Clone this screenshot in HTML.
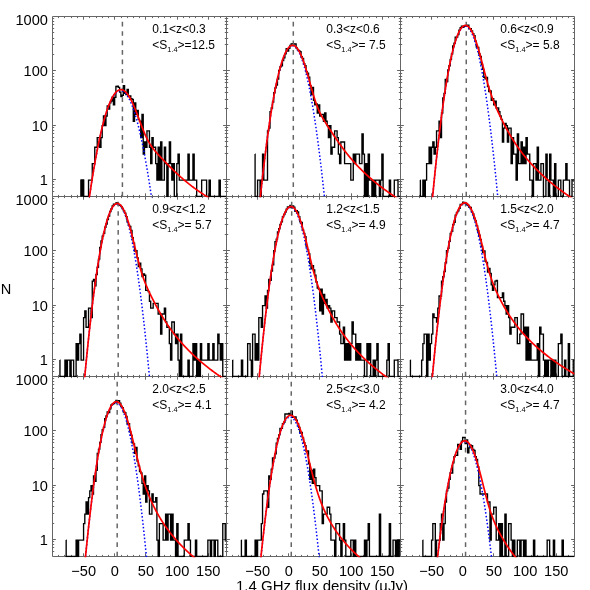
<!DOCTYPE html>
<html><head><meta charset="utf-8"><title>1.4 GHz flux density histograms</title>
<style>html,body{margin:0;padding:0;background:#fff;}body{width:590px;height:590px;overflow:hidden;font-family:"Liberation Sans",sans-serif;}svg{display:block;}</style></head>
<body>
<svg width="590" height="590" viewBox="0 0 590 590">
<rect width="590" height="590" fill="#fff"/>
<defs>
<clipPath id="c00"><rect x="52.50" y="16.50" width="174.00" height="180.70"/></clipPath>
<clipPath id="c01"><rect x="226.50" y="16.50" width="174.00" height="180.70"/></clipPath>
<clipPath id="c02"><rect x="400.50" y="16.50" width="174.00" height="180.70"/></clipPath>
<clipPath id="c10"><rect x="52.50" y="196.50" width="174.00" height="180.70"/></clipPath>
<clipPath id="c11"><rect x="226.50" y="196.50" width="174.00" height="180.70"/></clipPath>
<clipPath id="c12"><rect x="400.50" y="196.50" width="174.00" height="180.70"/></clipPath>
<clipPath id="c20"><rect x="52.50" y="376.50" width="174.00" height="180.70"/></clipPath>
<clipPath id="c21"><rect x="226.50" y="376.50" width="174.00" height="180.70"/></clipPath>
<clipPath id="c22"><rect x="400.50" y="376.50" width="174.00" height="180.70"/></clipPath>
</defs>
<path d="M52.50,16.50 H226.50 V196.50 H52.50 Z M58.50,196.50 v-1.6 M58.50,16.50 v1.6 M64.50,196.50 v-1.6 M64.50,16.50 v1.6 M71.50,196.50 v-1.6 M71.50,16.50 v1.6 M77.50,196.50 v-1.6 M77.50,16.50 v1.6 M83.50,196.50 v-3.2 M83.50,16.50 v3.2 M89.50,196.50 v-1.6 M89.50,16.50 v1.6 M96.50,196.50 v-1.6 M96.50,16.50 v1.6 M102.50,196.50 v-1.6 M102.50,16.50 v1.6 M108.50,196.50 v-1.6 M108.50,16.50 v1.6 M114.50,196.50 v-3.2 M114.50,16.50 v3.2 M121.50,196.50 v-1.6 M121.50,16.50 v1.6 M127.50,196.50 v-1.6 M127.50,16.50 v1.6 M133.50,196.50 v-1.6 M133.50,16.50 v1.6 M139.50,196.50 v-1.6 M139.50,16.50 v1.6 M145.50,196.50 v-3.2 M145.50,16.50 v3.2 M152.50,196.50 v-1.6 M152.50,16.50 v1.6 M158.50,196.50 v-1.6 M158.50,16.50 v1.6 M164.50,196.50 v-1.6 M164.50,16.50 v1.6 M170.50,196.50 v-1.6 M170.50,16.50 v1.6 M177.50,196.50 v-3.2 M177.50,16.50 v3.2 M183.50,196.50 v-1.6 M183.50,16.50 v1.6 M189.50,196.50 v-1.6 M189.50,16.50 v1.6 M195.50,196.50 v-1.6 M195.50,16.50 v1.6 M202.50,196.50 v-1.6 M202.50,16.50 v1.6 M208.50,196.50 v-3.2 M208.50,16.50 v3.2 M214.50,196.50 v-1.6 M214.50,16.50 v1.6 M220.50,196.50 v-1.6 M220.50,16.50 v1.6 M52.50,179.50 h3.4 M226.50,179.50 h-3.4 M52.50,163.50 h1.7 M226.50,163.50 h-1.7 M52.50,153.50 h1.7 M226.50,153.50 h-1.7 M52.50,146.50 h1.7 M226.50,146.50 h-1.7 M52.50,141.50 h1.7 M226.50,141.50 h-1.7 M52.50,137.50 h1.7 M226.50,137.50 h-1.7 M52.50,133.50 h1.7 M226.50,133.50 h-1.7 M52.50,130.50 h1.7 M226.50,130.50 h-1.7 M52.50,127.50 h1.7 M226.50,127.50 h-1.7 M52.50,125.50 h3.4 M226.50,125.50 h-3.4 M52.50,108.50 h1.7 M226.50,108.50 h-1.7 M52.50,99.50 h1.7 M226.50,99.50 h-1.7 M52.50,92.50 h1.7 M226.50,92.50 h-1.7 M52.50,87.50 h1.7 M226.50,87.50 h-1.7 M52.50,82.50 h1.7 M226.50,82.50 h-1.7 M52.50,79.50 h1.7 M226.50,79.50 h-1.7 M52.50,76.50 h1.7 M226.50,76.50 h-1.7 M52.50,73.50 h1.7 M226.50,73.50 h-1.7 M52.50,70.50 h3.4 M226.50,70.50 h-3.4 M52.50,54.50 h1.7 M226.50,54.50 h-1.7 M52.50,44.50 h1.7 M226.50,44.50 h-1.7 M52.50,38.50 h1.7 M226.50,38.50 h-1.7 M52.50,32.50 h1.7 M226.50,32.50 h-1.7 M52.50,28.50 h1.7 M226.50,28.50 h-1.7 M52.50,24.50 h1.7 M226.50,24.50 h-1.7 M52.50,21.50 h1.7 M226.50,21.50 h-1.7 M52.50,18.50 h1.7 M226.50,18.50 h-1.7 M52.50,191.50 h1.7 M226.50,191.50 h-1.7 M52.50,187.50 h1.7 M226.50,187.50 h-1.7 M52.50,184.50 h1.7 M226.50,184.50 h-1.7 M52.50,181.50 h1.7 M226.50,181.50 h-1.7 M226.50,16.50 H400.50 V196.50 H226.50 Z M232.50,196.50 v-1.6 M232.50,16.50 v1.6 M238.50,196.50 v-1.6 M238.50,16.50 v1.6 M245.50,196.50 v-1.6 M245.50,16.50 v1.6 M251.50,196.50 v-1.6 M251.50,16.50 v1.6 M257.50,196.50 v-3.2 M257.50,16.50 v3.2 M263.50,196.50 v-1.6 M263.50,16.50 v1.6 M270.50,196.50 v-1.6 M270.50,16.50 v1.6 M276.50,196.50 v-1.6 M276.50,16.50 v1.6 M282.50,196.50 v-1.6 M282.50,16.50 v1.6 M288.50,196.50 v-3.2 M288.50,16.50 v3.2 M295.50,196.50 v-1.6 M295.50,16.50 v1.6 M301.50,196.50 v-1.6 M301.50,16.50 v1.6 M307.50,196.50 v-1.6 M307.50,16.50 v1.6 M313.50,196.50 v-1.6 M313.50,16.50 v1.6 M319.50,196.50 v-3.2 M319.50,16.50 v3.2 M326.50,196.50 v-1.6 M326.50,16.50 v1.6 M332.50,196.50 v-1.6 M332.50,16.50 v1.6 M338.50,196.50 v-1.6 M338.50,16.50 v1.6 M344.50,196.50 v-1.6 M344.50,16.50 v1.6 M351.50,196.50 v-3.2 M351.50,16.50 v3.2 M357.50,196.50 v-1.6 M357.50,16.50 v1.6 M363.50,196.50 v-1.6 M363.50,16.50 v1.6 M369.50,196.50 v-1.6 M369.50,16.50 v1.6 M376.50,196.50 v-1.6 M376.50,16.50 v1.6 M382.50,196.50 v-3.2 M382.50,16.50 v3.2 M388.50,196.50 v-1.6 M388.50,16.50 v1.6 M394.50,196.50 v-1.6 M394.50,16.50 v1.6 M226.50,179.50 h3.4 M400.50,179.50 h-3.4 M226.50,163.50 h1.7 M400.50,163.50 h-1.7 M226.50,153.50 h1.7 M400.50,153.50 h-1.7 M226.50,146.50 h1.7 M400.50,146.50 h-1.7 M226.50,141.50 h1.7 M400.50,141.50 h-1.7 M226.50,137.50 h1.7 M400.50,137.50 h-1.7 M226.50,133.50 h1.7 M400.50,133.50 h-1.7 M226.50,130.50 h1.7 M400.50,130.50 h-1.7 M226.50,127.50 h1.7 M400.50,127.50 h-1.7 M226.50,125.50 h3.4 M400.50,125.50 h-3.4 M226.50,108.50 h1.7 M400.50,108.50 h-1.7 M226.50,99.50 h1.7 M400.50,99.50 h-1.7 M226.50,92.50 h1.7 M400.50,92.50 h-1.7 M226.50,87.50 h1.7 M400.50,87.50 h-1.7 M226.50,82.50 h1.7 M400.50,82.50 h-1.7 M226.50,79.50 h1.7 M400.50,79.50 h-1.7 M226.50,76.50 h1.7 M400.50,76.50 h-1.7 M226.50,73.50 h1.7 M400.50,73.50 h-1.7 M226.50,70.50 h3.4 M400.50,70.50 h-3.4 M226.50,54.50 h1.7 M400.50,54.50 h-1.7 M226.50,44.50 h1.7 M400.50,44.50 h-1.7 M226.50,38.50 h1.7 M400.50,38.50 h-1.7 M226.50,32.50 h1.7 M400.50,32.50 h-1.7 M226.50,28.50 h1.7 M400.50,28.50 h-1.7 M226.50,24.50 h1.7 M400.50,24.50 h-1.7 M226.50,21.50 h1.7 M400.50,21.50 h-1.7 M226.50,18.50 h1.7 M400.50,18.50 h-1.7 M226.50,191.50 h1.7 M400.50,191.50 h-1.7 M226.50,187.50 h1.7 M400.50,187.50 h-1.7 M226.50,184.50 h1.7 M400.50,184.50 h-1.7 M226.50,181.50 h1.7 M400.50,181.50 h-1.7 M400.50,16.50 H574.50 V196.50 H400.50 Z M406.50,196.50 v-1.6 M406.50,16.50 v1.6 M412.50,196.50 v-1.6 M412.50,16.50 v1.6 M419.50,196.50 v-1.6 M419.50,16.50 v1.6 M425.50,196.50 v-1.6 M425.50,16.50 v1.6 M431.50,196.50 v-3.2 M431.50,16.50 v3.2 M437.50,196.50 v-1.6 M437.50,16.50 v1.6 M444.50,196.50 v-1.6 M444.50,16.50 v1.6 M450.50,196.50 v-1.6 M450.50,16.50 v1.6 M456.50,196.50 v-1.6 M456.50,16.50 v1.6 M462.50,196.50 v-3.2 M462.50,16.50 v3.2 M469.50,196.50 v-1.6 M469.50,16.50 v1.6 M475.50,196.50 v-1.6 M475.50,16.50 v1.6 M481.50,196.50 v-1.6 M481.50,16.50 v1.6 M487.50,196.50 v-1.6 M487.50,16.50 v1.6 M493.50,196.50 v-3.2 M493.50,16.50 v3.2 M500.50,196.50 v-1.6 M500.50,16.50 v1.6 M506.50,196.50 v-1.6 M506.50,16.50 v1.6 M512.50,196.50 v-1.6 M512.50,16.50 v1.6 M518.50,196.50 v-1.6 M518.50,16.50 v1.6 M525.50,196.50 v-3.2 M525.50,16.50 v3.2 M531.50,196.50 v-1.6 M531.50,16.50 v1.6 M537.50,196.50 v-1.6 M537.50,16.50 v1.6 M543.50,196.50 v-1.6 M543.50,16.50 v1.6 M550.50,196.50 v-1.6 M550.50,16.50 v1.6 M556.50,196.50 v-3.2 M556.50,16.50 v3.2 M562.50,196.50 v-1.6 M562.50,16.50 v1.6 M568.50,196.50 v-1.6 M568.50,16.50 v1.6 M400.50,179.50 h3.4 M574.50,179.50 h-3.4 M400.50,163.50 h1.7 M574.50,163.50 h-1.7 M400.50,153.50 h1.7 M574.50,153.50 h-1.7 M400.50,146.50 h1.7 M574.50,146.50 h-1.7 M400.50,141.50 h1.7 M574.50,141.50 h-1.7 M400.50,137.50 h1.7 M574.50,137.50 h-1.7 M400.50,133.50 h1.7 M574.50,133.50 h-1.7 M400.50,130.50 h1.7 M574.50,130.50 h-1.7 M400.50,127.50 h1.7 M574.50,127.50 h-1.7 M400.50,125.50 h3.4 M574.50,125.50 h-3.4 M400.50,108.50 h1.7 M574.50,108.50 h-1.7 M400.50,99.50 h1.7 M574.50,99.50 h-1.7 M400.50,92.50 h1.7 M574.50,92.50 h-1.7 M400.50,87.50 h1.7 M574.50,87.50 h-1.7 M400.50,82.50 h1.7 M574.50,82.50 h-1.7 M400.50,79.50 h1.7 M574.50,79.50 h-1.7 M400.50,76.50 h1.7 M574.50,76.50 h-1.7 M400.50,73.50 h1.7 M574.50,73.50 h-1.7 M400.50,70.50 h3.4 M574.50,70.50 h-3.4 M400.50,54.50 h1.7 M574.50,54.50 h-1.7 M400.50,44.50 h1.7 M574.50,44.50 h-1.7 M400.50,38.50 h1.7 M574.50,38.50 h-1.7 M400.50,32.50 h1.7 M574.50,32.50 h-1.7 M400.50,28.50 h1.7 M574.50,28.50 h-1.7 M400.50,24.50 h1.7 M574.50,24.50 h-1.7 M400.50,21.50 h1.7 M574.50,21.50 h-1.7 M400.50,18.50 h1.7 M574.50,18.50 h-1.7 M400.50,191.50 h1.7 M574.50,191.50 h-1.7 M400.50,187.50 h1.7 M574.50,187.50 h-1.7 M400.50,184.50 h1.7 M574.50,184.50 h-1.7 M400.50,181.50 h1.7 M574.50,181.50 h-1.7 M52.50,196.50 H226.50 V376.50 H52.50 Z M58.50,376.50 v-1.6 M58.50,196.50 v1.6 M64.50,376.50 v-1.6 M64.50,196.50 v1.6 M71.50,376.50 v-1.6 M71.50,196.50 v1.6 M77.50,376.50 v-1.6 M77.50,196.50 v1.6 M83.50,376.50 v-3.2 M83.50,196.50 v3.2 M89.50,376.50 v-1.6 M89.50,196.50 v1.6 M96.50,376.50 v-1.6 M96.50,196.50 v1.6 M102.50,376.50 v-1.6 M102.50,196.50 v1.6 M108.50,376.50 v-1.6 M108.50,196.50 v1.6 M114.50,376.50 v-3.2 M114.50,196.50 v3.2 M121.50,376.50 v-1.6 M121.50,196.50 v1.6 M127.50,376.50 v-1.6 M127.50,196.50 v1.6 M133.50,376.50 v-1.6 M133.50,196.50 v1.6 M139.50,376.50 v-1.6 M139.50,196.50 v1.6 M145.50,376.50 v-3.2 M145.50,196.50 v3.2 M152.50,376.50 v-1.6 M152.50,196.50 v1.6 M158.50,376.50 v-1.6 M158.50,196.50 v1.6 M164.50,376.50 v-1.6 M164.50,196.50 v1.6 M170.50,376.50 v-1.6 M170.50,196.50 v1.6 M177.50,376.50 v-3.2 M177.50,196.50 v3.2 M183.50,376.50 v-1.6 M183.50,196.50 v1.6 M189.50,376.50 v-1.6 M189.50,196.50 v1.6 M195.50,376.50 v-1.6 M195.50,196.50 v1.6 M202.50,376.50 v-1.6 M202.50,196.50 v1.6 M208.50,376.50 v-3.2 M208.50,196.50 v3.2 M214.50,376.50 v-1.6 M214.50,196.50 v1.6 M220.50,376.50 v-1.6 M220.50,196.50 v1.6 M52.50,359.50 h3.4 M226.50,359.50 h-3.4 M52.50,343.50 h1.7 M226.50,343.50 h-1.7 M52.50,333.50 h1.7 M226.50,333.50 h-1.7 M52.50,326.50 h1.7 M226.50,326.50 h-1.7 M52.50,321.50 h1.7 M226.50,321.50 h-1.7 M52.50,317.50 h1.7 M226.50,317.50 h-1.7 M52.50,313.50 h1.7 M226.50,313.50 h-1.7 M52.50,310.50 h1.7 M226.50,310.50 h-1.7 M52.50,307.50 h1.7 M226.50,307.50 h-1.7 M52.50,305.50 h3.4 M226.50,305.50 h-3.4 M52.50,288.50 h1.7 M226.50,288.50 h-1.7 M52.50,279.50 h1.7 M226.50,279.50 h-1.7 M52.50,272.50 h1.7 M226.50,272.50 h-1.7 M52.50,267.50 h1.7 M226.50,267.50 h-1.7 M52.50,262.50 h1.7 M226.50,262.50 h-1.7 M52.50,259.50 h1.7 M226.50,259.50 h-1.7 M52.50,256.50 h1.7 M226.50,256.50 h-1.7 M52.50,253.50 h1.7 M226.50,253.50 h-1.7 M52.50,250.50 h3.4 M226.50,250.50 h-3.4 M52.50,234.50 h1.7 M226.50,234.50 h-1.7 M52.50,224.50 h1.7 M226.50,224.50 h-1.7 M52.50,218.50 h1.7 M226.50,218.50 h-1.7 M52.50,212.50 h1.7 M226.50,212.50 h-1.7 M52.50,208.50 h1.7 M226.50,208.50 h-1.7 M52.50,204.50 h1.7 M226.50,204.50 h-1.7 M52.50,201.50 h1.7 M226.50,201.50 h-1.7 M52.50,198.50 h1.7 M226.50,198.50 h-1.7 M52.50,371.50 h1.7 M226.50,371.50 h-1.7 M52.50,367.50 h1.7 M226.50,367.50 h-1.7 M52.50,364.50 h1.7 M226.50,364.50 h-1.7 M52.50,361.50 h1.7 M226.50,361.50 h-1.7 M226.50,196.50 H400.50 V376.50 H226.50 Z M232.50,376.50 v-1.6 M232.50,196.50 v1.6 M238.50,376.50 v-1.6 M238.50,196.50 v1.6 M245.50,376.50 v-1.6 M245.50,196.50 v1.6 M251.50,376.50 v-1.6 M251.50,196.50 v1.6 M257.50,376.50 v-3.2 M257.50,196.50 v3.2 M263.50,376.50 v-1.6 M263.50,196.50 v1.6 M270.50,376.50 v-1.6 M270.50,196.50 v1.6 M276.50,376.50 v-1.6 M276.50,196.50 v1.6 M282.50,376.50 v-1.6 M282.50,196.50 v1.6 M288.50,376.50 v-3.2 M288.50,196.50 v3.2 M295.50,376.50 v-1.6 M295.50,196.50 v1.6 M301.50,376.50 v-1.6 M301.50,196.50 v1.6 M307.50,376.50 v-1.6 M307.50,196.50 v1.6 M313.50,376.50 v-1.6 M313.50,196.50 v1.6 M319.50,376.50 v-3.2 M319.50,196.50 v3.2 M326.50,376.50 v-1.6 M326.50,196.50 v1.6 M332.50,376.50 v-1.6 M332.50,196.50 v1.6 M338.50,376.50 v-1.6 M338.50,196.50 v1.6 M344.50,376.50 v-1.6 M344.50,196.50 v1.6 M351.50,376.50 v-3.2 M351.50,196.50 v3.2 M357.50,376.50 v-1.6 M357.50,196.50 v1.6 M363.50,376.50 v-1.6 M363.50,196.50 v1.6 M369.50,376.50 v-1.6 M369.50,196.50 v1.6 M376.50,376.50 v-1.6 M376.50,196.50 v1.6 M382.50,376.50 v-3.2 M382.50,196.50 v3.2 M388.50,376.50 v-1.6 M388.50,196.50 v1.6 M394.50,376.50 v-1.6 M394.50,196.50 v1.6 M226.50,359.50 h3.4 M400.50,359.50 h-3.4 M226.50,343.50 h1.7 M400.50,343.50 h-1.7 M226.50,333.50 h1.7 M400.50,333.50 h-1.7 M226.50,326.50 h1.7 M400.50,326.50 h-1.7 M226.50,321.50 h1.7 M400.50,321.50 h-1.7 M226.50,317.50 h1.7 M400.50,317.50 h-1.7 M226.50,313.50 h1.7 M400.50,313.50 h-1.7 M226.50,310.50 h1.7 M400.50,310.50 h-1.7 M226.50,307.50 h1.7 M400.50,307.50 h-1.7 M226.50,305.50 h3.4 M400.50,305.50 h-3.4 M226.50,288.50 h1.7 M400.50,288.50 h-1.7 M226.50,279.50 h1.7 M400.50,279.50 h-1.7 M226.50,272.50 h1.7 M400.50,272.50 h-1.7 M226.50,267.50 h1.7 M400.50,267.50 h-1.7 M226.50,262.50 h1.7 M400.50,262.50 h-1.7 M226.50,259.50 h1.7 M400.50,259.50 h-1.7 M226.50,256.50 h1.7 M400.50,256.50 h-1.7 M226.50,253.50 h1.7 M400.50,253.50 h-1.7 M226.50,250.50 h3.4 M400.50,250.50 h-3.4 M226.50,234.50 h1.7 M400.50,234.50 h-1.7 M226.50,224.50 h1.7 M400.50,224.50 h-1.7 M226.50,218.50 h1.7 M400.50,218.50 h-1.7 M226.50,212.50 h1.7 M400.50,212.50 h-1.7 M226.50,208.50 h1.7 M400.50,208.50 h-1.7 M226.50,204.50 h1.7 M400.50,204.50 h-1.7 M226.50,201.50 h1.7 M400.50,201.50 h-1.7 M226.50,198.50 h1.7 M400.50,198.50 h-1.7 M226.50,371.50 h1.7 M400.50,371.50 h-1.7 M226.50,367.50 h1.7 M400.50,367.50 h-1.7 M226.50,364.50 h1.7 M400.50,364.50 h-1.7 M226.50,361.50 h1.7 M400.50,361.50 h-1.7 M400.50,196.50 H574.50 V376.50 H400.50 Z M406.50,376.50 v-1.6 M406.50,196.50 v1.6 M412.50,376.50 v-1.6 M412.50,196.50 v1.6 M419.50,376.50 v-1.6 M419.50,196.50 v1.6 M425.50,376.50 v-1.6 M425.50,196.50 v1.6 M431.50,376.50 v-3.2 M431.50,196.50 v3.2 M437.50,376.50 v-1.6 M437.50,196.50 v1.6 M444.50,376.50 v-1.6 M444.50,196.50 v1.6 M450.50,376.50 v-1.6 M450.50,196.50 v1.6 M456.50,376.50 v-1.6 M456.50,196.50 v1.6 M462.50,376.50 v-3.2 M462.50,196.50 v3.2 M469.50,376.50 v-1.6 M469.50,196.50 v1.6 M475.50,376.50 v-1.6 M475.50,196.50 v1.6 M481.50,376.50 v-1.6 M481.50,196.50 v1.6 M487.50,376.50 v-1.6 M487.50,196.50 v1.6 M493.50,376.50 v-3.2 M493.50,196.50 v3.2 M500.50,376.50 v-1.6 M500.50,196.50 v1.6 M506.50,376.50 v-1.6 M506.50,196.50 v1.6 M512.50,376.50 v-1.6 M512.50,196.50 v1.6 M518.50,376.50 v-1.6 M518.50,196.50 v1.6 M525.50,376.50 v-3.2 M525.50,196.50 v3.2 M531.50,376.50 v-1.6 M531.50,196.50 v1.6 M537.50,376.50 v-1.6 M537.50,196.50 v1.6 M543.50,376.50 v-1.6 M543.50,196.50 v1.6 M550.50,376.50 v-1.6 M550.50,196.50 v1.6 M556.50,376.50 v-3.2 M556.50,196.50 v3.2 M562.50,376.50 v-1.6 M562.50,196.50 v1.6 M568.50,376.50 v-1.6 M568.50,196.50 v1.6 M400.50,359.50 h3.4 M574.50,359.50 h-3.4 M400.50,343.50 h1.7 M574.50,343.50 h-1.7 M400.50,333.50 h1.7 M574.50,333.50 h-1.7 M400.50,326.50 h1.7 M574.50,326.50 h-1.7 M400.50,321.50 h1.7 M574.50,321.50 h-1.7 M400.50,317.50 h1.7 M574.50,317.50 h-1.7 M400.50,313.50 h1.7 M574.50,313.50 h-1.7 M400.50,310.50 h1.7 M574.50,310.50 h-1.7 M400.50,307.50 h1.7 M574.50,307.50 h-1.7 M400.50,305.50 h3.4 M574.50,305.50 h-3.4 M400.50,288.50 h1.7 M574.50,288.50 h-1.7 M400.50,279.50 h1.7 M574.50,279.50 h-1.7 M400.50,272.50 h1.7 M574.50,272.50 h-1.7 M400.50,267.50 h1.7 M574.50,267.50 h-1.7 M400.50,262.50 h1.7 M574.50,262.50 h-1.7 M400.50,259.50 h1.7 M574.50,259.50 h-1.7 M400.50,256.50 h1.7 M574.50,256.50 h-1.7 M400.50,253.50 h1.7 M574.50,253.50 h-1.7 M400.50,250.50 h3.4 M574.50,250.50 h-3.4 M400.50,234.50 h1.7 M574.50,234.50 h-1.7 M400.50,224.50 h1.7 M574.50,224.50 h-1.7 M400.50,218.50 h1.7 M574.50,218.50 h-1.7 M400.50,212.50 h1.7 M574.50,212.50 h-1.7 M400.50,208.50 h1.7 M574.50,208.50 h-1.7 M400.50,204.50 h1.7 M574.50,204.50 h-1.7 M400.50,201.50 h1.7 M574.50,201.50 h-1.7 M400.50,198.50 h1.7 M574.50,198.50 h-1.7 M400.50,371.50 h1.7 M574.50,371.50 h-1.7 M400.50,367.50 h1.7 M574.50,367.50 h-1.7 M400.50,364.50 h1.7 M574.50,364.50 h-1.7 M400.50,361.50 h1.7 M574.50,361.50 h-1.7 M52.50,376.50 H226.50 V556.50 H52.50 Z M58.50,556.50 v-1.6 M58.50,376.50 v1.6 M64.50,556.50 v-1.6 M64.50,376.50 v1.6 M71.50,556.50 v-1.6 M71.50,376.50 v1.6 M77.50,556.50 v-1.6 M77.50,376.50 v1.6 M83.50,556.50 v-3.2 M83.50,376.50 v3.2 M89.50,556.50 v-1.6 M89.50,376.50 v1.6 M96.50,556.50 v-1.6 M96.50,376.50 v1.6 M102.50,556.50 v-1.6 M102.50,376.50 v1.6 M108.50,556.50 v-1.6 M108.50,376.50 v1.6 M114.50,556.50 v-3.2 M114.50,376.50 v3.2 M121.50,556.50 v-1.6 M121.50,376.50 v1.6 M127.50,556.50 v-1.6 M127.50,376.50 v1.6 M133.50,556.50 v-1.6 M133.50,376.50 v1.6 M139.50,556.50 v-1.6 M139.50,376.50 v1.6 M145.50,556.50 v-3.2 M145.50,376.50 v3.2 M152.50,556.50 v-1.6 M152.50,376.50 v1.6 M158.50,556.50 v-1.6 M158.50,376.50 v1.6 M164.50,556.50 v-1.6 M164.50,376.50 v1.6 M170.50,556.50 v-1.6 M170.50,376.50 v1.6 M177.50,556.50 v-3.2 M177.50,376.50 v3.2 M183.50,556.50 v-1.6 M183.50,376.50 v1.6 M189.50,556.50 v-1.6 M189.50,376.50 v1.6 M195.50,556.50 v-1.6 M195.50,376.50 v1.6 M202.50,556.50 v-1.6 M202.50,376.50 v1.6 M208.50,556.50 v-3.2 M208.50,376.50 v3.2 M214.50,556.50 v-1.6 M214.50,376.50 v1.6 M220.50,556.50 v-1.6 M220.50,376.50 v1.6 M52.50,539.50 h3.4 M226.50,539.50 h-3.4 M52.50,523.50 h1.7 M226.50,523.50 h-1.7 M52.50,513.50 h1.7 M226.50,513.50 h-1.7 M52.50,506.50 h1.7 M226.50,506.50 h-1.7 M52.50,501.50 h1.7 M226.50,501.50 h-1.7 M52.50,497.50 h1.7 M226.50,497.50 h-1.7 M52.50,493.50 h1.7 M226.50,493.50 h-1.7 M52.50,490.50 h1.7 M226.50,490.50 h-1.7 M52.50,487.50 h1.7 M226.50,487.50 h-1.7 M52.50,485.50 h3.4 M226.50,485.50 h-3.4 M52.50,468.50 h1.7 M226.50,468.50 h-1.7 M52.50,459.50 h1.7 M226.50,459.50 h-1.7 M52.50,452.50 h1.7 M226.50,452.50 h-1.7 M52.50,447.50 h1.7 M226.50,447.50 h-1.7 M52.50,442.50 h1.7 M226.50,442.50 h-1.7 M52.50,439.50 h1.7 M226.50,439.50 h-1.7 M52.50,436.50 h1.7 M226.50,436.50 h-1.7 M52.50,433.50 h1.7 M226.50,433.50 h-1.7 M52.50,430.50 h3.4 M226.50,430.50 h-3.4 M52.50,414.50 h1.7 M226.50,414.50 h-1.7 M52.50,404.50 h1.7 M226.50,404.50 h-1.7 M52.50,398.50 h1.7 M226.50,398.50 h-1.7 M52.50,392.50 h1.7 M226.50,392.50 h-1.7 M52.50,388.50 h1.7 M226.50,388.50 h-1.7 M52.50,384.50 h1.7 M226.50,384.50 h-1.7 M52.50,381.50 h1.7 M226.50,381.50 h-1.7 M52.50,378.50 h1.7 M226.50,378.50 h-1.7 M52.50,551.50 h1.7 M226.50,551.50 h-1.7 M52.50,547.50 h1.7 M226.50,547.50 h-1.7 M52.50,544.50 h1.7 M226.50,544.50 h-1.7 M52.50,541.50 h1.7 M226.50,541.50 h-1.7 M226.50,376.50 H400.50 V556.50 H226.50 Z M232.50,556.50 v-1.6 M232.50,376.50 v1.6 M238.50,556.50 v-1.6 M238.50,376.50 v1.6 M245.50,556.50 v-1.6 M245.50,376.50 v1.6 M251.50,556.50 v-1.6 M251.50,376.50 v1.6 M257.50,556.50 v-3.2 M257.50,376.50 v3.2 M263.50,556.50 v-1.6 M263.50,376.50 v1.6 M270.50,556.50 v-1.6 M270.50,376.50 v1.6 M276.50,556.50 v-1.6 M276.50,376.50 v1.6 M282.50,556.50 v-1.6 M282.50,376.50 v1.6 M288.50,556.50 v-3.2 M288.50,376.50 v3.2 M295.50,556.50 v-1.6 M295.50,376.50 v1.6 M301.50,556.50 v-1.6 M301.50,376.50 v1.6 M307.50,556.50 v-1.6 M307.50,376.50 v1.6 M313.50,556.50 v-1.6 M313.50,376.50 v1.6 M319.50,556.50 v-3.2 M319.50,376.50 v3.2 M326.50,556.50 v-1.6 M326.50,376.50 v1.6 M332.50,556.50 v-1.6 M332.50,376.50 v1.6 M338.50,556.50 v-1.6 M338.50,376.50 v1.6 M344.50,556.50 v-1.6 M344.50,376.50 v1.6 M351.50,556.50 v-3.2 M351.50,376.50 v3.2 M357.50,556.50 v-1.6 M357.50,376.50 v1.6 M363.50,556.50 v-1.6 M363.50,376.50 v1.6 M369.50,556.50 v-1.6 M369.50,376.50 v1.6 M376.50,556.50 v-1.6 M376.50,376.50 v1.6 M382.50,556.50 v-3.2 M382.50,376.50 v3.2 M388.50,556.50 v-1.6 M388.50,376.50 v1.6 M394.50,556.50 v-1.6 M394.50,376.50 v1.6 M226.50,539.50 h3.4 M400.50,539.50 h-3.4 M226.50,523.50 h1.7 M400.50,523.50 h-1.7 M226.50,513.50 h1.7 M400.50,513.50 h-1.7 M226.50,506.50 h1.7 M400.50,506.50 h-1.7 M226.50,501.50 h1.7 M400.50,501.50 h-1.7 M226.50,497.50 h1.7 M400.50,497.50 h-1.7 M226.50,493.50 h1.7 M400.50,493.50 h-1.7 M226.50,490.50 h1.7 M400.50,490.50 h-1.7 M226.50,487.50 h1.7 M400.50,487.50 h-1.7 M226.50,485.50 h3.4 M400.50,485.50 h-3.4 M226.50,468.50 h1.7 M400.50,468.50 h-1.7 M226.50,459.50 h1.7 M400.50,459.50 h-1.7 M226.50,452.50 h1.7 M400.50,452.50 h-1.7 M226.50,447.50 h1.7 M400.50,447.50 h-1.7 M226.50,442.50 h1.7 M400.50,442.50 h-1.7 M226.50,439.50 h1.7 M400.50,439.50 h-1.7 M226.50,436.50 h1.7 M400.50,436.50 h-1.7 M226.50,433.50 h1.7 M400.50,433.50 h-1.7 M226.50,430.50 h3.4 M400.50,430.50 h-3.4 M226.50,414.50 h1.7 M400.50,414.50 h-1.7 M226.50,404.50 h1.7 M400.50,404.50 h-1.7 M226.50,398.50 h1.7 M400.50,398.50 h-1.7 M226.50,392.50 h1.7 M400.50,392.50 h-1.7 M226.50,388.50 h1.7 M400.50,388.50 h-1.7 M226.50,384.50 h1.7 M400.50,384.50 h-1.7 M226.50,381.50 h1.7 M400.50,381.50 h-1.7 M226.50,378.50 h1.7 M400.50,378.50 h-1.7 M226.50,551.50 h1.7 M400.50,551.50 h-1.7 M226.50,547.50 h1.7 M400.50,547.50 h-1.7 M226.50,544.50 h1.7 M400.50,544.50 h-1.7 M226.50,541.50 h1.7 M400.50,541.50 h-1.7 M400.50,376.50 H574.50 V556.50 H400.50 Z M406.50,556.50 v-1.6 M406.50,376.50 v1.6 M412.50,556.50 v-1.6 M412.50,376.50 v1.6 M419.50,556.50 v-1.6 M419.50,376.50 v1.6 M425.50,556.50 v-1.6 M425.50,376.50 v1.6 M431.50,556.50 v-3.2 M431.50,376.50 v3.2 M437.50,556.50 v-1.6 M437.50,376.50 v1.6 M444.50,556.50 v-1.6 M444.50,376.50 v1.6 M450.50,556.50 v-1.6 M450.50,376.50 v1.6 M456.50,556.50 v-1.6 M456.50,376.50 v1.6 M462.50,556.50 v-3.2 M462.50,376.50 v3.2 M469.50,556.50 v-1.6 M469.50,376.50 v1.6 M475.50,556.50 v-1.6 M475.50,376.50 v1.6 M481.50,556.50 v-1.6 M481.50,376.50 v1.6 M487.50,556.50 v-1.6 M487.50,376.50 v1.6 M493.50,556.50 v-3.2 M493.50,376.50 v3.2 M500.50,556.50 v-1.6 M500.50,376.50 v1.6 M506.50,556.50 v-1.6 M506.50,376.50 v1.6 M512.50,556.50 v-1.6 M512.50,376.50 v1.6 M518.50,556.50 v-1.6 M518.50,376.50 v1.6 M525.50,556.50 v-3.2 M525.50,376.50 v3.2 M531.50,556.50 v-1.6 M531.50,376.50 v1.6 M537.50,556.50 v-1.6 M537.50,376.50 v1.6 M543.50,556.50 v-1.6 M543.50,376.50 v1.6 M550.50,556.50 v-1.6 M550.50,376.50 v1.6 M556.50,556.50 v-3.2 M556.50,376.50 v3.2 M562.50,556.50 v-1.6 M562.50,376.50 v1.6 M568.50,556.50 v-1.6 M568.50,376.50 v1.6 M400.50,539.50 h3.4 M574.50,539.50 h-3.4 M400.50,523.50 h1.7 M574.50,523.50 h-1.7 M400.50,513.50 h1.7 M574.50,513.50 h-1.7 M400.50,506.50 h1.7 M574.50,506.50 h-1.7 M400.50,501.50 h1.7 M574.50,501.50 h-1.7 M400.50,497.50 h1.7 M574.50,497.50 h-1.7 M400.50,493.50 h1.7 M574.50,493.50 h-1.7 M400.50,490.50 h1.7 M574.50,490.50 h-1.7 M400.50,487.50 h1.7 M574.50,487.50 h-1.7 M400.50,485.50 h3.4 M574.50,485.50 h-3.4 M400.50,468.50 h1.7 M574.50,468.50 h-1.7 M400.50,459.50 h1.7 M574.50,459.50 h-1.7 M400.50,452.50 h1.7 M574.50,452.50 h-1.7 M400.50,447.50 h1.7 M574.50,447.50 h-1.7 M400.50,442.50 h1.7 M574.50,442.50 h-1.7 M400.50,439.50 h1.7 M574.50,439.50 h-1.7 M400.50,436.50 h1.7 M574.50,436.50 h-1.7 M400.50,433.50 h1.7 M574.50,433.50 h-1.7 M400.50,430.50 h3.4 M574.50,430.50 h-3.4 M400.50,414.50 h1.7 M574.50,414.50 h-1.7 M400.50,404.50 h1.7 M574.50,404.50 h-1.7 M400.50,398.50 h1.7 M574.50,398.50 h-1.7 M400.50,392.50 h1.7 M574.50,392.50 h-1.7 M400.50,388.50 h1.7 M574.50,388.50 h-1.7 M400.50,384.50 h1.7 M574.50,384.50 h-1.7 M400.50,381.50 h1.7 M574.50,381.50 h-1.7 M400.50,378.50 h1.7 M574.50,378.50 h-1.7 M400.50,551.50 h1.7 M574.50,551.50 h-1.7 M400.50,547.50 h1.7 M574.50,547.50 h-1.7 M400.50,544.50 h1.7 M574.50,544.50 h-1.7 M400.50,541.50 h1.7 M574.50,541.50 h-1.7" fill="none" stroke="#666" stroke-width="1"/>
<g clip-path="url(#c00)">
<path d="M81.09,196.50 L81.09,180.09 L82.33,180.09 L82.33,180.09 L83.57,180.09 L83.57,196.50 L84.81,196.50 L84.81,196.50 L86.06,196.50 L86.06,196.50 L87.30,196.50 L87.30,196.50 L88.54,196.50 L88.54,180.09 L89.79,180.09 L89.79,180.09 L91.03,180.09 L91.03,180.09 L92.27,180.09 L92.27,163.67 L93.51,163.67 L93.51,163.67 L94.76,163.67 L94.76,147.26 L96.00,147.26 L96.00,147.26 L97.24,147.26 L97.24,137.65 L98.49,137.65 L98.49,137.65 L99.73,137.65 L99.73,147.26 L100.97,147.26 L100.97,137.65 L102.21,137.65 L102.21,125.56 L103.46,125.56 L103.46,115.95 L104.70,115.95 L104.70,125.56 L105.94,125.56 L105.94,115.95 L107.19,115.95 L107.19,105.83 L108.43,105.83 L108.43,109.14 L109.67,109.14 L109.67,102.93 L110.91,102.93 L110.91,101.17 L112.16,101.17 L112.16,97.28 L113.40,97.28 L113.40,104.82 L114.64,104.82 L114.64,97.28 L115.89,97.28 L115.89,86.51 L117.13,86.51 L117.13,86.06 L118.37,86.06 L118.37,87.44 L119.61,87.44 L119.61,92.14 L120.86,92.14 L120.86,96.58 L122.10,96.58 L122.10,95.22 L123.34,95.22 L123.34,85.62 L124.59,85.62 L124.59,93.33 L125.83,93.33 L125.83,94.57 L127.07,94.57 L127.07,89.42 L128.31,89.42 L128.31,96.58 L129.56,96.58 L129.56,95.89 L130.80,95.89 L130.80,98.76 L132.04,98.76 L132.04,99.54 L133.29,99.54 L133.29,121.24 L134.53,121.24 L134.53,102.93 L135.77,102.93 L135.77,114.43 L137.01,114.43 L137.01,110.36 L138.26,110.36 L138.26,119.34 L139.50,119.34 L139.50,121.24 L140.74,121.24 L140.74,137.65 L141.99,137.65 L141.99,114.43 L143.23,114.43 L143.23,154.07 L144.47,154.07 L144.47,141.97 L145.71,141.97 L145.71,147.26 L146.96,147.26 L146.96,130.84 L148.20,130.84 L148.20,130.84 L149.44,130.84 L149.44,147.26 L150.69,147.26 L150.69,163.67 L151.93,163.67 L151.93,137.65 L153.17,137.65 L153.17,147.26 L154.41,147.26 L154.41,147.26 L155.66,147.26 L155.66,163.67 L156.90,163.67 L156.90,180.09 L158.14,180.09 L158.14,147.26 L159.39,147.26 L159.39,180.09 L160.63,180.09 L160.63,141.97 L161.87,141.97 L161.87,180.09 L163.11,180.09 L163.11,180.09 L164.36,180.09 L164.36,147.26 L165.60,147.26 L165.60,163.67 L166.84,163.67 L166.84,196.50 L168.09,196.50 L168.09,163.67 L169.33,163.67 L169.33,141.97 L170.57,141.97 L170.57,163.67 L171.81,163.67 L171.81,180.09 L173.06,180.09 L173.06,163.67 L174.30,163.67 L174.30,196.50 L175.54,196.50 L175.54,196.50 L176.79,196.50 L176.79,163.67 L178.03,163.67 L178.03,154.07 L179.27,154.07 L179.27,180.09 L180.51,180.09 L180.51,180.09 L181.76,180.09 L181.76,180.09 L183.00,180.09 L183.00,180.09 L184.24,180.09 L184.24,180.09 L185.49,180.09 L185.49,180.09 L186.73,180.09 L186.73,180.09 L187.97,180.09 L187.97,154.07 L189.21,154.07 L189.21,180.09 L190.46,180.09 L190.46,180.09 L191.70,180.09 L191.70,180.09 L192.94,180.09 L192.94,154.07 L194.19,154.07 L194.19,180.09 L195.43,180.09 L195.43,180.09 L196.67,180.09 L196.67,196.50 L197.91,196.50 L197.91,196.50 L199.16,196.50 L199.16,196.50 L200.40,196.50 L200.40,196.50 L201.64,196.50 L201.64,180.09 L202.89,180.09 L202.89,180.09 L204.13,180.09 L204.13,180.09 L205.37,180.09 L205.37,180.09 L206.61,180.09 L206.61,196.50 L207.86,196.50 L207.86,196.50 L209.10,196.50 L209.10,180.09 L210.34,180.09 L210.34,196.50 L211.59,196.50 L211.59,196.50 L212.83,196.50 L212.83,196.50 L214.07,196.50 L214.07,196.50 L215.31,196.50 L215.31,196.50 L216.56,196.50 L216.56,196.50 L217.80,196.50 L217.80,196.50 L219.04,196.50 L219.04,180.09 L220.29,180.09 L220.29,196.50 L221.53,196.50 L221.53,196.50 L222.77,196.50 L222.77,196.50 L224.01,196.50 L224.01,196.50 L225.26,196.50 L225.26,196.50 L226.50,196.50" fill="none" stroke="#000" stroke-width="1.35" stroke-linejoin="miter"/>
<rect x="80.49" y="179.49" width="3.69" height="17.01" fill="#000"/>
<line x1="122.41" x2="122.41" y1="196.50" y2="16.50" stroke="#666" stroke-width="1.5" stroke-dasharray="4.7,4.75"/>
<path d="M87.92,207.71 L88.23,205.48 L88.54,203.28 L88.85,201.09 L89.16,198.93 L89.47,196.79 L89.79,194.67 L90.10,192.57 L90.41,190.49 L90.72,188.43 L91.03,186.40 L91.34,184.39 L91.65,182.39 L91.96,180.42 L92.27,178.47 L92.58,176.55 L92.89,174.64 L93.20,172.75 L93.51,170.89 L93.83,169.05 L94.14,167.23 L94.45,165.43 L94.76,163.65 L95.07,161.89 L95.38,160.16 L95.69,158.44 L96.00,156.75 L96.31,155.08 L96.62,153.43 L96.93,151.80 L97.24,150.19 L97.55,148.60 L97.86,147.04 L98.18,145.50 L98.49,143.98 L98.80,142.47 L99.11,141.00 L99.42,139.54 L99.73,138.10 L100.04,136.69 L100.35,135.29 L100.66,133.92 L100.97,132.57 L101.28,131.24 L101.59,129.93 L101.90,128.65 L102.21,127.38 L102.53,126.14 L102.84,124.91 L103.15,123.71 L103.46,122.53 L103.77,121.37 L104.08,120.24 L104.39,119.12 L104.70,118.03 L105.01,116.95 L105.32,115.90 L105.63,114.87 L105.94,113.86 L106.25,112.88 L106.56,111.91 L106.88,110.97 L107.19,110.04 L107.50,109.14 L107.81,108.26 L108.12,107.40 L108.43,106.56 L108.74,105.75 L109.05,104.95 L109.36,104.18 L109.67,103.43 L109.98,102.70 L110.29,101.99 L110.60,101.30 L110.91,100.63 L111.22,99.99 L111.54,99.36 L111.85,98.76 L112.16,98.18 L112.47,97.62 L112.78,97.08 L113.09,96.56 L113.40,96.07 L113.71,95.59 L114.02,95.14 L114.33,94.71 L114.64,94.30 L114.95,93.91 L115.26,93.54 L115.58,93.20 L115.89,92.87 L116.20,92.57 L116.51,92.29 L116.82,92.03 L117.13,91.79 L117.44,91.57 L117.75,91.37 L118.06,91.20 L118.37,91.04 L118.68,90.91 L118.99,90.80 L119.30,90.71 L119.61,90.64 L119.92,90.60 L120.24,90.57 L120.55,90.57 L120.86,90.58 L121.17,90.62 L121.48,90.68 L121.79,90.76 L122.10,90.87 L122.41,90.99 L122.72,91.14 L123.03,91.30 L123.34,91.49 L123.65,91.70 L123.96,91.93 L124.28,92.19 L124.59,92.46 L124.90,92.75 L125.21,93.07 L125.52,93.41 L125.83,93.77 L126.14,94.15 L126.45,94.55 L126.76,94.98 L127.07,95.42 L127.38,95.89 L127.69,96.37 L128.00,96.88 L128.31,97.41 L128.62,97.97 L128.94,98.54 L129.25,99.13 L129.56,99.75 L129.87,100.39 L130.18,101.05 L130.49,101.73 L130.80,102.43 L131.11,103.15 L131.42,103.89 L131.73,104.66 L132.04,105.45 L132.35,106.25 L132.66,107.08 L132.98,107.94 L133.29,108.81 L133.60,109.70 L133.91,110.62 L134.22,111.55 L134.53,112.51 L134.84,113.49 L135.15,114.49 L135.46,115.51 L135.77,116.56 L136.08,117.62 L136.39,118.71 L136.70,119.82 L137.01,120.95 L137.32,122.10 L137.64,123.27 L137.95,124.46 L138.26,125.67 L138.57,126.91 L138.88,128.17 L139.19,129.45 L139.50,130.75 L139.81,132.07 L140.12,133.41 L140.43,134.78 L140.74,136.16 L141.05,137.57 L141.36,139.00 L141.68,140.45 L141.99,141.92 L142.30,143.41 L142.61,144.92 L142.92,146.46 L143.23,148.01 L143.54,149.59 L143.85,151.19 L144.16,152.81 L144.47,154.45 L144.78,156.12 L145.09,157.80 L145.40,159.51 L145.71,161.24 L146.03,162.99 L146.34,164.76 L146.65,166.55 L146.96,168.36 L147.27,170.20 L147.58,172.05 L147.89,173.93 L148.20,175.83 L148.51,177.75 L148.82,179.69 L149.13,181.65 L149.44,183.64 L149.75,185.64 L150.06,187.67 L150.38,189.72 L150.69,191.79 L151.00,193.88 L151.31,195.99 L151.62,198.12 L151.93,200.28 L152.24,202.45 L152.55,204.65 L152.86,206.87" fill="none" stroke="#0000ff" stroke-width="1.5" stroke-dasharray="1.5,2.1"/>
<path d="M87.92,207.56 L88.23,205.33 L88.54,203.13 L88.85,200.94 L89.16,198.78 L89.47,196.63 L89.79,194.51 L90.10,192.41 L90.41,190.33 L90.72,188.28 L91.03,186.24 L91.34,184.22 L91.65,182.23 L91.96,180.26 L92.27,178.31 L92.58,176.38 L92.89,174.47 L93.20,172.58 L93.51,170.72 L93.83,168.87 L94.14,167.05 L94.45,165.25 L94.76,163.47 L95.07,161.71 L95.38,159.97 L95.69,158.26 L96.00,156.56 L96.31,154.89 L96.62,153.24 L96.93,151.60 L97.24,149.99 L97.55,148.41 L97.86,146.84 L98.18,145.29 L98.49,143.77 L98.80,142.27 L99.11,140.78 L99.42,139.32 L99.73,137.88 L100.04,136.47 L100.35,135.07 L100.66,133.69 L100.97,132.34 L101.28,131.01 L101.59,129.70 L101.90,128.41 L102.21,127.14 L102.53,125.89 L102.84,124.66 L103.15,123.46 L103.46,122.27 L103.77,121.11 L104.08,119.97 L104.39,118.85 L104.70,117.75 L105.01,116.67 L105.32,115.62 L105.63,114.58 L105.94,113.57 L106.25,112.57 L106.56,111.60 L106.88,110.65 L107.19,109.72 L107.50,108.82 L107.81,107.93 L108.12,107.06 L108.43,106.22 L108.74,105.40 L109.05,104.59 L109.36,103.81 L109.67,103.05 L109.98,102.31 L110.29,101.60 L110.60,100.90 L110.91,100.22 L111.22,99.57 L111.54,98.94 L111.85,98.32 L112.16,97.73 L112.47,97.16 L112.78,96.61 L113.09,96.09 L113.40,95.58 L113.71,95.09 L114.02,94.63 L114.33,94.18 L114.64,93.76 L114.95,93.36 L115.26,92.97 L115.58,92.61 L115.89,92.27 L116.20,91.95 L116.51,91.66 L116.82,91.38 L117.13,91.12 L117.44,90.88 L117.75,90.67 L118.06,90.47 L118.37,90.30 L118.68,90.15 L118.99,90.01 L119.30,89.90 L119.61,89.81 L119.92,89.73 L120.24,89.68 L120.55,89.65 L120.86,89.64 L121.17,89.65 L121.48,89.68 L121.79,89.73 L122.10,89.80 L122.41,89.89 L122.72,89.99 L123.03,90.12 L123.34,90.27 L123.65,90.44 L123.96,90.63 L124.28,90.83 L124.59,91.06 L124.90,91.31 L125.21,91.57 L125.52,91.85 L125.83,92.16 L126.14,92.48 L126.45,92.82 L126.76,93.18 L127.07,93.55 L127.38,93.95 L127.69,94.36 L128.00,94.79 L128.31,95.24 L128.62,95.71 L128.94,96.19 L129.25,96.69 L129.56,97.21 L129.87,97.74 L130.18,98.29 L130.49,98.86 L130.80,99.44 L131.11,100.03 L131.42,100.65 L131.73,101.27 L132.04,101.92 L132.35,102.57 L132.66,103.24 L132.98,103.92 L133.29,104.62 L133.60,105.33 L133.91,106.05 L134.22,106.78 L134.53,107.52 L134.84,108.28 L135.15,109.04 L135.46,109.81 L135.77,110.59 L136.08,111.38 L136.39,112.18 L136.70,112.99 L137.01,113.80 L137.32,114.61 L137.64,115.43 L137.95,116.26 L138.26,117.09 L138.57,117.92 L138.88,118.75 L139.19,119.59 L139.50,120.42 L139.81,121.26 L140.12,122.09 L140.43,122.92 L140.74,123.75 L141.05,124.57 L141.36,125.39 L141.68,126.20 L141.99,127.01 L142.30,127.81 L142.61,128.61 L142.92,129.39 L143.23,130.17 L143.54,130.93 L143.85,131.69 L144.16,132.43 L144.47,133.17 L144.78,133.89 L145.09,134.60 L145.40,135.30 L145.71,135.98 L146.03,136.65 L146.34,137.31 L146.65,137.95 L146.96,138.58 L147.27,139.20 L147.58,139.80 L147.89,140.39 L148.20,140.97 L148.51,141.54 L148.82,142.09 L149.13,142.62 L149.44,143.15 L149.75,143.66 L150.06,144.16 L150.38,144.66 L150.69,145.14 L151.00,145.60 L151.31,146.06 L151.62,146.51 L151.93,146.95 L152.24,147.38 L152.55,147.81 L152.86,148.22 L153.17,148.63 L153.48,149.03 L153.79,149.43 L154.10,149.81 L154.41,150.20 L154.73,150.57 L155.04,150.95 L155.35,151.32 L155.66,151.68 L155.97,152.04 L156.28,152.40 L156.59,152.75 L156.90,153.10 L157.21,153.45 L157.52,153.79 L157.83,154.13 L158.14,154.47 L158.45,154.81 L158.76,155.15 L159.07,155.49 L159.39,155.82 L159.70,156.15 L160.01,156.49 L160.32,156.82 L160.63,157.15 L160.94,157.48 L161.25,157.80 L161.56,158.13 L161.87,158.46 L162.18,158.79 L162.49,159.11 L162.80,159.44 L163.11,159.76 L163.43,160.09 L163.74,160.41 L164.05,160.73 L164.36,161.06 L164.67,161.38 L164.98,161.70 L165.29,162.02 L165.60,162.35 L165.91,162.67 L166.22,162.99 L166.53,163.31 L166.84,163.63 L167.15,163.95 L167.46,164.26 L167.78,164.58 L168.09,164.90 L168.40,165.22 L168.71,165.53 L169.02,165.85 L169.33,166.16 L169.64,166.47 L169.95,166.79 L170.26,167.10 L170.57,167.41 L170.88,167.72 L171.19,168.03 L171.50,168.34 L171.81,168.65 L172.12,168.95 L172.44,169.26 L172.75,169.56 L173.06,169.87 L173.37,170.17 L173.68,170.47 L173.99,170.77 L174.30,171.07 L174.61,171.37 L174.92,171.67 L175.23,171.97 L175.54,172.26 L175.85,172.56 L176.16,172.85 L176.48,173.14 L176.79,173.44 L177.10,173.73 L177.41,174.01 L177.72,174.30 L178.03,174.59 L178.34,174.87 L178.65,175.16 L178.96,175.44 L179.27,175.72 L179.58,176.00 L179.89,176.28 L180.20,176.56 L180.51,176.84 L180.82,177.12 L181.14,177.39 L181.45,177.67 L181.76,177.94 L182.07,178.21 L182.38,178.48 L182.69,178.75 L183.00,179.02 L183.31,179.28 L183.62,179.55 L183.93,179.82 L184.24,180.08 L184.55,180.34 L184.86,180.60 L185.18,180.86 L185.49,181.12 L185.80,181.38 L186.11,181.64 L186.42,181.89 L186.73,182.15 L187.04,182.40 L187.35,182.65 L187.66,182.90 L187.97,183.15 L188.28,183.40 L188.59,183.65 L188.90,183.90 L189.21,184.15 L189.53,184.39 L189.84,184.63 L190.15,184.88 L190.46,185.12 L190.77,185.36 L191.08,185.60 L191.39,185.84 L191.70,186.08 L192.01,186.31 L192.32,186.55 L192.63,186.78 L192.94,187.02 L193.25,187.25 L193.56,187.48 L193.88,187.71 L194.19,187.95 L194.50,188.17 L194.81,188.40 L195.12,188.63 L195.43,188.86 L195.74,189.08 L196.05,189.31 L196.36,189.53 L196.67,189.75 L196.98,189.98 L197.29,190.20 L197.60,190.42 L197.91,190.64 L198.22,190.85 L198.54,191.07 L198.85,191.29 L199.16,191.50 L199.47,191.72 L199.78,191.93 L200.09,192.15 L200.40,192.36 L200.71,192.57 L201.02,192.78 L201.33,192.99 L201.64,193.20 L201.95,193.41 L202.26,193.62 L202.58,193.83 L202.89,194.03 L203.20,194.24 L203.51,194.44 L203.82,194.65 L204.13,194.85 L204.44,195.05 L204.75,195.25 L205.06,195.45 L205.37,195.65 L205.68,195.85 L205.99,196.05 L206.30,196.25 L206.61,196.45 L206.93,196.65 L207.24,196.84 L207.55,197.04 L207.86,197.23 L208.17,197.43 L208.48,197.62 L208.79,197.81 L209.10,198.00 L209.41,198.19 L209.72,198.38 L210.03,198.57 L210.34,198.76 L210.65,198.95 L210.96,199.14 L211.28,199.33 L211.59,199.51 L211.90,199.70 L212.21,199.89 L212.52,200.07 L212.83,200.25 L213.14,200.44 L213.45,200.62 L213.76,200.80 L214.07,200.99 L214.38,201.17 L214.69,201.35 L215.00,201.53 L215.31,201.71 L215.62,201.88 L215.94,202.06 L216.25,202.24 L216.56,202.42 L216.87,202.59 L217.18,202.77 L217.49,202.95 L217.80,203.12 L218.11,203.29 L218.42,203.47 L218.73,203.64 L219.04,203.81 L219.35,203.99 L219.66,204.16 L219.97,204.33 L220.29,204.50 L220.60,204.67 L220.91,204.84 L221.22,205.01 L221.53,205.17 L221.84,205.34 L222.15,205.51 L222.46,205.68 L222.77,205.84 L223.08,206.01 L223.39,206.17 L223.70,206.34 L224.01,206.50 L224.33,206.67 L224.64,206.83 L224.95,206.99 L225.26,207.16 L225.57,207.32 L225.88,207.48 L226.19,207.64 L226.50,207.80" fill="none" stroke="#ff0000" stroke-width="1.7" stroke-linejoin="round"/>
</g>
<g clip-path="url(#c01)">
<path d="M255.04,154.07 L255.09,154.07 L255.09,196.50 L256.33,196.50 L256.33,196.50 L257.57,196.50 L257.57,180.09 L258.81,180.09 L258.81,180.09 L260.06,180.09 L260.06,196.50 L261.30,196.50 L261.30,180.09 L262.54,180.09 L262.54,154.07 L263.79,154.07 L263.79,180.09 L265.03,180.09 L265.03,180.09 L266.27,180.09 L266.27,180.09 L267.51,180.09 L267.51,130.84 L268.76,130.84 L268.76,128.05 L270.00,128.05 L270.00,111.64 L271.24,111.64 L271.24,107.99 L272.49,107.99 L272.49,102.04 L273.73,102.04 L273.73,92.73 L274.97,92.73 L274.97,87.92 L276.21,87.92 L276.21,85.19 L277.46,85.19 L277.46,79.14 L278.70,79.14 L278.70,70.33 L279.94,70.33 L279.94,66.91 L281.19,66.91 L281.19,65.93 L282.43,65.93 L282.43,60.65 L283.67,60.65 L283.67,57.78 L284.91,57.78 L284.91,53.80 L286.16,53.80 L286.16,48.68 L287.40,48.68 L287.40,51.00 L288.64,51.00 L288.64,48.31 L289.89,48.31 L289.89,45.49 L291.13,45.49 L291.13,43.86 L292.37,43.86 L292.37,43.71 L293.61,43.71 L293.61,44.08 L294.86,44.08 L294.86,44.01 L296.10,44.01 L296.10,47.86 L297.34,47.86 L297.34,49.90 L298.59,49.90 L298.59,50.79 L299.83,50.79 L299.83,51.61 L301.07,51.61 L301.07,56.72 L302.31,56.72 L302.31,58.46 L303.56,58.46 L303.56,63.75 L304.80,63.75 L304.80,65.74 L306.04,65.74 L306.04,71.75 L307.29,71.75 L307.29,73.26 L308.53,73.26 L308.53,77.22 L309.77,77.22 L309.77,85.62 L311.01,85.62 L311.01,94.57 L312.26,94.57 L312.26,87.44 L313.50,87.44 L313.50,100.34 L314.74,100.34 L314.74,104.82 L315.99,104.82 L315.99,103.86 L317.23,103.86 L317.23,112.99 L318.47,112.99 L318.47,104.82 L319.71,104.82 L319.71,115.95 L320.96,115.95 L320.96,114.43 L322.20,114.43 L322.20,114.43 L323.44,114.43 L323.44,121.24 L324.69,121.24 L324.69,112.99 L325.93,112.99 L325.93,121.24 L327.17,121.24 L327.17,125.56 L328.41,125.56 L328.41,137.65 L329.66,137.65 L329.66,125.56 L330.90,125.56 L330.90,154.07 L332.14,154.07 L332.14,147.26 L333.39,147.26 L333.39,147.26 L334.63,147.26 L334.63,130.84 L335.87,130.84 L335.87,130.84 L337.11,130.84 L337.11,137.65 L338.36,137.65 L338.36,154.07 L339.60,154.07 L339.60,163.67 L340.84,163.67 L340.84,141.97 L342.09,141.97 L342.09,141.97 L343.33,141.97 L343.33,141.97 L344.57,141.97 L344.57,163.67 L345.81,163.67 L345.81,163.67 L347.06,163.67 L347.06,163.67 L348.30,163.67 L348.30,163.67 L349.54,163.67 L349.54,163.67 L350.79,163.67 L350.79,180.09 L352.03,180.09 L352.03,180.09 L353.27,180.09 L353.27,154.07 L354.51,154.07 L354.51,163.67 L355.76,163.67 L355.76,154.07 L357.00,154.07 L357.00,154.07 L358.24,154.07 L358.24,154.07 L359.49,154.07 L359.49,163.67 L360.73,163.67 L360.73,163.67 L361.97,163.67 L361.97,134.00 L363.21,134.00 L363.21,154.07 L364.46,154.07 L364.46,196.50 L365.70,196.50 L365.70,163.67 L366.94,163.67 L366.94,196.50 L368.19,196.50 L368.19,154.07 L369.43,154.07 L369.43,180.09 L370.67,180.09 L370.67,180.09 L371.91,180.09 L371.91,196.50 L373.16,196.50 L373.16,180.09 L374.40,180.09 L374.40,196.50 L375.64,196.50 L375.64,180.09 L376.89,180.09 L376.89,180.09 L378.13,180.09 L378.13,180.09 L379.37,180.09 L379.37,196.50 L380.61,196.50 L380.61,180.09 L381.86,180.09 L381.86,154.07 L383.10,154.07 L383.10,196.50 L384.34,196.50 L384.34,196.50 L385.59,196.50 L385.59,196.50 L386.83,196.50 L386.83,196.50 L388.07,196.50 L388.07,196.50 L389.31,196.50 L389.31,180.09 L390.56,180.09 L390.56,196.50 L391.80,196.50 L391.80,196.50 L393.04,196.50 L393.04,196.50 L394.29,196.50 L394.29,180.09 L395.53,180.09 L395.53,180.09 L396.77,180.09 L396.77,180.09 L398.01,180.09 L398.01,196.50 L399.26,196.50 L399.26,196.50 L400.50,196.50" fill="none" stroke="#000" stroke-width="1.35" stroke-linejoin="miter"/>
<line x1="293.30" x2="293.30" y1="196.50" y2="16.50" stroke="#666" stroke-width="1.5" stroke-dasharray="4.7,4.75"/>
<path d="M259.44,205.70 L259.75,202.70 L260.06,199.73 L260.37,196.79 L260.68,193.87 L260.99,190.99 L261.30,188.13 L261.61,185.30 L261.92,182.50 L262.23,179.73 L262.54,176.98 L262.85,174.27 L263.16,171.58 L263.48,168.92 L263.79,166.29 L264.10,163.69 L264.41,161.11 L264.72,158.57 L265.03,156.05 L265.34,153.56 L265.65,151.10 L265.96,148.67 L266.27,146.27 L266.58,143.89 L266.89,141.55 L267.20,139.23 L267.51,136.94 L267.82,134.68 L268.14,132.44 L268.45,130.24 L268.76,128.06 L269.07,125.92 L269.38,123.80 L269.69,121.71 L270.00,119.64 L270.31,117.61 L270.62,115.61 L270.93,113.63 L271.24,111.68 L271.55,109.76 L271.86,107.87 L272.18,106.00 L272.49,104.17 L272.80,102.36 L273.11,100.59 L273.42,98.84 L273.73,97.11 L274.04,95.42 L274.35,93.76 L274.66,92.12 L274.97,90.51 L275.28,88.93 L275.59,87.38 L275.90,85.86 L276.21,84.37 L276.52,82.90 L276.84,81.46 L277.15,80.06 L277.46,78.68 L277.77,77.32 L278.08,76.00 L278.39,74.71 L278.70,73.44 L279.01,72.20 L279.32,70.99 L279.63,69.81 L279.94,68.66 L280.25,67.53 L280.56,66.44 L280.88,65.37 L281.19,64.33 L281.50,63.32 L281.81,62.34 L282.12,61.38 L282.43,60.46 L282.74,59.56 L283.05,58.69 L283.36,57.85 L283.67,57.04 L283.98,56.25 L284.29,55.50 L284.60,54.77 L284.91,54.07 L285.23,53.40 L285.54,52.76 L285.85,52.15 L286.16,51.57 L286.47,51.01 L286.78,50.48 L287.09,49.98 L287.40,49.51 L287.71,49.07 L288.02,48.65 L288.33,48.27 L288.64,47.91 L288.95,47.58 L289.26,47.28 L289.57,47.01 L289.89,46.77 L290.20,46.55 L290.51,46.36 L290.82,46.21 L291.13,46.08 L291.44,45.97 L291.75,45.90 L292.06,45.86 L292.37,45.84 L292.68,45.85 L292.99,45.89 L293.30,45.96 L293.61,46.06 L293.93,46.19 L294.24,46.34 L294.55,46.52 L294.86,46.73 L295.17,46.97 L295.48,47.24 L295.79,47.54 L296.10,47.86 L296.41,48.21 L296.72,48.60 L297.03,49.01 L297.34,49.44 L297.65,49.91 L297.96,50.41 L298.27,50.93 L298.59,51.48 L298.90,52.06 L299.21,52.67 L299.52,53.31 L299.83,53.97 L300.14,54.67 L300.45,55.39 L300.76,56.14 L301.07,56.92 L301.38,57.73 L301.69,58.57 L302.00,59.43 L302.31,60.32 L302.62,61.24 L302.94,62.19 L303.25,63.17 L303.56,64.18 L303.87,65.21 L304.18,66.28 L304.49,67.37 L304.80,68.49 L305.11,69.64 L305.42,70.82 L305.73,72.02 L306.04,73.26 L306.35,74.52 L306.66,75.81 L306.98,77.13 L307.29,78.48 L307.60,79.85 L307.91,81.26 L308.22,82.69 L308.53,84.15 L308.84,85.64 L309.15,87.16 L309.46,88.71 L309.77,90.28 L310.08,91.88 L310.39,93.52 L310.70,95.18 L311.01,96.86 L311.32,98.58 L311.64,100.33 L311.95,102.10 L312.26,103.90 L312.57,105.73 L312.88,107.59 L313.19,109.48 L313.50,111.40 L313.81,113.34 L314.12,115.31 L314.43,117.32 L314.74,119.35 L315.05,121.40 L315.36,123.49 L315.68,125.60 L315.99,127.75 L316.30,129.92 L316.61,132.12 L316.92,134.35 L317.23,136.61 L317.54,138.89 L317.85,141.20 L318.16,143.55 L318.47,145.92 L318.78,148.32 L319.09,150.74 L319.40,153.20 L319.71,155.68 L320.02,158.20 L320.34,160.74 L320.65,163.31 L320.96,165.91 L321.27,168.53 L321.58,171.19 L321.89,173.87 L322.20,176.58 L322.51,179.32 L322.82,182.09 L323.13,184.89 L323.44,187.71 L323.75,190.57 L324.06,193.45 L324.38,196.36 L324.69,199.30 L325.00,202.27 L325.31,205.26 L325.62,208.29" fill="none" stroke="#0000ff" stroke-width="1.5" stroke-dasharray="1.5,2.1"/>
<path d="M259.44,205.65 L259.75,202.65 L260.06,199.68 L260.37,196.74 L260.68,193.82 L260.99,190.93 L261.30,188.08 L261.61,185.25 L261.92,182.44 L262.23,179.67 L262.54,176.93 L262.85,174.21 L263.16,171.52 L263.48,168.86 L263.79,166.23 L264.10,163.63 L264.41,161.05 L264.72,158.51 L265.03,155.99 L265.34,153.50 L265.65,151.04 L265.96,148.61 L266.27,146.20 L266.58,143.83 L266.89,141.48 L267.20,139.16 L267.51,136.87 L267.82,134.61 L268.14,132.38 L268.45,130.17 L268.76,127.99 L269.07,125.84 L269.38,123.72 L269.69,121.63 L270.00,119.57 L270.31,117.53 L270.62,115.53 L270.93,113.55 L271.24,111.60 L271.55,109.68 L271.86,107.78 L272.18,105.92 L272.49,104.08 L272.80,102.27 L273.11,100.49 L273.42,98.74 L273.73,97.02 L274.04,95.33 L274.35,93.66 L274.66,92.02 L274.97,90.41 L275.28,88.83 L275.59,87.28 L275.90,85.75 L276.21,84.26 L276.52,82.79 L276.84,81.35 L277.15,79.94 L277.46,78.56 L277.77,77.20 L278.08,75.87 L278.39,74.58 L278.70,73.31 L279.01,72.07 L279.32,70.85 L279.63,69.67 L279.94,68.51 L280.25,67.38 L280.56,66.28 L280.88,65.21 L281.19,64.17 L281.50,63.15 L281.81,62.17 L282.12,61.21 L282.43,60.28 L282.74,59.37 L283.05,58.50 L283.36,57.66 L283.67,56.84 L283.98,56.05 L284.29,55.29 L284.60,54.55 L284.91,53.85 L285.23,53.17 L285.54,52.52 L285.85,51.90 L286.16,51.31 L286.47,50.75 L286.78,50.21 L287.09,49.70 L287.40,49.22 L287.71,48.77 L288.02,48.35 L288.33,47.95 L288.64,47.58 L288.95,47.24 L289.26,46.93 L289.57,46.64 L289.89,46.39 L290.20,46.16 L290.51,45.96 L290.82,45.78 L291.13,45.64 L291.44,45.52 L291.75,45.43 L292.06,45.37 L292.37,45.33 L292.68,45.32 L292.99,45.34 L293.30,45.39 L293.61,45.46 L293.93,45.56 L294.24,45.69 L294.55,45.85 L294.86,46.03 L295.17,46.24 L295.48,46.47 L295.79,46.74 L296.10,47.03 L296.41,47.34 L296.72,47.68 L297.03,48.05 L297.34,48.45 L297.65,48.87 L297.96,49.31 L298.27,49.79 L298.59,50.28 L298.90,50.81 L299.21,51.35 L299.52,51.93 L299.83,52.52 L300.14,53.15 L300.45,53.79 L300.76,54.46 L301.07,55.15 L301.38,55.87 L301.69,56.61 L302.00,57.37 L302.31,58.16 L302.62,58.96 L302.94,59.79 L303.25,60.64 L303.56,61.51 L303.87,62.40 L304.18,63.30 L304.49,64.23 L304.80,65.17 L305.11,66.14 L305.42,67.12 L305.73,68.11 L306.04,69.12 L306.35,70.15 L306.66,71.19 L306.98,72.24 L307.29,73.30 L307.60,74.37 L307.91,75.46 L308.22,76.55 L308.53,77.65 L308.84,78.75 L309.15,79.86 L309.46,80.98 L309.77,82.10 L310.08,83.21 L310.39,84.33 L310.70,85.45 L311.01,86.56 L311.32,87.67 L311.64,88.78 L311.95,89.87 L312.26,90.96 L312.57,92.04 L312.88,93.11 L313.19,94.17 L313.50,95.21 L313.81,96.24 L314.12,97.25 L314.43,98.25 L314.74,99.23 L315.05,100.19 L315.36,101.13 L315.68,102.05 L315.99,102.95 L316.30,103.84 L316.61,104.70 L316.92,105.54 L317.23,106.37 L317.54,107.17 L317.85,107.95 L318.16,108.71 L318.47,109.45 L318.78,110.18 L319.09,110.89 L319.40,111.57 L319.71,112.25 L320.02,112.90 L320.34,113.54 L320.65,114.17 L320.96,114.78 L321.27,115.38 L321.58,115.97 L321.89,116.55 L322.20,117.11 L322.51,117.67 L322.82,118.22 L323.13,118.75 L323.44,119.29 L323.75,119.81 L324.06,120.33 L324.38,120.84 L324.69,121.35 L325.00,121.85 L325.31,122.35 L325.62,122.85 L325.93,123.34 L326.24,123.83 L326.55,124.32 L326.86,124.81 L327.17,125.29 L327.48,125.77 L327.79,126.25 L328.10,126.73 L328.41,127.21 L328.73,127.69 L329.04,128.16 L329.35,128.64 L329.66,129.11 L329.97,129.59 L330.28,130.06 L330.59,130.53 L330.90,131.00 L331.21,131.47 L331.52,131.95 L331.83,132.42 L332.14,132.89 L332.45,133.35 L332.76,133.82 L333.07,134.29 L333.39,134.76 L333.70,135.22 L334.01,135.69 L334.32,136.15 L334.63,136.62 L334.94,137.08 L335.25,137.54 L335.56,138.00 L335.87,138.46 L336.18,138.92 L336.49,139.37 L336.80,139.83 L337.11,140.28 L337.43,140.73 L337.74,141.18 L338.05,141.63 L338.36,142.08 L338.67,142.52 L338.98,142.97 L339.29,143.41 L339.60,143.85 L339.91,144.29 L340.22,144.72 L340.53,145.16 L340.84,145.59 L341.15,146.02 L341.46,146.45 L341.77,146.87 L342.09,147.30 L342.40,147.72 L342.71,148.14 L343.02,148.56 L343.33,148.98 L343.64,149.39 L343.95,149.80 L344.26,150.21 L344.57,150.62 L344.88,151.03 L345.19,151.43 L345.50,151.83 L345.81,152.23 L346.12,152.63 L346.44,153.03 L346.75,153.42 L347.06,153.81 L347.37,154.20 L347.68,154.59 L347.99,154.97 L348.30,155.36 L348.61,155.74 L348.92,156.12 L349.23,156.49 L349.54,156.87 L349.85,157.24 L350.16,157.61 L350.48,157.98 L350.79,158.35 L351.10,158.71 L351.41,159.08 L351.72,159.44 L352.03,159.80 L352.34,160.16 L352.65,160.51 L352.96,160.86 L353.27,161.22 L353.58,161.57 L353.89,161.92 L354.20,162.26 L354.51,162.61 L354.82,162.95 L355.14,163.29 L355.45,163.63 L355.76,163.97 L356.07,164.30 L356.38,164.64 L356.69,164.97 L357.00,165.30 L357.31,165.63 L357.62,165.96 L357.93,166.29 L358.24,166.61 L358.55,166.93 L358.86,167.26 L359.18,167.58 L359.49,167.89 L359.80,168.21 L360.11,168.53 L360.42,168.84 L360.73,169.15 L361.04,169.46 L361.35,169.77 L361.66,170.08 L361.97,170.39 L362.28,170.69 L362.59,171.00 L362.90,171.30 L363.21,171.60 L363.52,171.90 L363.84,172.20 L364.15,172.49 L364.46,172.79 L364.77,173.08 L365.08,173.37 L365.39,173.67 L365.70,173.96 L366.01,174.25 L366.32,174.53 L366.63,174.82 L366.94,175.10 L367.25,175.39 L367.56,175.67 L367.88,175.95 L368.19,176.23 L368.50,176.51 L368.81,176.79 L369.12,177.07 L369.43,177.34 L369.74,177.62 L370.05,177.89 L370.36,178.16 L370.67,178.43 L370.98,178.70 L371.29,178.97 L371.60,179.24 L371.91,179.50 L372.23,179.77 L372.54,180.03 L372.85,180.30 L373.16,180.56 L373.47,180.82 L373.78,181.08 L374.09,181.34 L374.40,181.60 L374.71,181.86 L375.02,182.11 L375.33,182.37 L375.64,182.62 L375.95,182.87 L376.26,183.13 L376.58,183.38 L376.89,183.63 L377.20,183.88 L377.51,184.13 L377.82,184.37 L378.13,184.62 L378.44,184.87 L378.75,185.11 L379.06,185.35 L379.37,185.60 L379.68,185.84 L379.99,186.08 L380.30,186.32 L380.61,186.56 L380.93,186.80 L381.24,187.04 L381.55,187.27 L381.86,187.51 L382.17,187.74 L382.48,187.98 L382.79,188.21 L383.10,188.44 L383.41,188.68 L383.72,188.91 L384.03,189.14 L384.34,189.37 L384.65,189.59 L384.96,189.82 L385.27,190.05 L385.59,190.28 L385.90,190.50 L386.21,190.73 L386.52,190.95 L386.83,191.17 L387.14,191.39 L387.45,191.62 L387.76,191.84 L388.07,192.06 L388.38,192.28 L388.69,192.50 L389.00,192.71 L389.31,192.93 L389.62,193.15 L389.94,193.36 L390.25,193.58 L390.56,193.79 L390.87,194.01 L391.18,194.22 L391.49,194.43 L391.80,194.64 L392.11,194.85 L392.42,195.06 L392.73,195.27 L393.04,195.48 L393.35,195.69 L393.66,195.90 L393.98,196.11 L394.29,196.31 L394.60,196.52 L394.91,196.72 L395.22,196.93 L395.53,197.13 L395.84,197.34 L396.15,197.54 L396.46,197.74 L396.77,197.94 L397.08,198.14 L397.39,198.34 L397.70,198.54 L398.01,198.74 L398.33,198.94 L398.64,199.14 L398.95,199.33 L399.26,199.53 L399.57,199.73 L399.88,199.92 L400.19,200.12 L400.50,200.31" fill="none" stroke="#ff0000" stroke-width="1.7" stroke-linejoin="round"/>
</g>
<g clip-path="url(#c02)">
<path d="M420.34,180.09 L420.39,180.09 L420.39,196.50 L421.63,196.50 L421.63,196.50 L422.87,196.50 L422.87,180.09 L424.11,180.09 L424.11,196.50 L425.36,196.50 L425.36,180.09 L426.60,180.09 L426.60,163.67 L427.84,163.67 L427.84,163.67 L429.09,163.67 L429.09,147.26 L430.33,147.26 L430.33,163.67 L431.57,163.67 L431.57,147.26 L432.81,147.26 L432.81,141.97 L434.06,141.97 L434.06,154.07 L435.30,154.07 L435.30,147.26 L436.54,147.26 L436.54,130.84 L437.79,130.84 L437.79,130.84 L439.03,130.84 L439.03,121.24 L440.27,121.24 L440.27,137.65 L441.51,137.65 L441.51,112.99 L442.76,112.99 L442.76,98.01 L444.00,98.01 L444.00,93.33 L445.24,93.33 L445.24,79.47 L446.49,79.47 L446.49,81.60 L447.73,81.60 L447.73,69.87 L448.97,69.87 L448.97,65.74 L450.21,65.74 L450.21,59.31 L451.46,59.31 L451.46,53.80 L452.70,53.80 L452.70,45.90 L453.94,45.90 L453.94,43.26 L455.19,43.26 L455.19,37.16 L456.43,37.16 L456.43,36.99 L457.67,36.99 L457.67,34.58 L458.91,34.58 L458.91,30.19 L460.16,30.19 L460.16,27.74 L461.40,27.74 L461.40,26.16 L462.64,26.16 L462.64,27.25 L463.89,27.25 L463.89,26.20 L465.13,26.20 L465.13,25.91 L466.37,25.91 L466.37,26.02 L467.61,26.02 L467.61,25.08 L468.86,25.08 L468.86,28.87 L470.10,28.87 L470.10,28.72 L471.34,28.72 L471.34,30.87 L472.59,30.87 L472.59,33.73 L473.83,33.73 L473.83,35.62 L475.07,35.62 L475.07,41.16 L476.31,41.16 L476.31,47.07 L477.56,47.07 L477.56,47.33 L478.80,47.33 L478.80,53.91 L480.04,53.91 L480.04,56.46 L481.29,56.46 L481.29,64.45 L482.53,64.45 L482.53,69.43 L483.77,69.43 L483.77,77.22 L485.01,77.22 L485.01,78.81 L486.26,78.81 L486.26,77.53 L487.50,77.53 L487.50,86.51 L488.74,86.51 L488.74,91.57 L489.99,91.57 L489.99,91.01 L491.23,91.01 L491.23,100.34 L492.47,100.34 L492.47,98.76 L493.71,98.76 L493.71,104.82 L494.96,104.82 L494.96,101.17 L496.20,101.17 L496.20,107.99 L497.44,107.99 L497.44,107.99 L498.69,107.99 L498.69,111.64 L499.93,111.64 L499.93,115.95 L501.17,115.95 L501.17,119.34 L502.41,119.34 L502.41,141.97 L503.66,141.97 L503.66,128.05 L504.90,128.05 L504.90,123.30 L506.14,123.30 L506.14,125.56 L507.39,125.56 L507.39,141.97 L508.63,141.97 L508.63,128.05 L509.87,128.05 L509.87,128.05 L511.11,128.05 L511.11,163.67 L512.36,163.67 L512.36,137.65 L513.60,137.65 L513.60,154.07 L514.84,154.07 L514.84,154.07 L516.09,154.07 L516.09,180.09 L517.33,180.09 L517.33,134.00 L518.57,134.00 L518.57,163.67 L519.81,163.67 L519.81,163.67 L521.06,163.67 L521.06,141.97 L522.30,141.97 L522.30,163.67 L523.54,163.67 L523.54,147.26 L524.79,147.26 L524.79,163.67 L526.03,163.67 L526.03,137.65 L527.27,137.65 L527.27,154.07 L528.51,154.07 L528.51,154.07 L529.76,154.07 L529.76,180.09 L531.00,180.09 L531.00,180.09 L532.24,180.09 L532.24,196.50 L533.49,196.50 L533.49,163.67 L534.73,163.67 L534.73,163.67 L535.97,163.67 L535.97,180.09 L537.21,180.09 L537.21,147.26 L538.46,147.26 L538.46,180.09 L539.70,180.09 L539.70,180.09 L540.94,180.09 L540.94,163.67 L542.19,163.67 L542.19,163.67 L543.43,163.67 L543.43,196.50 L544.67,196.50 L544.67,196.50 L545.91,196.50 L545.91,154.07 L547.16,154.07 L547.16,180.09 L548.40,180.09 L548.40,196.50 L549.64,196.50 L549.64,154.07 L550.89,154.07 L550.89,180.09 L552.13,180.09 L552.13,180.09 L553.37,180.09 L553.37,196.50 L554.61,196.50 L554.61,163.67 L555.86,163.67 L555.86,196.50 L557.10,196.50 L557.10,196.50 L558.34,196.50 L558.34,180.09 L559.59,180.09 L559.59,180.09 L560.83,180.09 L560.83,196.50 L562.07,196.50 L562.07,196.50 L563.31,196.50 L563.31,180.09 L564.56,180.09 L564.56,180.09 L565.80,180.09 L565.80,163.67 L567.04,163.67 L567.04,180.09 L568.29,180.09 L568.29,180.09 L569.53,180.09 L569.53,196.50 L570.77,196.50 L570.77,196.50 L572.01,196.50 L572.01,180.09 L573.26,180.09 L573.26,180.09 L574.50,180.09" fill="none" stroke="#000" stroke-width="1.35" stroke-linejoin="miter"/>
<line x1="466.25" x2="466.25" y1="196.50" y2="16.50" stroke="#666" stroke-width="1.5" stroke-dasharray="4.7,4.75"/>
<path d="M431.57,207.81 L431.88,204.47 L432.19,201.15 L432.50,197.87 L432.81,194.62 L433.12,191.41 L433.44,188.22 L433.75,185.06 L434.06,181.94 L434.37,178.84 L434.68,175.78 L434.99,172.75 L435.30,169.75 L435.61,166.78 L435.92,163.84 L436.23,160.93 L436.54,158.05 L436.85,155.21 L437.16,152.39 L437.48,149.61 L437.79,146.85 L438.10,144.13 L438.41,141.44 L438.72,138.78 L439.03,136.15 L439.34,133.56 L439.65,130.99 L439.96,128.45 L440.27,125.95 L440.58,123.48 L440.89,121.03 L441.20,118.62 L441.51,116.24 L441.82,113.89 L442.14,111.57 L442.45,109.29 L442.76,107.03 L443.07,104.81 L443.38,102.61 L443.69,100.45 L444.00,98.32 L444.31,96.22 L444.62,94.15 L444.93,92.11 L445.24,90.10 L445.55,88.12 L445.86,86.18 L446.18,84.26 L446.49,82.38 L446.80,80.53 L447.11,78.71 L447.42,76.92 L447.73,75.16 L448.04,73.43 L448.35,71.73 L448.66,70.07 L448.97,68.43 L449.28,66.83 L449.59,65.25 L449.90,63.71 L450.21,62.20 L450.52,60.72 L450.84,59.27 L451.15,57.85 L451.46,56.47 L451.77,55.11 L452.08,53.79 L452.39,52.49 L452.70,51.23 L453.01,50.00 L453.32,48.80 L453.63,47.63 L453.94,46.49 L454.25,45.38 L454.56,44.31 L454.88,43.26 L455.19,42.25 L455.50,41.26 L455.81,40.31 L456.12,39.39 L456.43,38.50 L456.74,37.64 L457.05,36.81 L457.36,36.02 L457.67,35.25 L457.98,34.52 L458.29,33.81 L458.60,33.14 L458.91,32.50 L459.23,31.89 L459.54,31.31 L459.85,30.76 L460.16,30.24 L460.47,29.76 L460.78,29.30 L461.09,28.88 L461.40,28.48 L461.71,28.12 L462.02,27.79 L462.33,27.49 L462.64,27.22 L462.95,26.98 L463.26,26.77 L463.57,26.60 L463.89,26.45 L464.20,26.34 L464.51,26.26 L464.82,26.20 L465.13,26.18 L465.44,26.19 L465.75,26.24 L466.06,26.31 L466.37,26.41 L466.68,26.55 L466.99,26.71 L467.30,26.91 L467.61,27.14 L467.93,27.39 L468.24,27.68 L468.55,28.00 L468.86,28.36 L469.17,28.74 L469.48,29.15 L469.79,29.60 L470.10,30.07 L470.41,30.58 L470.72,31.12 L471.03,31.69 L471.34,32.29 L471.65,32.92 L471.96,33.58 L472.27,34.28 L472.59,35.00 L472.90,35.75 L473.21,36.54 L473.52,37.36 L473.83,38.21 L474.14,39.09 L474.45,40.00 L474.76,40.94 L475.07,41.91 L475.38,42.92 L475.69,43.95 L476.00,45.02 L476.31,46.11 L476.62,47.24 L476.94,48.40 L477.25,49.59 L477.56,50.81 L477.87,52.06 L478.18,53.35 L478.49,54.66 L478.80,56.01 L479.11,57.38 L479.42,58.79 L479.73,60.23 L480.04,61.70 L480.35,63.20 L480.66,64.73 L480.98,66.29 L481.29,67.89 L481.60,69.51 L481.91,71.17 L482.22,72.85 L482.53,74.57 L482.84,76.32 L483.15,78.10 L483.46,79.91 L483.77,81.75 L484.08,83.63 L484.39,85.53 L484.70,87.46 L485.01,89.43 L485.32,91.43 L485.64,93.46 L485.95,95.52 L486.26,97.61 L486.57,99.73 L486.88,101.88 L487.19,104.06 L487.50,106.28 L487.81,108.52 L488.12,110.80 L488.43,113.11 L488.74,115.45 L489.05,117.82 L489.36,120.22 L489.68,122.65 L489.99,125.11 L490.30,127.61 L490.61,130.13 L490.92,132.69 L491.23,135.27 L491.54,137.89 L491.85,140.54 L492.16,143.22 L492.47,145.93 L492.78,148.68 L493.09,151.45 L493.40,154.25 L493.71,157.09 L494.02,159.96 L494.34,162.85 L494.65,165.78 L494.96,168.74 L495.27,171.73 L495.58,174.75 L495.89,177.81 L496.20,180.89 L496.51,184.00 L496.82,187.15 L497.13,190.33 L497.44,193.54 L497.75,196.77 L498.06,200.04 L498.38,203.35 L498.69,206.68" fill="none" stroke="#0000ff" stroke-width="1.5" stroke-dasharray="1.5,2.1"/>
<path d="M431.57,207.75 L431.88,204.40 L432.19,201.09 L432.50,197.81 L432.81,194.56 L433.12,191.34 L433.44,188.15 L433.75,184.99 L434.06,181.87 L434.37,178.77 L434.68,175.71 L434.99,172.67 L435.30,169.67 L435.61,166.70 L435.92,163.76 L436.23,160.85 L436.54,157.97 L436.85,155.13 L437.16,152.31 L437.48,149.52 L437.79,146.77 L438.10,144.05 L438.41,141.36 L438.72,138.69 L439.03,136.06 L439.34,133.47 L439.65,130.90 L439.96,128.36 L440.27,125.85 L440.58,123.38 L440.89,120.94 L441.20,118.52 L441.51,116.14 L441.82,113.79 L442.14,111.47 L442.45,109.18 L442.76,106.92 L443.07,104.69 L443.38,102.50 L443.69,100.33 L444.00,98.20 L444.31,96.10 L444.62,94.02 L444.93,91.98 L445.24,89.97 L445.55,87.99 L445.86,86.05 L446.18,84.13 L446.49,82.24 L446.80,80.39 L447.11,78.56 L447.42,76.77 L447.73,75.01 L448.04,73.27 L448.35,71.57 L448.66,69.90 L448.97,68.26 L449.28,66.66 L449.59,65.08 L449.90,63.53 L450.21,62.02 L450.52,60.53 L450.84,59.08 L451.15,57.66 L451.46,56.27 L451.77,54.91 L452.08,53.58 L452.39,52.28 L452.70,51.01 L453.01,49.77 L453.32,48.56 L453.63,47.39 L453.94,46.24 L454.25,45.13 L454.56,44.05 L454.88,42.99 L455.19,41.97 L455.50,40.98 L455.81,40.02 L456.12,39.09 L456.43,38.19 L456.74,37.33 L457.05,36.49 L457.36,35.68 L457.67,34.91 L457.98,34.16 L458.29,33.45 L458.60,32.76 L458.91,32.11 L459.23,31.48 L459.54,30.89 L459.85,30.33 L460.16,29.80 L460.47,29.30 L460.78,28.83 L461.09,28.39 L461.40,27.98 L461.71,27.60 L462.02,27.25 L462.33,26.93 L462.64,26.64 L462.95,26.38 L463.26,26.15 L463.57,25.95 L463.89,25.79 L464.20,25.65 L464.51,25.54 L464.82,25.46 L465.13,25.41 L465.44,25.39 L465.75,25.40 L466.06,25.44 L466.37,25.51 L466.68,25.61 L466.99,25.74 L467.30,25.90 L467.61,26.08 L467.93,26.30 L468.24,26.54 L468.55,26.82 L468.86,27.12 L469.17,27.45 L469.48,27.81 L469.79,28.19 L470.10,28.61 L470.41,29.05 L470.72,29.52 L471.03,30.02 L471.34,30.55 L471.65,31.10 L471.96,31.68 L472.27,32.28 L472.59,32.92 L472.90,33.57 L473.21,34.26 L473.52,34.97 L473.83,35.70 L474.14,36.46 L474.45,37.24 L474.76,38.05 L475.07,38.88 L475.38,39.74 L475.69,40.61 L476.00,41.51 L476.31,42.43 L476.62,43.37 L476.94,44.34 L477.25,45.32 L477.56,46.32 L477.87,47.34 L478.18,48.37 L478.49,49.43 L478.80,50.50 L479.11,51.58 L479.42,52.68 L479.73,53.80 L480.04,54.93 L480.35,56.06 L480.66,57.21 L480.98,58.37 L481.29,59.54 L481.60,60.71 L481.91,61.89 L482.22,63.08 L482.53,64.27 L482.84,65.46 L483.15,66.66 L483.46,67.85 L483.77,69.04 L484.08,70.24 L484.39,71.42 L484.70,72.61 L485.01,73.79 L485.32,74.96 L485.64,76.12 L485.95,77.27 L486.26,78.42 L486.57,79.55 L486.88,80.67 L487.19,81.78 L487.50,82.88 L487.81,83.96 L488.12,85.03 L488.43,86.08 L488.74,87.12 L489.05,88.14 L489.36,89.14 L489.68,90.13 L489.99,91.11 L490.30,92.06 L490.61,93.01 L490.92,93.93 L491.23,94.84 L491.54,95.74 L491.85,96.62 L492.16,97.48 L492.47,98.33 L492.78,99.17 L493.09,100.00 L493.40,100.81 L493.71,101.61 L494.02,102.40 L494.34,103.18 L494.65,103.95 L494.96,104.71 L495.27,105.46 L495.58,106.20 L495.89,106.93 L496.20,107.65 L496.51,108.37 L496.82,109.08 L497.13,109.78 L497.44,110.48 L497.75,111.17 L498.06,111.85 L498.38,112.53 L498.69,113.20 L499.00,113.87 L499.31,114.53 L499.62,115.19 L499.93,115.85 L500.24,116.50 L500.55,117.14 L500.86,117.79 L501.17,118.42 L501.48,119.06 L501.79,119.69 L502.10,120.31 L502.41,120.94 L502.73,121.55 L503.04,122.17 L503.35,122.78 L503.66,123.39 L503.97,123.99 L504.28,124.59 L504.59,125.19 L504.90,125.78 L505.21,126.37 L505.52,126.95 L505.83,127.53 L506.14,128.11 L506.45,128.68 L506.76,129.25 L507.07,129.82 L507.39,130.38 L507.70,130.94 L508.01,131.49 L508.32,132.04 L508.63,132.59 L508.94,133.13 L509.25,133.67 L509.56,134.21 L509.87,134.74 L510.18,135.27 L510.49,135.79 L510.80,136.31 L511.11,136.83 L511.43,137.34 L511.74,137.85 L512.05,138.36 L512.36,138.86 L512.67,139.36 L512.98,139.85 L513.29,140.34 L513.60,140.83 L513.91,141.31 L514.22,141.79 L514.53,142.27 L514.84,142.75 L515.15,143.22 L515.46,143.68 L515.77,144.15 L516.09,144.61 L516.40,145.07 L516.71,145.52 L517.02,145.97 L517.33,146.42 L517.64,146.87 L517.95,147.31 L518.26,147.75 L518.57,148.18 L518.88,148.62 L519.19,149.05 L519.50,149.48 L519.81,149.90 L520.12,150.32 L520.44,150.74 L520.75,151.16 L521.06,151.57 L521.37,151.98 L521.68,152.39 L521.99,152.80 L522.30,153.20 L522.61,153.60 L522.92,154.00 L523.23,154.40 L523.54,154.79 L523.85,155.18 L524.16,155.57 L524.48,155.96 L524.79,156.34 L525.10,156.73 L525.41,157.11 L525.72,157.49 L526.03,157.86 L526.34,158.23 L526.65,158.61 L526.96,158.97 L527.27,159.34 L527.58,159.71 L527.89,160.07 L528.20,160.43 L528.51,160.79 L528.83,161.15 L529.14,161.50 L529.45,161.86 L529.76,162.21 L530.07,162.56 L530.38,162.90 L530.69,163.25 L531.00,163.59 L531.31,163.94 L531.62,164.28 L531.93,164.62 L532.24,164.95 L532.55,165.29 L532.86,165.62 L533.17,165.95 L533.49,166.28 L533.80,166.61 L534.11,166.94 L534.42,167.26 L534.73,167.59 L535.04,167.91 L535.35,168.23 L535.66,168.55 L535.97,168.87 L536.28,169.18 L536.59,169.50 L536.90,169.81 L537.21,170.12 L537.52,170.43 L537.84,170.74 L538.15,171.05 L538.46,171.35 L538.77,171.66 L539.08,171.96 L539.39,172.26 L539.70,172.56 L540.01,172.86 L540.32,173.16 L540.63,173.46 L540.94,173.75 L541.25,174.05 L541.56,174.34 L541.88,174.63 L542.19,174.92 L542.50,175.21 L542.81,175.49 L543.12,175.78 L543.43,176.07 L543.74,176.35 L544.05,176.63 L544.36,176.91 L544.67,177.19 L544.98,177.47 L545.29,177.75 L545.60,178.03 L545.91,178.30 L546.23,178.58 L546.54,178.85 L546.85,179.12 L547.16,179.39 L547.47,179.66 L547.78,179.93 L548.09,180.20 L548.40,180.47 L548.71,180.73 L549.02,181.00 L549.33,181.26 L549.64,181.52 L549.95,181.79 L550.26,182.05 L550.58,182.31 L550.89,182.57 L551.20,182.82 L551.51,183.08 L551.82,183.34 L552.13,183.59 L552.44,183.84 L552.75,184.10 L553.06,184.35 L553.37,184.60 L553.68,184.85 L553.99,185.10 L554.30,185.35 L554.61,185.59 L554.92,185.84 L555.24,186.09 L555.55,186.33 L555.86,186.57 L556.17,186.82 L556.48,187.06 L556.79,187.30 L557.10,187.54 L557.41,187.78 L557.72,188.02 L558.03,188.26 L558.34,188.49 L558.65,188.73 L558.96,188.97 L559.27,189.20 L559.59,189.43 L559.90,189.67 L560.21,189.90 L560.52,190.13 L560.83,190.36 L561.14,190.59 L561.45,190.82 L561.76,191.05 L562.07,191.27 L562.38,191.50 L562.69,191.73 L563.00,191.95 L563.31,192.18 L563.62,192.40 L563.94,192.62 L564.25,192.85 L564.56,193.07 L564.87,193.29 L565.18,193.51 L565.49,193.73 L565.80,193.95 L566.11,194.16 L566.42,194.38 L566.73,194.60 L567.04,194.81 L567.35,195.03 L567.66,195.24 L567.98,195.46 L568.29,195.67 L568.60,195.88 L568.91,196.10 L569.22,196.31 L569.53,196.52 L569.84,196.73 L570.15,196.94 L570.46,197.15 L570.77,197.35 L571.08,197.56 L571.39,197.77 L571.70,197.98 L572.01,198.18 L572.33,198.39 L572.64,198.59 L572.95,198.79 L573.26,199.00 L573.57,199.20 L573.88,199.40 L574.19,199.60 L574.50,199.80" fill="none" stroke="#ff0000" stroke-width="1.7" stroke-linejoin="round"/>
</g>
<g clip-path="url(#c10)">
<path d="M59.91,360.09 L59.96,360.09 L59.96,376.50 L61.20,376.50 L61.20,376.50 L62.44,376.50 L62.44,376.50 L63.69,376.50 L63.69,376.50 L64.93,376.50 L64.93,360.09 L66.17,360.09 L66.17,376.50 L67.41,376.50 L67.41,360.09 L68.66,360.09 L68.66,360.09 L69.90,360.09 L69.90,376.50 L71.14,376.50 L71.14,360.09 L72.39,360.09 L72.39,360.09 L73.63,360.09 L73.63,376.50 L74.87,376.50 L74.87,376.50 L76.11,376.50 L76.11,343.67 L77.36,343.67 L77.36,360.09 L78.60,360.09 L78.60,343.67 L79.84,343.67 L79.84,334.07 L81.09,334.07 L81.09,360.09 L82.33,360.09 L82.33,360.09 L83.57,360.09 L83.57,317.65 L84.81,317.65 L84.81,310.84 L86.06,310.84 L86.06,327.26 L87.30,327.26 L87.30,327.26 L88.54,327.26 L88.54,308.05 L89.79,308.05 L89.79,308.05 L91.03,308.05 L91.03,317.65 L92.27,317.65 L92.27,281.17 L93.51,281.17 L93.51,279.54 L94.76,279.54 L94.76,285.83 L96.00,285.83 L96.00,274.57 L97.24,274.57 L97.24,267.44 L98.49,267.44 L98.49,259.14 L99.73,259.14 L99.73,247.51 L100.97,247.51 L100.97,240.96 L102.21,240.96 L102.21,236.08 L103.46,236.08 L103.46,233.35 L104.70,233.35 L104.70,227.25 L105.94,227.25 L105.94,224.01 L107.19,224.01 L107.19,219.54 L108.43,219.54 L108.43,216.10 L109.67,216.10 L109.67,211.45 L110.91,211.45 L110.91,208.87 L112.16,208.87 L112.16,205.91 L113.40,205.91 L113.40,204.12 L114.64,204.12 L114.64,204.38 L115.89,204.38 L115.89,202.94 L117.13,202.94 L117.13,202.63 L118.37,202.63 L118.37,205.01 L119.61,205.01 L119.61,205.39 L120.86,205.39 L120.86,206.56 L122.10,206.56 L122.10,208.48 L123.34,208.48 L123.34,210.74 L124.59,210.74 L124.59,213.10 L125.83,213.10 L125.83,216.65 L127.07,216.65 L127.07,221.70 L128.31,221.70 L128.31,225.17 L129.56,225.17 L129.56,226.39 L130.80,226.39 L130.80,230.30 L132.04,230.30 L132.04,237.78 L133.29,237.78 L133.29,243.06 L134.53,243.06 L134.53,251.03 L135.77,251.03 L135.77,250.56 L137.01,250.56 L137.01,257.84 L138.26,257.84 L138.26,266.51 L139.50,266.51 L139.50,263.13 L140.74,263.13 L140.74,268.91 L141.99,268.91 L141.99,276.58 L143.23,276.58 L143.23,273.94 L144.47,273.94 L144.47,275.22 L145.71,275.22 L145.71,290.36 L146.96,290.36 L146.96,290.36 L148.20,290.36 L148.20,291.64 L149.44,291.64 L149.44,301.24 L150.69,301.24 L150.69,308.05 L151.93,308.05 L151.93,308.05 L153.17,308.05 L153.17,303.30 L154.41,303.30 L154.41,303.30 L155.66,303.30 L155.66,303.30 L156.90,303.30 L156.90,303.30 L158.14,303.30 L158.14,314.00 L159.39,314.00 L159.39,314.00 L160.63,314.00 L160.63,334.07 L161.87,334.07 L161.87,314.00 L163.11,314.00 L163.11,314.00 L164.36,314.00 L164.36,308.05 L165.60,308.05 L165.60,321.97 L166.84,321.97 L166.84,327.26 L168.09,327.26 L168.09,327.26 L169.33,327.26 L169.33,343.67 L170.57,343.67 L170.57,360.09 L171.81,360.09 L171.81,321.97 L173.06,321.97 L173.06,321.97 L174.30,321.97 L174.30,334.07 L175.54,334.07 L175.54,343.67 L176.79,343.67 L176.79,334.07 L178.03,334.07 L178.03,360.09 L179.27,360.09 L179.27,376.50 L180.51,376.50 L180.51,334.07 L181.76,334.07 L181.76,376.50 L183.00,376.50 L183.00,376.50 L184.24,376.50 L184.24,376.50 L185.49,376.50 L185.49,376.50 L186.73,376.50 L186.73,376.50 L187.97,376.50 L187.97,360.09 L189.21,360.09 L189.21,376.50 L190.46,376.50 L190.46,376.50 L191.70,376.50 L191.70,376.50 L192.94,376.50 L192.94,343.67 L194.19,343.67 L194.19,360.09 L195.43,360.09 L195.43,343.67 L196.67,343.67 L196.67,376.50 L197.91,376.50 L197.91,360.09 L199.16,360.09 L199.16,376.50 L200.40,376.50 L200.40,343.67 L201.64,343.67 L201.64,360.09 L202.89,360.09 L202.89,360.09 L204.13,360.09 L204.13,360.09 L205.37,360.09 L205.37,360.09 L206.61,360.09 L206.61,360.09 L207.86,360.09 L207.86,343.67 L209.10,343.67 L209.10,360.09 L210.34,360.09 L210.34,360.09 L211.59,360.09 L211.59,360.09 L212.83,360.09 L212.83,343.67 L214.07,343.67 L214.07,360.09 L215.31,360.09 L215.31,360.09 L216.56,360.09 L216.56,360.09 L217.80,360.09 L217.80,334.07 L219.04,334.07 L219.04,343.67 L220.29,343.67 L220.29,360.09 L221.53,360.09 L221.53,343.67 L222.77,343.67 L222.77,376.50 L224.01,376.50 L224.01,376.50 L225.26,376.50 L225.26,376.50 L226.50,376.50" fill="none" stroke="#000" stroke-width="1.35" stroke-linejoin="miter"/>
<line x1="118.19" x2="118.19" y1="376.50" y2="196.50" stroke="#666" stroke-width="1.5" stroke-dasharray="4.7,4.75"/>
<path d="M83.88,386.15 L84.19,382.76 L84.50,379.40 L84.81,376.07 L85.12,372.77 L85.44,369.50 L85.75,366.27 L86.06,363.07 L86.37,359.90 L86.68,356.76 L86.99,353.66 L87.30,350.59 L87.61,347.54 L87.92,344.53 L88.23,341.56 L88.54,338.61 L88.85,335.70 L89.16,332.81 L89.47,329.96 L89.79,327.14 L90.10,324.36 L90.41,321.60 L90.72,318.88 L91.03,316.19 L91.34,313.53 L91.65,310.90 L91.96,308.31 L92.27,305.74 L92.58,303.21 L92.89,300.71 L93.20,298.25 L93.51,295.81 L93.83,293.41 L94.14,291.03 L94.45,288.69 L94.76,286.39 L95.07,284.11 L95.38,281.86 L95.69,279.65 L96.00,277.47 L96.31,275.32 L96.62,273.20 L96.93,271.12 L97.24,269.07 L97.55,267.04 L97.86,265.06 L98.18,263.10 L98.49,261.17 L98.80,259.28 L99.11,257.42 L99.42,255.59 L99.73,253.79 L100.04,252.02 L100.35,250.29 L100.66,248.59 L100.97,246.91 L101.28,245.28 L101.59,243.67 L101.90,242.09 L102.21,240.55 L102.53,239.04 L102.84,237.56 L103.15,236.11 L103.46,234.70 L103.77,233.31 L104.08,231.96 L104.39,230.64 L104.70,229.35 L105.01,228.10 L105.32,226.87 L105.63,225.68 L105.94,224.52 L106.25,223.39 L106.56,222.30 L106.88,221.23 L107.19,220.20 L107.50,219.20 L107.81,218.23 L108.12,217.29 L108.43,216.39 L108.74,215.51 L109.05,214.67 L109.36,213.86 L109.67,213.08 L109.98,212.34 L110.29,211.62 L110.60,210.94 L110.91,210.29 L111.22,209.67 L111.54,209.09 L111.85,208.53 L112.16,208.01 L112.47,207.52 L112.78,207.06 L113.09,206.63 L113.40,206.24 L113.71,205.87 L114.02,205.54 L114.33,205.24 L114.64,204.97 L114.95,204.74 L115.26,204.53 L115.58,204.36 L115.89,204.22 L116.20,204.11 L116.51,204.04 L116.82,203.99 L117.13,203.98 L117.44,204.00 L117.75,204.05 L118.06,204.13 L118.37,204.25 L118.68,204.40 L118.99,204.57 L119.30,204.79 L119.61,205.03 L119.92,205.30 L120.24,205.61 L120.55,205.95 L120.86,206.32 L121.17,206.72 L121.48,207.15 L121.79,207.62 L122.10,208.12 L122.41,208.65 L122.72,209.21 L123.03,209.80 L123.34,210.42 L123.65,211.08 L123.96,211.77 L124.28,212.49 L124.59,213.24 L124.90,214.03 L125.21,214.85 L125.52,215.69 L125.83,216.57 L126.14,217.49 L126.45,218.43 L126.76,219.41 L127.07,220.41 L127.38,221.45 L127.69,222.52 L128.00,223.63 L128.31,224.76 L128.62,225.93 L128.94,227.13 L129.25,228.36 L129.56,229.62 L129.87,230.92 L130.18,232.24 L130.49,233.60 L130.80,234.99 L131.11,236.42 L131.42,237.87 L131.73,239.36 L132.04,240.87 L132.35,242.42 L132.66,244.01 L132.98,245.62 L133.29,247.26 L133.60,248.94 L133.91,250.65 L134.22,252.39 L134.53,254.17 L134.84,255.97 L135.15,257.81 L135.46,259.68 L135.77,261.58 L136.08,263.51 L136.39,265.47 L136.70,267.47 L137.01,269.50 L137.32,271.56 L137.64,273.65 L137.95,275.77 L138.26,277.93 L138.57,280.12 L138.88,282.34 L139.19,284.59 L139.50,286.87 L139.81,289.18 L140.12,291.53 L140.43,293.91 L140.74,296.32 L141.05,298.76 L141.36,301.24 L141.68,303.74 L141.99,306.28 L142.30,308.85 L142.61,311.46 L142.92,314.09 L143.23,316.75 L143.54,319.45 L143.85,322.18 L144.16,324.94 L144.47,327.74 L144.78,330.56 L145.09,333.42 L145.40,336.31 L145.71,339.23 L146.03,342.18 L146.34,345.17 L146.65,348.18 L146.96,351.23 L147.27,354.31 L147.58,357.42 L147.89,360.57 L148.20,363.74 L148.51,366.95 L148.82,370.19 L149.13,373.46 L149.44,376.77 L149.75,380.10 L150.06,383.47 L150.38,386.87" fill="none" stroke="#0000ff" stroke-width="1.5" stroke-dasharray="1.5,2.1"/>
<path d="M83.88,386.11 L84.19,382.72 L84.50,379.36 L84.81,376.03 L85.12,372.73 L85.44,369.47 L85.75,366.23 L86.06,363.03 L86.37,359.86 L86.68,356.72 L86.99,353.62 L87.30,350.54 L87.61,347.50 L87.92,344.49 L88.23,341.51 L88.54,338.57 L88.85,335.65 L89.16,332.77 L89.47,329.92 L89.79,327.10 L90.10,324.31 L90.41,321.56 L90.72,318.83 L91.03,316.14 L91.34,313.48 L91.65,310.85 L91.96,308.26 L92.27,305.69 L92.58,303.16 L92.89,300.66 L93.20,298.19 L93.51,295.75 L93.83,293.35 L94.14,290.97 L94.45,288.63 L94.76,286.32 L95.07,284.05 L95.38,281.80 L95.69,279.59 L96.00,277.40 L96.31,275.25 L96.62,273.14 L96.93,271.05 L97.24,268.99 L97.55,266.97 L97.86,264.98 L98.18,263.02 L98.49,261.09 L98.80,259.20 L99.11,257.33 L99.42,255.50 L99.73,253.70 L100.04,251.93 L100.35,250.20 L100.66,248.49 L100.97,246.82 L101.28,245.18 L101.59,243.57 L101.90,241.99 L102.21,240.45 L102.53,238.93 L102.84,237.45 L103.15,236.00 L103.46,234.58 L103.77,233.20 L104.08,231.84 L104.39,230.52 L104.70,229.23 L105.01,227.97 L105.32,226.74 L105.63,225.54 L105.94,224.38 L106.25,223.24 L106.56,222.14 L106.88,221.07 L107.19,220.04 L107.50,219.03 L107.81,218.06 L108.12,217.11 L108.43,216.20 L108.74,215.32 L109.05,214.48 L109.36,213.66 L109.67,212.88 L109.98,212.12 L110.29,211.40 L110.60,210.71 L110.91,210.05 L111.22,209.43 L111.54,208.83 L111.85,208.27 L112.16,207.74 L112.47,207.24 L112.78,206.77 L113.09,206.33 L113.40,205.92 L113.71,205.55 L114.02,205.21 L114.33,204.89 L114.64,204.61 L114.95,204.36 L115.26,204.15 L115.58,203.96 L115.89,203.80 L116.20,203.68 L116.51,203.58 L116.82,203.52 L117.13,203.49 L117.44,203.49 L117.75,203.52 L118.06,203.58 L118.37,203.67 L118.68,203.79 L118.99,203.94 L119.30,204.12 L119.61,204.34 L119.92,204.58 L120.24,204.86 L120.55,205.16 L120.86,205.49 L121.17,205.86 L121.48,206.25 L121.79,206.67 L122.10,207.13 L122.41,207.61 L122.72,208.12 L123.03,208.66 L123.34,209.23 L123.65,209.83 L123.96,210.45 L124.28,211.11 L124.59,211.79 L124.90,212.50 L125.21,213.23 L125.52,214.00 L125.83,214.79 L126.14,215.61 L126.45,216.45 L126.76,217.32 L127.07,218.21 L127.38,219.13 L127.69,220.08 L128.00,221.05 L128.31,222.04 L128.62,223.05 L128.94,224.09 L129.25,225.14 L129.56,226.22 L129.87,227.32 L130.18,228.44 L130.49,229.58 L130.80,230.73 L131.11,231.90 L131.42,233.09 L131.73,234.29 L132.04,235.51 L132.35,236.74 L132.66,237.98 L132.98,239.23 L133.29,240.49 L133.60,241.76 L133.91,243.03 L134.22,244.31 L134.53,245.60 L134.84,246.89 L135.15,248.17 L135.46,249.46 L135.77,250.74 L136.08,252.02 L136.39,253.30 L136.70,254.57 L137.01,255.83 L137.32,257.08 L137.64,258.32 L137.95,259.55 L138.26,260.76 L138.57,261.96 L138.88,263.14 L139.19,264.31 L139.50,265.45 L139.81,266.58 L140.12,267.69 L140.43,268.78 L140.74,269.85 L141.05,270.90 L141.36,271.92 L141.68,272.93 L141.99,273.91 L142.30,274.88 L142.61,275.82 L142.92,276.74 L143.23,277.64 L143.54,278.53 L143.85,279.39 L144.16,280.24 L144.47,281.07 L144.78,281.88 L145.09,282.68 L145.40,283.46 L145.71,284.23 L146.03,284.98 L146.34,285.72 L146.65,286.45 L146.96,287.17 L147.27,287.88 L147.58,288.58 L147.89,289.27 L148.20,289.96 L148.51,290.63 L148.82,291.30 L149.13,291.96 L149.44,292.61 L149.75,293.26 L150.06,293.91 L150.38,294.55 L150.69,295.18 L151.00,295.81 L151.31,296.44 L151.62,297.06 L151.93,297.68 L152.24,298.29 L152.55,298.90 L152.86,299.51 L153.17,300.12 L153.48,300.72 L153.79,301.32 L154.10,301.92 L154.41,302.51 L154.73,303.10 L155.04,303.69 L155.35,304.27 L155.66,304.86 L155.97,305.44 L156.28,306.01 L156.59,306.59 L156.90,307.16 L157.21,307.72 L157.52,308.29 L157.83,308.85 L158.14,309.41 L158.45,309.97 L158.76,310.52 L159.07,311.07 L159.39,311.62 L159.70,312.16 L160.01,312.70 L160.32,313.24 L160.63,313.77 L160.94,314.30 L161.25,314.83 L161.56,315.35 L161.87,315.87 L162.18,316.39 L162.49,316.90 L162.80,317.41 L163.11,317.92 L163.43,318.43 L163.74,318.93 L164.05,319.42 L164.36,319.92 L164.67,320.41 L164.98,320.90 L165.29,321.38 L165.60,321.86 L165.91,322.34 L166.22,322.81 L166.53,323.29 L166.84,323.75 L167.15,324.22 L167.46,324.68 L167.78,325.14 L168.09,325.60 L168.40,326.05 L168.71,326.50 L169.02,326.95 L169.33,327.39 L169.64,327.83 L169.95,328.27 L170.26,328.71 L170.57,329.14 L170.88,329.57 L171.19,330.00 L171.50,330.42 L171.81,330.85 L172.12,331.26 L172.44,331.68 L172.75,332.10 L173.06,332.51 L173.37,332.92 L173.68,333.32 L173.99,333.73 L174.30,334.13 L174.61,334.53 L174.92,334.92 L175.23,335.32 L175.54,335.71 L175.85,336.10 L176.16,336.49 L176.48,336.87 L176.79,337.25 L177.10,337.64 L177.41,338.01 L177.72,338.39 L178.03,338.76 L178.34,339.14 L178.65,339.51 L178.96,339.87 L179.27,340.24 L179.58,340.60 L179.89,340.97 L180.20,341.33 L180.51,341.68 L180.82,342.04 L181.14,342.39 L181.45,342.75 L181.76,343.10 L182.07,343.44 L182.38,343.79 L182.69,344.14 L183.00,344.48 L183.31,344.82 L183.62,345.16 L183.93,345.50 L184.24,345.83 L184.55,346.17 L184.86,346.50 L185.18,346.83 L185.49,347.16 L185.80,347.49 L186.11,347.81 L186.42,348.14 L186.73,348.46 L187.04,348.78 L187.35,349.10 L187.66,349.42 L187.97,349.74 L188.28,350.05 L188.59,350.37 L188.90,350.68 L189.21,350.99 L189.53,351.30 L189.84,351.61 L190.15,351.92 L190.46,352.22 L190.77,352.52 L191.08,352.83 L191.39,353.13 L191.70,353.43 L192.01,353.73 L192.32,354.02 L192.63,354.32 L192.94,354.61 L193.25,354.91 L193.56,355.20 L193.88,355.49 L194.19,355.78 L194.50,356.07 L194.81,356.35 L195.12,356.64 L195.43,356.92 L195.74,357.21 L196.05,357.49 L196.36,357.77 L196.67,358.05 L196.98,358.33 L197.29,358.61 L197.60,358.88 L197.91,359.16 L198.22,359.43 L198.54,359.71 L198.85,359.98 L199.16,360.25 L199.47,360.52 L199.78,360.79 L200.09,361.05 L200.40,361.32 L200.71,361.59 L201.02,361.85 L201.33,362.11 L201.64,362.38 L201.95,362.64 L202.26,362.90 L202.58,363.16 L202.89,363.42 L203.20,363.67 L203.51,363.93 L203.82,364.18 L204.13,364.44 L204.44,364.69 L204.75,364.95 L205.06,365.20 L205.37,365.45 L205.68,365.70 L205.99,365.95 L206.30,366.19 L206.61,366.44 L206.93,366.69 L207.24,366.93 L207.55,367.18 L207.86,367.42 L208.17,367.66 L208.48,367.91 L208.79,368.15 L209.10,368.39 L209.41,368.63 L209.72,368.86 L210.03,369.10 L210.34,369.34 L210.65,369.57 L210.96,369.81 L211.28,370.04 L211.59,370.28 L211.90,370.51 L212.21,370.74 L212.52,370.97 L212.83,371.20 L213.14,371.43 L213.45,371.66 L213.76,371.89 L214.07,372.12 L214.38,372.34 L214.69,372.57 L215.00,372.79 L215.31,373.02 L215.62,373.24 L215.94,373.47 L216.25,373.69 L216.56,373.91 L216.87,374.13 L217.18,374.35 L217.49,374.57 L217.80,374.79 L218.11,375.01 L218.42,375.22 L218.73,375.44 L219.04,375.66 L219.35,375.87 L219.66,376.08 L219.97,376.30 L220.29,376.51 L220.60,376.72 L220.91,376.94 L221.22,377.15 L221.53,377.36 L221.84,377.57 L222.15,377.78 L222.46,377.99 L222.77,378.19 L223.08,378.40 L223.39,378.61 L223.70,378.81 L224.01,379.02 L224.33,379.22 L224.64,379.43 L224.95,379.63 L225.26,379.84 L225.57,380.04 L225.88,380.24 L226.19,380.44 L226.50,380.64" fill="none" stroke="#ff0000" stroke-width="1.7" stroke-linejoin="round"/>
</g>
<g clip-path="url(#c11)">
<path d="M232.66,360.09 L232.71,360.09 L232.71,376.50 L233.96,376.50 L233.96,376.50 L235.20,376.50 L235.20,376.50 L236.44,376.50 L236.44,376.50 L237.69,376.50 L237.69,376.50 L238.93,376.50 L238.93,376.50 L240.17,376.50 L240.17,376.50 L241.41,376.50 L241.41,360.09 L242.66,360.09 L242.66,376.50 L243.90,376.50 L243.90,376.50 L245.14,376.50 L245.14,376.50 L246.39,376.50 L246.39,376.50 L247.63,376.50 L247.63,343.67 L248.87,343.67 L248.87,343.67 L250.11,343.67 L250.11,360.09 L251.36,360.09 L251.36,376.50 L252.60,376.50 L252.60,334.07 L253.84,334.07 L253.84,334.07 L255.09,334.07 L255.09,360.09 L256.33,360.09 L256.33,343.67 L257.57,343.67 L257.57,360.09 L258.81,360.09 L258.81,317.65 L260.06,317.65 L260.06,317.65 L261.30,317.65 L261.30,327.26 L262.54,327.26 L262.54,305.56 L263.79,305.56 L263.79,305.56 L265.03,305.56 L265.03,295.95 L266.27,295.95 L266.27,308.05 L267.51,308.05 L267.51,290.36 L268.76,290.36 L268.76,279.54 L270.00,279.54 L270.00,280.34 L271.24,280.34 L271.24,271.01 L272.49,271.01 L272.49,264.76 L273.73,264.76 L273.73,250.79 L274.97,250.79 L274.97,241.58 L276.21,241.58 L276.21,239.17 L277.46,239.17 L277.46,231.93 L278.70,231.93 L278.70,228.77 L279.94,228.77 L279.94,224.47 L281.19,224.47 L281.19,221.91 L282.43,221.91 L282.43,216.71 L283.67,216.71 L283.67,214.48 L284.91,214.48 L284.91,212.17 L286.16,212.17 L286.16,209.20 L287.40,209.20 L287.40,207.03 L288.64,207.03 L288.64,206.96 L289.89,206.96 L289.89,205.39 L291.13,205.39 L291.13,207.78 L292.37,207.78 L292.37,205.91 L293.61,205.91 L293.61,207.14 L294.86,207.14 L294.86,211.31 L296.10,211.31 L296.10,210.79 L297.34,210.79 L297.34,211.80 L298.59,211.80 L298.59,216.71 L299.83,216.71 L299.83,221.84 L301.07,221.84 L301.07,222.47 L302.31,222.47 L302.31,229.90 L303.56,229.90 L303.56,233.35 L304.80,233.35 L304.80,236.72 L306.04,236.72 L306.04,246.13 L307.29,246.13 L307.29,249.65 L308.53,249.65 L308.53,253.79 L309.77,253.79 L309.77,263.52 L311.01,263.52 L311.01,268.91 L312.26,268.91 L312.26,265.62 L313.50,265.62 L313.50,269.94 L314.74,269.94 L314.74,275.22 L315.99,275.22 L315.99,282.04 L317.23,282.04 L317.23,287.99 L318.47,287.99 L318.47,289.14 L319.71,289.14 L319.71,310.84 L320.96,310.84 L320.96,289.14 L322.20,289.14 L322.20,314.00 L323.44,314.00 L323.44,294.43 L324.69,294.43 L324.69,303.30 L325.93,303.30 L325.93,299.34 L327.17,299.34 L327.17,308.05 L328.41,308.05 L328.41,305.56 L329.66,305.56 L329.66,308.05 L330.90,308.05 L330.90,321.97 L332.14,321.97 L332.14,310.84 L333.39,310.84 L333.39,310.84 L334.63,310.84 L334.63,317.65 L335.87,317.65 L335.87,317.65 L337.11,317.65 L337.11,321.97 L338.36,321.97 L338.36,321.97 L339.60,321.97 L339.60,334.07 L340.84,334.07 L340.84,343.67 L342.09,343.67 L342.09,343.67 L343.33,343.67 L343.33,327.26 L344.57,327.26 L344.57,360.09 L345.81,360.09 L345.81,343.67 L347.06,343.67 L347.06,360.09 L348.30,360.09 L348.30,343.67 L349.54,343.67 L349.54,360.09 L350.79,360.09 L350.79,343.67 L352.03,343.67 L352.03,321.97 L353.27,321.97 L353.27,334.07 L354.51,334.07 L354.51,334.07 L355.76,334.07 L355.76,360.09 L357.00,360.09 L357.00,343.67 L358.24,343.67 L358.24,360.09 L359.49,360.09 L359.49,343.67 L360.73,343.67 L360.73,360.09 L361.97,360.09 L361.97,360.09 L363.21,360.09 L363.21,360.09 L364.46,360.09 L364.46,376.50 L365.70,376.50 L365.70,376.50 L366.94,376.50 L366.94,343.67 L368.19,343.67 L368.19,360.09 L369.43,360.09 L369.43,343.67 L370.67,343.67 L370.67,376.50 L371.91,376.50 L371.91,376.50 L373.16,376.50 L373.16,360.09 L374.40,360.09 L374.40,376.50 L375.64,376.50 L375.64,360.09 L376.89,360.09 L376.89,343.67 L378.13,343.67 L378.13,376.50 L379.37,376.50 L379.37,376.50 L380.61,376.50 L380.61,376.50 L381.86,376.50 L381.86,376.50 L383.10,376.50 L383.10,376.50 L384.34,376.50 L384.34,376.50 L385.59,376.50 L385.59,376.50 L386.83,376.50 L386.83,360.09 L388.07,360.09 L388.07,343.67 L389.31,343.67 L389.31,376.50 L390.56,376.50 L390.56,376.50 L391.80,376.50 L391.80,376.50 L393.04,376.50 L393.04,376.50 L394.29,376.50 L394.29,360.09 L395.53,360.09 L395.53,360.09 L396.77,360.09 L396.77,360.09 L398.01,360.09 L398.01,376.50 L399.26,376.50 L399.26,376.50 L400.50,376.50" fill="none" stroke="#000" stroke-width="1.35" stroke-linejoin="miter"/>
<line x1="291.69" x2="291.69" y1="376.50" y2="196.50" stroke="#666" stroke-width="1.5" stroke-dasharray="4.7,4.75"/>
<path d="M258.19,388.21 L258.50,384.77 L258.81,381.37 L259.12,378.00 L259.44,374.66 L259.75,371.36 L260.06,368.09 L260.37,364.85 L260.68,361.65 L260.99,358.47 L261.30,355.34 L261.61,352.23 L261.92,349.16 L262.23,346.12 L262.54,343.11 L262.85,340.13 L263.16,337.19 L263.48,334.28 L263.79,331.41 L264.10,328.57 L264.41,325.76 L264.72,322.98 L265.03,320.23 L265.34,317.52 L265.65,314.84 L265.96,312.20 L266.27,309.59 L266.58,307.01 L266.89,304.46 L267.20,301.95 L267.51,299.47 L267.82,297.02 L268.14,294.60 L268.45,292.22 L268.76,289.87 L269.07,287.55 L269.38,285.27 L269.69,283.02 L270.00,280.80 L270.31,278.62 L270.62,276.47 L270.93,274.35 L271.24,272.26 L271.55,270.21 L271.86,268.19 L272.18,266.20 L272.49,264.24 L272.80,262.32 L273.11,260.43 L273.42,258.58 L273.73,256.76 L274.04,254.97 L274.35,253.21 L274.66,251.48 L274.97,249.79 L275.28,248.13 L275.59,246.51 L275.90,244.92 L276.21,243.36 L276.52,241.83 L276.84,240.34 L277.15,238.87 L277.46,237.45 L277.77,236.05 L278.08,234.69 L278.39,233.36 L278.70,232.06 L279.01,230.80 L279.32,229.57 L279.63,228.37 L279.94,227.21 L280.25,226.07 L280.56,224.97 L280.88,223.91 L281.19,222.88 L281.50,221.87 L281.81,220.91 L282.12,219.97 L282.43,219.07 L282.74,218.20 L283.05,217.37 L283.36,216.56 L283.67,215.79 L283.98,215.06 L284.29,214.35 L284.60,213.68 L284.91,213.04 L285.23,212.44 L285.54,211.86 L285.85,211.32 L286.16,210.82 L286.47,210.34 L286.78,209.90 L287.09,209.49 L287.40,209.12 L287.71,208.78 L288.02,208.47 L288.33,208.19 L288.64,207.95 L288.95,207.73 L289.26,207.56 L289.57,207.41 L289.89,207.30 L290.20,207.22 L290.51,207.17 L290.82,207.16 L291.13,207.18 L291.44,207.23 L291.75,207.32 L292.06,207.44 L292.37,207.59 L292.68,207.77 L292.99,207.99 L293.30,208.24 L293.61,208.52 L293.93,208.84 L294.24,209.18 L294.55,209.57 L294.86,209.98 L295.17,210.43 L295.48,210.91 L295.79,211.42 L296.10,211.97 L296.41,212.54 L296.72,213.16 L297.03,213.80 L297.34,214.48 L297.65,215.19 L297.96,215.93 L298.27,216.71 L298.59,217.52 L298.90,218.36 L299.21,219.23 L299.52,220.14 L299.83,221.08 L300.14,222.06 L300.45,223.06 L300.76,224.10 L301.07,225.17 L301.38,226.28 L301.69,227.42 L302.00,228.59 L302.31,229.79 L302.62,231.03 L302.94,232.30 L303.25,233.60 L303.56,234.94 L303.87,236.31 L304.18,237.71 L304.49,239.14 L304.80,240.61 L305.11,242.11 L305.42,243.64 L305.73,245.21 L306.04,246.81 L306.35,248.44 L306.66,250.10 L306.98,251.80 L307.29,253.53 L307.60,255.29 L307.91,257.09 L308.22,258.92 L308.53,260.78 L308.84,262.67 L309.15,264.60 L309.46,266.56 L309.77,268.56 L310.08,270.58 L310.39,272.64 L310.70,274.73 L311.01,276.86 L311.32,279.02 L311.64,281.21 L311.95,283.43 L312.26,285.69 L312.57,287.98 L312.88,290.30 L313.19,292.66 L313.50,295.04 L313.81,297.46 L314.12,299.92 L314.43,302.41 L314.74,304.93 L315.05,307.48 L315.36,310.06 L315.68,312.68 L315.99,315.33 L316.30,318.02 L316.61,320.74 L316.92,323.49 L317.23,326.27 L317.54,329.08 L317.85,331.93 L318.16,334.82 L318.47,337.73 L318.78,340.68 L319.09,343.66 L319.40,346.67 L319.71,349.72 L320.02,352.80 L320.34,355.91 L320.65,359.05 L320.96,362.23 L321.27,365.44 L321.58,368.69 L321.89,371.96 L322.20,375.27 L322.51,378.62 L322.82,381.99 L323.13,385.40" fill="none" stroke="#0000ff" stroke-width="1.5" stroke-dasharray="1.5,2.1"/>
<path d="M258.19,388.17 L258.50,384.73 L258.81,381.33 L259.12,377.96 L259.44,374.62 L259.75,371.32 L260.06,368.05 L260.37,364.81 L260.68,361.60 L260.99,358.43 L261.30,355.29 L261.61,352.18 L261.92,349.11 L262.23,346.07 L262.54,343.06 L262.85,340.09 L263.16,337.14 L263.48,334.23 L263.79,331.36 L264.10,328.51 L264.41,325.70 L264.72,322.92 L265.03,320.18 L265.34,317.47 L265.65,314.79 L265.96,312.14 L266.27,309.53 L266.58,306.95 L266.89,304.40 L267.20,301.88 L267.51,299.40 L267.82,296.95 L268.14,294.54 L268.45,292.15 L268.76,289.80 L269.07,287.48 L269.38,285.20 L269.69,282.95 L270.00,280.73 L270.31,278.54 L270.62,276.39 L270.93,274.27 L271.24,272.18 L271.55,270.12 L271.86,268.10 L272.18,266.11 L272.49,264.16 L272.80,262.23 L273.11,260.34 L273.42,258.48 L273.73,256.66 L274.04,254.86 L274.35,253.11 L274.66,251.38 L274.97,249.68 L275.28,248.02 L275.59,246.39 L275.90,244.80 L276.21,243.24 L276.52,241.71 L276.84,240.21 L277.15,238.74 L277.46,237.31 L277.77,235.91 L278.08,234.55 L278.39,233.21 L278.70,231.91 L279.01,230.65 L279.32,229.41 L279.63,228.21 L279.94,227.04 L280.25,225.90 L280.56,224.80 L280.88,223.73 L281.19,222.69 L281.50,221.68 L281.81,220.71 L282.12,219.77 L282.43,218.86 L282.74,217.98 L283.05,217.14 L283.36,216.33 L283.67,215.55 L283.98,214.81 L284.29,214.09 L284.60,213.41 L284.91,212.77 L285.23,212.15 L285.54,211.57 L285.85,211.02 L286.16,210.50 L286.47,210.02 L286.78,209.56 L287.09,209.14 L287.40,208.75 L287.71,208.40 L288.02,208.08 L288.33,207.78 L288.64,207.52 L288.95,207.30 L289.26,207.10 L289.57,206.94 L289.89,206.81 L290.20,206.71 L290.51,206.64 L290.82,206.61 L291.13,206.61 L291.44,206.63 L291.75,206.69 L292.06,206.79 L292.37,206.91 L292.68,207.06 L292.99,207.25 L293.30,207.47 L293.61,207.72 L293.93,208.00 L294.24,208.31 L294.55,208.65 L294.86,209.02 L295.17,209.42 L295.48,209.86 L295.79,210.32 L296.10,210.82 L296.41,211.34 L296.72,211.89 L297.03,212.48 L297.34,213.09 L297.65,213.73 L297.96,214.40 L298.27,215.10 L298.59,215.83 L298.90,216.59 L299.21,217.37 L299.52,218.18 L299.83,219.02 L300.14,219.89 L300.45,220.78 L300.76,221.70 L301.07,222.64 L301.38,223.61 L301.69,224.60 L302.00,225.62 L302.31,226.66 L302.62,227.72 L302.94,228.80 L303.25,229.91 L303.56,231.04 L303.87,232.18 L304.18,233.35 L304.49,234.53 L304.80,235.73 L305.11,236.95 L305.42,238.18 L305.73,239.43 L306.04,240.69 L306.35,241.96 L306.66,243.25 L306.98,244.54 L307.29,245.84 L307.60,247.15 L307.91,248.46 L308.22,249.77 L308.53,251.09 L308.84,252.41 L309.15,253.73 L309.46,255.05 L309.77,256.37 L310.08,257.68 L310.39,258.98 L310.70,260.27 L311.01,261.56 L311.32,262.83 L311.64,264.10 L311.95,265.34 L312.26,266.58 L312.57,267.80 L312.88,269.00 L313.19,270.18 L313.50,271.35 L313.81,272.50 L314.12,273.62 L314.43,274.73 L314.74,275.82 L315.05,276.88 L315.36,277.93 L315.68,278.95 L315.99,279.96 L316.30,280.94 L316.61,281.90 L316.92,282.85 L317.23,283.77 L317.54,284.68 L317.85,285.57 L318.16,286.44 L318.47,287.30 L318.78,288.13 L319.09,288.96 L319.40,289.77 L319.71,290.57 L320.02,291.35 L320.34,292.12 L320.65,292.88 L320.96,293.63 L321.27,294.37 L321.58,295.10 L321.89,295.82 L322.20,296.53 L322.51,297.24 L322.82,297.94 L323.13,298.63 L323.44,299.31 L323.75,299.99 L324.06,300.66 L324.38,301.33 L324.69,301.99 L325.00,302.65 L325.31,303.30 L325.62,303.94 L325.93,304.59 L326.24,305.22 L326.55,305.86 L326.86,306.49 L327.17,307.11 L327.48,307.73 L327.79,308.35 L328.10,308.96 L328.41,309.57 L328.73,310.18 L329.04,310.78 L329.35,311.38 L329.66,311.97 L329.97,312.56 L330.28,313.15 L330.59,313.73 L330.90,314.31 L331.21,314.89 L331.52,315.46 L331.83,316.02 L332.14,316.59 L332.45,317.15 L332.76,317.70 L333.07,318.25 L333.39,318.80 L333.70,319.35 L334.01,319.89 L334.32,320.42 L334.63,320.96 L334.94,321.49 L335.25,322.01 L335.56,322.53 L335.87,323.05 L336.18,323.56 L336.49,324.07 L336.80,324.58 L337.11,325.08 L337.43,325.58 L337.74,326.08 L338.05,326.57 L338.36,327.06 L338.67,327.54 L338.98,328.02 L339.29,328.50 L339.60,328.98 L339.91,329.45 L340.22,329.91 L340.53,330.38 L340.84,330.84 L341.15,331.30 L341.46,331.75 L341.77,332.20 L342.09,332.65 L342.40,333.10 L342.71,333.54 L343.02,333.98 L343.33,334.42 L343.64,334.85 L343.95,335.28 L344.26,335.71 L344.57,336.13 L344.88,336.55 L345.19,336.97 L345.50,337.39 L345.81,337.80 L346.12,338.21 L346.44,338.62 L346.75,339.03 L347.06,339.43 L347.37,339.83 L347.68,340.23 L347.99,340.63 L348.30,341.02 L348.61,341.41 L348.92,341.80 L349.23,342.19 L349.54,342.57 L349.85,342.95 L350.16,343.33 L350.48,343.71 L350.79,344.08 L351.10,344.45 L351.41,344.83 L351.72,345.19 L352.03,345.56 L352.34,345.92 L352.65,346.29 L352.96,346.65 L353.27,347.01 L353.58,347.36 L353.89,347.72 L354.20,348.07 L354.51,348.42 L354.82,348.77 L355.14,349.11 L355.45,349.46 L355.76,349.80 L356.07,350.14 L356.38,350.48 L356.69,350.82 L357.00,351.16 L357.31,351.49 L357.62,351.82 L357.93,352.15 L358.24,352.48 L358.55,352.81 L358.86,353.14 L359.18,353.46 L359.49,353.78 L359.80,354.10 L360.11,354.42 L360.42,354.74 L360.73,355.06 L361.04,355.37 L361.35,355.68 L361.66,356.00 L361.97,356.31 L362.28,356.62 L362.59,356.92 L362.90,357.23 L363.21,357.53 L363.52,357.84 L363.84,358.14 L364.15,358.44 L364.46,358.74 L364.77,359.03 L365.08,359.33 L365.39,359.63 L365.70,359.92 L366.01,360.21 L366.32,360.50 L366.63,360.79 L366.94,361.08 L367.25,361.37 L367.56,361.65 L367.88,361.94 L368.19,362.22 L368.50,362.50 L368.81,362.79 L369.12,363.07 L369.43,363.34 L369.74,363.62 L370.05,363.90 L370.36,364.17 L370.67,364.45 L370.98,364.72 L371.29,364.99 L371.60,365.26 L371.91,365.53 L372.23,365.80 L372.54,366.07 L372.85,366.33 L373.16,366.60 L373.47,366.86 L373.78,367.13 L374.09,367.39 L374.40,367.65 L374.71,367.91 L375.02,368.17 L375.33,368.43 L375.64,368.68 L375.95,368.94 L376.26,369.20 L376.58,369.45 L376.89,369.70 L377.20,369.96 L377.51,370.21 L377.82,370.46 L378.13,370.71 L378.44,370.95 L378.75,371.20 L379.06,371.45 L379.37,371.69 L379.68,371.94 L379.99,372.18 L380.30,372.43 L380.61,372.67 L380.93,372.91 L381.24,373.15 L381.55,373.39 L381.86,373.63 L382.17,373.87 L382.48,374.10 L382.79,374.34 L383.10,374.57 L383.41,374.81 L383.72,375.04 L384.03,375.28 L384.34,375.51 L384.65,375.74 L384.96,375.97 L385.27,376.20 L385.59,376.43 L385.90,376.66 L386.21,376.88 L386.52,377.11 L386.83,377.34 L387.14,377.56 L387.45,377.78 L387.76,378.01 L388.07,378.23 L388.38,378.45 L388.69,378.67 L389.00,378.90 L389.31,379.12 L389.62,379.33 L389.94,379.55 L390.25,379.77 L390.56,379.99 L390.87,380.20 L391.18,380.42 L391.49,380.63 L391.80,380.85 L392.11,381.06 L392.42,381.28 L392.73,381.49 L393.04,381.70 L393.35,381.91 L393.66,382.12 L393.98,382.33 L394.29,382.54 L394.60,382.75 L394.91,382.95 L395.22,383.16 L395.53,383.37 L395.84,383.57 L396.15,383.78 L396.46,383.98 L396.77,384.19 L397.08,384.39 L397.39,384.59 L397.70,384.80 L398.01,385.00 L398.33,385.20 L398.64,385.40 L398.95,385.60 L399.26,385.80 L399.57,386.00 L399.88,386.19 L400.19,386.39 L400.50,386.59" fill="none" stroke="#ff0000" stroke-width="1.7" stroke-linejoin="round"/>
</g>
<g clip-path="url(#c12)">
<path d="M410.39,360.09 L410.44,360.09 L410.44,376.50 L411.69,376.50 L411.69,376.50 L412.93,376.50 L412.93,376.50 L414.17,376.50 L414.17,376.50 L415.41,376.50 L415.41,376.50 L416.66,376.50 L416.66,376.50 L417.90,376.50 L417.90,376.50 L419.14,376.50 L419.14,376.50 L420.39,376.50 L420.39,376.50 L421.63,376.50 L421.63,360.09 L422.87,360.09 L422.87,343.67 L424.11,343.67 L424.11,334.07 L425.36,334.07 L425.36,334.07 L426.60,334.07 L426.60,376.50 L427.84,376.50 L427.84,334.07 L429.09,334.07 L429.09,360.09 L430.33,360.09 L430.33,343.67 L431.57,343.67 L431.57,334.07 L432.81,334.07 L432.81,314.00 L434.06,314.00 L434.06,317.65 L435.30,317.65 L435.30,317.65 L436.54,317.65 L436.54,321.97 L437.79,321.97 L437.79,308.05 L439.03,308.05 L439.03,295.95 L440.27,295.95 L440.27,295.95 L441.51,295.95 L441.51,281.17 L442.76,281.17 L442.76,276.58 L444.00,276.58 L444.00,271.57 L445.24,271.57 L445.24,262.73 L446.49,262.73 L446.49,250.79 L447.73,250.79 L447.73,248.34 L448.97,248.34 L448.97,241.43 L450.21,241.43 L450.21,233.35 L451.46,233.35 L451.46,231.41 L452.70,231.41 L452.70,224.70 L453.94,224.70 L453.94,222.26 L455.19,222.26 L455.19,215.15 L456.43,215.15 L456.43,212.54 L457.67,212.54 L457.67,210.79 L458.91,210.79 L458.91,208.44 L460.16,208.44 L460.16,204.31 L461.40,204.31 L461.40,204.51 L462.64,204.51 L462.64,202.29 L463.89,202.29 L463.89,203.34 L465.13,203.34 L465.13,203.25 L466.37,203.25 L466.37,204.71 L467.61,204.71 L467.61,205.32 L468.86,205.32 L468.86,207.25 L470.10,207.25 L470.10,207.48 L471.34,207.48 L471.34,211.76 L472.59,211.76 L472.59,213.98 L473.83,213.98 L473.83,218.08 L475.07,218.08 L475.07,220.89 L476.31,220.89 L476.31,225.57 L477.56,225.57 L477.56,231.00 L478.80,231.00 L478.80,235.21 L480.04,235.21 L480.04,239.60 L481.29,239.60 L481.29,246.51 L482.53,246.51 L482.53,252.24 L483.77,252.24 L483.77,251.03 L485.01,251.03 L485.01,261.23 L486.26,261.23 L486.26,262.35 L487.50,262.35 L487.50,272.14 L488.74,272.14 L488.74,268.41 L489.99,268.41 L489.99,273.33 L491.23,273.33 L491.23,284.82 L492.47,284.82 L492.47,290.36 L493.71,290.36 L493.71,284.82 L494.96,284.82 L494.96,281.17 L496.20,281.17 L496.20,280.34 L497.44,280.34 L497.44,297.59 L498.69,297.59 L498.69,297.59 L499.93,297.59 L499.93,297.59 L501.17,297.59 L501.17,297.59 L502.41,297.59 L502.41,292.99 L503.66,292.99 L503.66,301.24 L504.90,301.24 L504.90,305.56 L506.14,305.56 L506.14,314.00 L507.39,314.00 L507.39,305.56 L508.63,305.56 L508.63,317.65 L509.87,317.65 L509.87,334.07 L511.11,334.07 L511.11,327.26 L512.36,327.26 L512.36,327.26 L513.60,327.26 L513.60,327.26 L514.84,327.26 L514.84,317.65 L516.09,317.65 L516.09,317.65 L517.33,317.65 L517.33,343.67 L518.57,343.67 L518.57,343.67 L519.81,343.67 L519.81,334.07 L521.06,334.07 L521.06,314.00 L522.30,314.00 L522.30,314.00 L523.54,314.00 L523.54,334.07 L524.79,334.07 L524.79,327.26 L526.03,327.26 L526.03,360.09 L527.27,360.09 L527.27,327.26 L528.51,327.26 L528.51,360.09 L529.76,360.09 L529.76,343.67 L531.00,343.67 L531.00,360.09 L532.24,360.09 L532.24,360.09 L533.49,360.09 L533.49,360.09 L534.73,360.09 L534.73,360.09 L535.97,360.09 L535.97,360.09 L537.21,360.09 L537.21,343.67 L538.46,343.67 L538.46,376.50 L539.70,376.50 L539.70,327.26 L540.94,327.26 L540.94,334.07 L542.19,334.07 L542.19,334.07 L543.43,334.07 L543.43,360.09 L544.67,360.09 L544.67,376.50 L545.91,376.50 L545.91,360.09 L547.16,360.09 L547.16,376.50 L548.40,376.50 L548.40,360.09 L549.64,360.09 L549.64,360.09 L550.89,360.09 L550.89,376.50 L552.13,376.50 L552.13,360.09 L553.37,360.09 L553.37,376.50 L554.61,376.50 L554.61,360.09 L555.86,360.09 L555.86,376.50 L557.10,376.50 L557.10,376.50 L558.34,376.50 L558.34,343.67 L559.59,343.67 L559.59,343.67 L560.83,343.67 L560.83,334.07 L562.07,334.07 L562.07,376.50 L563.31,376.50 L563.31,376.50 L564.56,376.50 L564.56,360.09 L565.80,360.09 L565.80,376.50 L567.04,376.50 L567.04,376.50 L568.29,376.50 L568.29,343.67 L569.53,343.67 L569.53,376.50 L570.77,376.50 L570.77,376.50 L572.01,376.50 L572.01,376.50 L573.26,376.50 L573.26,360.09 L574.50,360.09" fill="none" stroke="#000" stroke-width="1.35" stroke-linejoin="miter"/>
<line x1="465.56" x2="465.56" y1="376.50" y2="196.50" stroke="#666" stroke-width="1.5" stroke-dasharray="4.7,4.75"/>
<path d="M431.57,385.26 L431.88,381.86 L432.19,378.48 L432.50,375.14 L432.81,371.82 L433.12,368.54 L433.44,365.30 L433.75,362.08 L434.06,358.90 L434.37,355.75 L434.68,352.63 L434.99,349.54 L435.30,346.49 L435.61,343.47 L435.92,340.48 L436.23,337.52 L436.54,334.60 L436.85,331.71 L437.16,328.85 L437.48,326.02 L437.79,323.22 L438.10,320.46 L438.41,317.73 L438.72,315.03 L439.03,312.36 L439.34,309.73 L439.65,307.13 L439.96,304.56 L440.27,302.02 L440.58,299.51 L440.89,297.04 L441.20,294.60 L441.51,292.19 L441.82,289.82 L442.14,287.47 L442.45,285.16 L442.76,282.88 L443.07,280.64 L443.38,278.42 L443.69,276.24 L444.00,274.09 L444.31,271.97 L444.62,269.88 L444.93,267.83 L445.24,265.81 L445.55,263.82 L445.86,261.86 L446.18,259.94 L446.49,258.05 L446.80,256.19 L447.11,254.36 L447.42,252.57 L447.73,250.80 L448.04,249.07 L448.35,247.37 L448.66,245.71 L448.97,244.07 L449.28,242.47 L449.59,240.90 L449.90,239.36 L450.21,237.86 L450.52,236.39 L450.84,234.95 L451.15,233.54 L451.46,232.16 L451.77,230.82 L452.08,229.51 L452.39,228.23 L452.70,226.98 L453.01,225.77 L453.32,224.59 L453.63,223.44 L453.94,222.32 L454.25,221.23 L454.56,220.18 L454.88,219.16 L455.19,218.17 L455.50,217.21 L455.81,216.29 L456.12,215.40 L456.43,214.54 L456.74,213.71 L457.05,212.92 L457.36,212.15 L457.67,211.42 L457.98,210.72 L458.29,210.06 L458.60,209.43 L458.91,208.82 L459.23,208.25 L459.54,207.72 L459.85,207.21 L460.16,206.74 L460.47,206.30 L460.78,205.89 L461.09,205.52 L461.40,205.17 L461.71,204.86 L462.02,204.58 L462.33,204.34 L462.64,204.12 L462.95,203.94 L463.26,203.79 L463.57,203.68 L463.89,203.59 L464.20,203.54 L464.51,203.52 L464.82,203.53 L465.13,203.57 L465.44,203.65 L465.75,203.76 L466.06,203.90 L466.37,204.07 L466.68,204.28 L466.99,204.51 L467.30,204.78 L467.61,205.09 L467.93,205.42 L468.24,205.79 L468.55,206.19 L468.86,206.62 L469.17,207.08 L469.48,207.58 L469.79,208.10 L470.10,208.66 L470.41,209.26 L470.72,209.88 L471.03,210.54 L471.34,211.23 L471.65,211.95 L471.96,212.70 L472.27,213.49 L472.59,214.31 L472.90,215.16 L473.21,216.04 L473.52,216.96 L473.83,217.90 L474.14,218.88 L474.45,219.90 L474.76,220.94 L475.07,222.02 L475.38,223.13 L475.69,224.27 L476.00,225.44 L476.31,226.65 L476.62,227.88 L476.94,229.15 L477.25,230.46 L477.56,231.79 L477.87,233.16 L478.18,234.56 L478.49,235.99 L478.80,237.45 L479.11,238.95 L479.42,240.48 L479.73,242.04 L480.04,243.63 L480.35,245.25 L480.66,246.91 L480.98,248.60 L481.29,250.32 L481.60,252.08 L481.91,253.86 L482.22,255.68 L482.53,257.53 L482.84,259.42 L483.15,261.33 L483.46,263.28 L483.77,265.26 L484.08,267.27 L484.39,269.32 L484.70,271.39 L485.01,273.50 L485.32,275.64 L485.64,277.82 L485.95,280.02 L486.26,282.26 L486.57,284.53 L486.88,286.83 L487.19,289.17 L487.50,291.54 L487.81,293.94 L488.12,296.37 L488.43,298.83 L488.74,301.33 L489.05,303.86 L489.36,306.42 L489.68,309.01 L489.99,311.64 L490.30,314.29 L490.61,316.98 L490.92,319.71 L491.23,322.46 L491.54,325.25 L491.85,328.07 L492.16,330.92 L492.47,333.80 L492.78,336.72 L493.09,339.66 L493.40,342.64 L493.71,345.66 L494.02,348.70 L494.34,351.78 L494.65,354.89 L494.96,358.03 L495.27,361.20 L495.58,364.41 L495.89,367.65 L496.20,370.92 L496.51,374.22 L496.82,377.56 L497.13,380.93 L497.44,384.33 L497.75,387.76" fill="none" stroke="#0000ff" stroke-width="1.5" stroke-dasharray="1.5,2.1"/>
<path d="M431.57,385.21 L431.88,381.80 L432.19,378.42 L432.50,375.08 L432.81,371.76 L433.12,368.48 L433.44,365.24 L433.75,362.02 L434.06,358.84 L434.37,355.68 L434.68,352.57 L434.99,349.48 L435.30,346.42 L435.61,343.40 L435.92,340.41 L436.23,337.45 L436.54,334.53 L436.85,331.63 L437.16,328.77 L437.48,325.94 L437.79,323.15 L438.10,320.38 L438.41,317.65 L438.72,314.95 L439.03,312.28 L439.34,309.65 L439.65,307.04 L439.96,304.47 L440.27,301.93 L440.58,299.42 L440.89,296.95 L441.20,294.51 L441.51,292.10 L441.82,289.72 L442.14,287.37 L442.45,285.06 L442.76,282.78 L443.07,280.53 L443.38,278.31 L443.69,276.13 L444.00,273.98 L444.31,271.85 L444.62,269.77 L444.93,267.71 L445.24,265.69 L445.55,263.70 L445.86,261.74 L446.18,259.81 L446.49,257.91 L446.80,256.05 L447.11,254.22 L447.42,252.42 L447.73,250.66 L448.04,248.92 L448.35,247.22 L448.66,245.55 L448.97,243.91 L449.28,242.31 L449.59,240.73 L449.90,239.19 L450.21,237.68 L450.52,236.20 L450.84,234.76 L451.15,233.35 L451.46,231.97 L451.77,230.62 L452.08,229.30 L452.39,228.02 L452.70,226.76 L453.01,225.54 L453.32,224.35 L453.63,223.20 L453.94,222.07 L454.25,220.98 L454.56,219.92 L454.88,218.89 L455.19,217.90 L455.50,216.93 L455.81,216.00 L456.12,215.10 L456.43,214.23 L456.74,213.39 L457.05,212.59 L457.36,211.82 L457.67,211.08 L457.98,210.37 L458.29,209.69 L458.60,209.04 L458.91,208.43 L459.23,207.85 L459.54,207.30 L459.85,206.78 L460.16,206.29 L460.47,205.84 L460.78,205.41 L461.09,205.02 L461.40,204.66 L461.71,204.33 L462.02,204.04 L462.33,203.77 L462.64,203.53 L462.95,203.33 L463.26,203.16 L463.57,203.02 L463.89,202.91 L464.20,202.83 L464.51,202.78 L464.82,202.77 L465.13,202.78 L465.44,202.83 L465.75,202.90 L466.06,203.01 L466.37,203.15 L466.68,203.32 L466.99,203.52 L467.30,203.74 L467.61,204.00 L467.93,204.29 L468.24,204.61 L468.55,204.96 L468.86,205.34 L469.17,205.75 L469.48,206.19 L469.79,206.66 L470.10,207.15 L470.41,207.68 L470.72,208.23 L471.03,208.81 L471.34,209.42 L471.65,210.06 L471.96,210.73 L472.27,211.42 L472.59,212.15 L472.90,212.89 L473.21,213.67 L473.52,214.47 L473.83,215.30 L474.14,216.15 L474.45,217.03 L474.76,217.93 L475.07,218.86 L475.38,219.81 L475.69,220.78 L476.00,221.78 L476.31,222.80 L476.62,223.84 L476.94,224.90 L477.25,225.98 L477.56,227.08 L477.87,228.20 L478.18,229.33 L478.49,230.49 L478.80,231.65 L479.11,232.84 L479.42,234.04 L479.73,235.25 L480.04,236.47 L480.35,237.71 L480.66,238.95 L480.98,240.21 L481.29,241.47 L481.60,242.74 L481.91,244.01 L482.22,245.28 L482.53,246.56 L482.84,247.84 L483.15,249.12 L483.46,250.40 L483.77,251.67 L484.08,252.94 L484.39,254.20 L484.70,255.46 L485.01,256.71 L485.32,257.95 L485.64,259.17 L485.95,260.39 L486.26,261.59 L486.57,262.78 L486.88,263.95 L487.19,265.11 L487.50,266.25 L487.81,267.37 L488.12,268.47 L488.43,269.56 L488.74,270.63 L489.05,271.68 L489.36,272.71 L489.68,273.72 L489.99,274.71 L490.30,275.68 L490.61,276.64 L490.92,277.57 L491.23,278.49 L491.54,279.39 L491.85,280.27 L492.16,281.14 L492.47,281.99 L492.78,282.82 L493.09,283.64 L493.40,284.44 L493.71,285.23 L494.02,286.01 L494.34,286.78 L494.65,287.53 L494.96,288.27 L495.27,289.00 L495.58,289.72 L495.89,290.43 L496.20,291.13 L496.51,291.82 L496.82,292.50 L497.13,293.18 L497.44,293.84 L497.75,294.50 L498.06,295.15 L498.38,295.80 L498.69,296.44 L499.00,297.07 L499.31,297.70 L499.62,298.32 L499.93,298.93 L500.24,299.54 L500.55,300.15 L500.86,300.74 L501.17,301.34 L501.48,301.93 L501.79,302.51 L502.10,303.09 L502.41,303.66 L502.73,304.23 L503.04,304.80 L503.35,305.36 L503.66,305.91 L503.97,306.46 L504.28,307.01 L504.59,307.55 L504.90,308.09 L505.21,308.62 L505.52,309.15 L505.83,309.68 L506.14,310.20 L506.45,310.72 L506.76,311.23 L507.07,311.74 L507.39,312.24 L507.70,312.74 L508.01,313.24 L508.32,313.73 L508.63,314.22 L508.94,314.70 L509.25,315.19 L509.56,315.66 L509.87,316.14 L510.18,316.61 L510.49,317.07 L510.80,317.54 L511.11,317.99 L511.43,318.45 L511.74,318.90 L512.05,319.35 L512.36,319.80 L512.67,320.24 L512.98,320.68 L513.29,321.11 L513.60,321.54 L513.91,321.97 L514.22,322.40 L514.53,322.82 L514.84,323.24 L515.15,323.66 L515.46,324.07 L515.77,324.48 L516.09,324.89 L516.40,325.29 L516.71,325.70 L517.02,326.09 L517.33,326.49 L517.64,326.88 L517.95,327.28 L518.26,327.66 L518.57,328.05 L518.88,328.43 L519.19,328.81 L519.50,329.19 L519.81,329.57 L520.12,329.94 L520.44,330.31 L520.75,330.68 L521.06,331.05 L521.37,331.41 L521.68,331.77 L521.99,332.13 L522.30,332.49 L522.61,332.85 L522.92,333.20 L523.23,333.55 L523.54,333.90 L523.85,334.25 L524.16,334.59 L524.48,334.93 L524.79,335.27 L525.10,335.61 L525.41,335.95 L525.72,336.28 L526.03,336.62 L526.34,336.95 L526.65,337.28 L526.96,337.60 L527.27,337.93 L527.58,338.25 L527.89,338.57 L528.20,338.89 L528.51,339.21 L528.83,339.53 L529.14,339.84 L529.45,340.16 L529.76,340.47 L530.07,340.78 L530.38,341.09 L530.69,341.39 L531.00,341.70 L531.31,342.00 L531.62,342.31 L531.93,342.61 L532.24,342.91 L532.55,343.20 L532.86,343.50 L533.17,343.79 L533.49,344.09 L533.80,344.38 L534.11,344.67 L534.42,344.96 L534.73,345.25 L535.04,345.53 L535.35,345.82 L535.66,346.10 L535.97,346.38 L536.28,346.66 L536.59,346.94 L536.90,347.22 L537.21,347.50 L537.52,347.77 L537.84,348.05 L538.15,348.32 L538.46,348.59 L538.77,348.86 L539.08,349.13 L539.39,349.40 L539.70,349.67 L540.01,349.93 L540.32,350.20 L540.63,350.46 L540.94,350.72 L541.25,350.98 L541.56,351.24 L541.88,351.50 L542.19,351.76 L542.50,352.02 L542.81,352.27 L543.12,352.53 L543.43,352.78 L543.74,353.03 L544.05,353.28 L544.36,353.54 L544.67,353.78 L544.98,354.03 L545.29,354.28 L545.60,354.53 L545.91,354.77 L546.23,355.02 L546.54,355.26 L546.85,355.50 L547.16,355.74 L547.47,355.98 L547.78,356.22 L548.09,356.46 L548.40,356.70 L548.71,356.93 L549.02,357.17 L549.33,357.41 L549.64,357.64 L549.95,357.87 L550.26,358.10 L550.58,358.34 L550.89,358.57 L551.20,358.80 L551.51,359.02 L551.82,359.25 L552.13,359.48 L552.44,359.70 L552.75,359.93 L553.06,360.15 L553.37,360.38 L553.68,360.60 L553.99,360.82 L554.30,361.04 L554.61,361.26 L554.92,361.48 L555.24,361.70 L555.55,361.92 L555.86,362.14 L556.17,362.35 L556.48,362.57 L556.79,362.78 L557.10,363.00 L557.41,363.21 L557.72,363.42 L558.03,363.64 L558.34,363.85 L558.65,364.06 L558.96,364.27 L559.27,364.48 L559.59,364.69 L559.90,364.89 L560.21,365.10 L560.52,365.31 L560.83,365.51 L561.14,365.72 L561.45,365.92 L561.76,366.12 L562.07,366.33 L562.38,366.53 L562.69,366.73 L563.00,366.93 L563.31,367.13 L563.62,367.33 L563.94,367.53 L564.25,367.73 L564.56,367.93 L564.87,368.12 L565.18,368.32 L565.49,368.51 L565.80,368.71 L566.11,368.90 L566.42,369.10 L566.73,369.29 L567.04,369.48 L567.35,369.68 L567.66,369.87 L567.98,370.06 L568.29,370.25 L568.60,370.44 L568.91,370.63 L569.22,370.81 L569.53,371.00 L569.84,371.19 L570.15,371.38 L570.46,371.56 L570.77,371.75 L571.08,371.93 L571.39,372.12 L571.70,372.30 L572.01,372.49 L572.33,372.67 L572.64,372.85 L572.95,373.03 L573.26,373.21 L573.57,373.39 L573.88,373.57 L574.19,373.75 L574.50,373.93" fill="none" stroke="#ff0000" stroke-width="1.7" stroke-linejoin="round"/>
</g>
<g clip-path="url(#c20)">
<path d="M66.12,540.09 L66.17,540.09 L66.17,556.50 L67.41,556.50 L67.41,556.50 L68.66,556.50 L68.66,556.50 L69.90,556.50 L69.90,556.50 L71.14,556.50 L71.14,556.50 L72.39,556.50 L72.39,556.50 L73.63,556.50 L73.63,556.50 L74.87,556.50 L74.87,556.50 L76.11,556.50 L76.11,540.09 L77.36,540.09 L77.36,556.50 L78.60,556.50 L78.60,540.09 L79.84,540.09 L79.84,540.09 L81.09,540.09 L81.09,540.09 L82.33,540.09 L82.33,540.09 L83.57,540.09 L83.57,523.67 L84.81,523.67 L84.81,514.07 L86.06,514.07 L86.06,501.97 L87.30,501.97 L87.30,514.07 L88.54,514.07 L88.54,497.65 L89.79,497.65 L89.79,490.84 L91.03,490.84 L91.03,485.56 L92.27,485.56 L92.27,494.00 L93.51,494.00 L93.51,475.95 L94.76,475.95 L94.76,481.24 L96.00,481.24 L96.00,470.36 L97.24,470.36 L97.24,453.33 L98.49,453.33 L98.49,449.42 L99.73,449.42 L99.73,442.35 L100.97,442.35 L100.97,434.60 L102.21,434.60 L102.21,429.65 L103.46,429.65 L103.46,427.31 L104.70,427.31 L104.70,418.60 L105.94,418.60 L105.94,415.95 L107.19,415.95 L107.19,412.04 L108.43,412.04 L108.43,412.57 L109.67,412.57 L109.67,408.86 L110.91,408.86 L110.91,405.01 L112.16,405.01 L112.16,404.01 L113.40,404.01 L113.40,403.63 L114.64,403.63 L114.64,402.26 L115.89,402.26 L115.89,400.43 L117.13,400.43 L117.13,400.89 L118.37,400.89 L118.37,400.63 L119.61,400.63 L119.61,403.12 L120.86,403.12 L120.86,406.39 L122.10,406.39 L122.10,407.68 L123.34,407.68 L123.34,412.04 L124.59,412.04 L124.59,412.79 L125.83,412.79 L125.83,416.33 L127.07,416.33 L127.07,423.92 L128.31,423.92 L128.31,423.75 L129.56,423.75 L129.56,431.75 L130.80,431.75 L130.80,435.44 L132.04,435.44 L132.04,442.73 L133.29,442.73 L133.29,443.93 L134.53,443.93 L134.53,453.33 L135.77,453.33 L135.77,447.44 L137.01,447.44 L137.01,461.17 L138.26,461.17 L138.26,465.83 L139.50,465.83 L139.50,471.64 L140.74,471.64 L140.74,472.99 L141.99,472.99 L141.99,483.30 L143.23,483.30 L143.23,494.00 L144.47,494.00 L144.47,475.95 L145.71,475.95 L145.71,501.97 L146.96,501.97 L146.96,485.56 L148.20,485.56 L148.20,490.84 L149.44,490.84 L149.44,514.07 L150.69,514.07 L150.69,514.07 L151.93,514.07 L151.93,494.00 L153.17,494.00 L153.17,501.97 L154.41,501.97 L154.41,501.97 L155.66,501.97 L155.66,497.65 L156.90,497.65 L156.90,540.09 L158.14,540.09 L158.14,556.50 L159.39,556.50 L159.39,523.67 L160.63,523.67 L160.63,523.67 L161.87,523.67 L161.87,523.67 L163.11,523.67 L163.11,540.09 L164.36,540.09 L164.36,540.09 L165.60,540.09 L165.60,514.07 L166.84,514.07 L166.84,540.09 L168.09,540.09 L168.09,514.07 L169.33,514.07 L169.33,514.07 L170.57,514.07 L170.57,540.09 L171.81,540.09 L171.81,514.07 L173.06,514.07 L173.06,540.09 L174.30,540.09 L174.30,540.09 L175.54,540.09 L175.54,556.50 L176.79,556.50 L176.79,523.67 L178.03,523.67 L178.03,556.50 L179.27,556.50 L179.27,556.50 L180.51,556.50 L180.51,556.50 L181.76,556.50 L181.76,556.50 L183.00,556.50 L183.00,556.50 L184.24,556.50 L184.24,540.09 L185.49,540.09 L185.49,540.09 L186.73,540.09 L186.73,540.09 L187.97,540.09 L187.97,523.67 L189.21,523.67 L189.21,540.09 L190.46,540.09 L190.46,556.50 L191.70,556.50 L191.70,556.50 L192.94,556.50 L192.94,556.50 L194.19,556.50 L194.19,556.50 L195.43,556.50 L195.43,540.09 L196.67,540.09 L196.67,556.50 L197.91,556.50 L197.91,556.50 L199.16,556.50 L199.16,556.50 L200.40,556.50 L200.40,556.50 L201.64,556.50 L201.64,556.50 L202.89,556.50 L202.89,556.50 L204.13,556.50 L204.13,556.50 L205.37,556.50 L205.37,556.50 L206.61,556.50 L206.61,556.50 L207.86,556.50 L207.86,540.09 L209.10,540.09 L209.10,540.09 L210.34,540.09 L210.34,556.50 L211.59,556.50 L211.59,540.09 L212.83,540.09 L212.83,540.09 L214.07,540.09 L214.07,556.50 L215.31,556.50 L215.31,540.09 L216.56,540.09 L216.56,540.09 L217.80,540.09 L217.80,556.50 L219.04,556.50 L219.04,556.50 L220.29,556.50 L220.29,556.50 L221.53,556.50 L221.53,556.50 L222.77,556.50 L222.77,523.67 L224.01,523.67 L224.01,523.67 L225.26,523.67 L225.26,540.09 L226.50,540.09" fill="none" stroke="#000" stroke-width="1.35" stroke-linejoin="miter"/>
<line x1="117.19" x2="117.19" y1="556.50" y2="376.50" stroke="#666" stroke-width="1.5" stroke-dasharray="4.7,4.75"/>
<path d="M84.50,567.00 L84.81,563.77 L85.12,560.57 L85.44,557.41 L85.75,554.28 L86.06,551.18 L86.37,548.12 L86.68,545.08 L86.99,542.08 L87.30,539.11 L87.61,536.17 L87.92,533.26 L88.23,530.39 L88.54,527.55 L88.85,524.74 L89.16,521.96 L89.47,519.21 L89.79,516.50 L90.10,513.81 L90.41,511.16 L90.72,508.54 L91.03,505.96 L91.34,503.40 L91.65,500.88 L91.96,498.39 L92.27,495.93 L92.58,493.51 L92.89,491.11 L93.20,488.75 L93.51,486.42 L93.83,484.12 L94.14,481.86 L94.45,479.62 L94.76,477.42 L95.07,475.25 L95.38,473.11 L95.69,471.00 L96.00,468.93 L96.31,466.89 L96.62,464.88 L96.93,462.90 L97.24,460.95 L97.55,459.04 L97.86,457.16 L98.18,455.31 L98.49,453.49 L98.80,451.71 L99.11,449.95 L99.42,448.23 L99.73,446.54 L100.04,444.88 L100.35,443.26 L100.66,441.66 L100.97,440.10 L101.28,438.57 L101.59,437.07 L101.90,435.61 L102.21,434.17 L102.53,432.77 L102.84,431.40 L103.15,430.06 L103.46,428.76 L103.77,427.49 L104.08,426.24 L104.39,425.03 L104.70,423.86 L105.01,422.71 L105.32,421.60 L105.63,420.52 L105.94,419.47 L106.25,418.45 L106.56,417.46 L106.88,416.51 L107.19,415.59 L107.50,414.70 L107.81,413.84 L108.12,413.02 L108.43,412.22 L108.74,411.46 L109.05,410.73 L109.36,410.04 L109.67,409.37 L109.98,408.74 L110.29,408.14 L110.60,407.57 L110.91,407.03 L111.22,406.53 L111.54,406.05 L111.85,405.61 L112.16,405.20 L112.47,404.83 L112.78,404.48 L113.09,404.17 L113.40,403.89 L113.71,403.64 L114.02,403.42 L114.33,403.24 L114.64,403.08 L114.95,402.96 L115.26,402.87 L115.58,402.82 L115.89,402.79 L116.20,402.80 L116.51,402.84 L116.82,402.91 L117.13,403.01 L117.44,403.15 L117.75,403.31 L118.06,403.51 L118.37,403.74 L118.68,404.01 L118.99,404.30 L119.30,404.63 L119.61,404.99 L119.92,405.38 L120.24,405.81 L120.55,406.26 L120.86,406.75 L121.17,407.27 L121.48,407.82 L121.79,408.40 L122.10,409.02 L122.41,409.67 L122.72,410.35 L123.03,411.06 L123.34,411.80 L123.65,412.58 L123.96,413.38 L124.28,414.22 L124.59,415.10 L124.90,416.00 L125.21,416.93 L125.52,417.90 L125.83,418.90 L126.14,419.93 L126.45,421.00 L126.76,422.09 L127.07,423.22 L127.38,424.38 L127.69,425.57 L128.00,426.80 L128.31,428.05 L128.62,429.34 L128.94,430.66 L129.25,432.01 L129.56,433.40 L129.87,434.81 L130.18,436.26 L130.49,437.74 L130.80,439.25 L131.11,440.80 L131.42,442.37 L131.73,443.98 L132.04,445.62 L132.35,447.29 L132.66,449.00 L132.98,450.73 L133.29,452.50 L133.60,454.30 L133.91,456.14 L134.22,458.00 L134.53,459.90 L134.84,461.82 L135.15,463.78 L135.46,465.78 L135.77,467.80 L136.08,469.86 L136.39,471.95 L136.70,474.07 L137.01,476.22 L137.32,478.40 L137.64,480.62 L137.95,482.87 L138.26,485.15 L138.57,487.46 L138.88,489.81 L139.19,492.18 L139.50,494.59 L139.81,497.03 L140.12,499.50 L140.43,502.01 L140.74,504.55 L141.05,507.11 L141.36,509.72 L141.68,512.35 L141.99,515.01 L142.30,517.71 L142.61,520.44 L142.92,523.20 L143.23,525.99 L143.54,528.82 L143.85,531.67 L144.16,534.56 L144.47,537.48 L144.78,540.44 L145.09,543.42 L145.40,546.44 L145.71,549.49 L146.03,552.57 L146.34,555.68 L146.65,558.83 L146.96,562.00 L147.27,565.21 L147.58,568.45" fill="none" stroke="#0000ff" stroke-width="1.5" stroke-dasharray="1.5,2.1"/>
<path d="M84.50,566.90 L84.81,563.67 L85.12,560.48 L85.44,557.31 L85.75,554.18 L86.06,551.08 L86.37,548.01 L86.68,544.98 L86.99,541.97 L87.30,539.00 L87.61,536.06 L87.92,533.15 L88.23,530.27 L88.54,527.43 L88.85,524.62 L89.16,521.84 L89.47,519.09 L89.79,516.37 L90.10,513.69 L90.41,511.03 L90.72,508.41 L91.03,505.82 L91.34,503.27 L91.65,500.74 L91.96,498.25 L92.27,495.79 L92.58,493.36 L92.89,490.96 L93.20,488.60 L93.51,486.26 L93.83,483.96 L94.14,481.69 L94.45,479.45 L94.76,477.25 L95.07,475.07 L95.38,472.93 L95.69,470.82 L96.00,468.74 L96.31,466.70 L96.62,464.68 L96.93,462.70 L97.24,460.75 L97.55,458.83 L97.86,456.95 L98.18,455.09 L98.49,453.27 L98.80,451.48 L99.11,449.72 L99.42,447.99 L99.73,446.30 L100.04,444.63 L100.35,443.00 L100.66,441.40 L100.97,439.83 L101.28,438.30 L101.59,436.79 L101.90,435.32 L102.21,433.88 L102.53,432.47 L102.84,431.09 L103.15,429.75 L103.46,428.43 L103.77,427.15 L104.08,425.90 L104.39,424.68 L104.70,423.50 L105.01,422.34 L105.32,421.22 L105.63,420.12 L105.94,419.06 L106.25,418.04 L106.56,417.04 L106.88,416.07 L107.19,415.14 L107.50,414.24 L107.81,413.37 L108.12,412.53 L108.43,411.72 L108.74,410.95 L109.05,410.20 L109.36,409.49 L109.67,408.81 L109.98,408.16 L110.29,407.54 L110.60,406.95 L110.91,406.39 L111.22,405.87 L111.54,405.38 L111.85,404.91 L112.16,404.48 L112.47,404.08 L112.78,403.71 L113.09,403.38 L113.40,403.07 L113.71,402.79 L114.02,402.55 L114.33,402.33 L114.64,402.15 L114.95,402.00 L115.26,401.88 L115.58,401.79 L115.89,401.73 L116.20,401.70 L116.51,401.70 L116.82,401.73 L117.13,401.79 L117.44,401.88 L117.75,402.00 L118.06,402.15 L118.37,402.33 L118.68,402.55 L118.99,402.79 L119.30,403.06 L119.61,403.36 L119.92,403.69 L120.24,404.04 L120.55,404.43 L120.86,404.85 L121.17,405.29 L121.48,405.77 L121.79,406.27 L122.10,406.80 L122.41,407.36 L122.72,407.94 L123.03,408.55 L123.34,409.20 L123.65,409.86 L123.96,410.56 L124.28,411.28 L124.59,412.02 L124.90,412.80 L125.21,413.59 L125.52,414.42 L125.83,415.27 L126.14,416.14 L126.45,417.03 L126.76,417.95 L127.07,418.90 L127.38,419.86 L127.69,420.85 L128.00,421.86 L128.31,422.89 L128.62,423.94 L128.94,425.01 L129.25,426.10 L129.56,427.20 L129.87,428.33 L130.18,429.47 L130.49,430.63 L130.80,431.80 L131.11,432.99 L131.42,434.19 L131.73,435.40 L132.04,436.63 L132.35,437.87 L132.66,439.11 L132.98,440.37 L133.29,441.63 L133.60,442.90 L133.91,444.18 L134.22,445.45 L134.53,446.74 L134.84,448.02 L135.15,449.31 L135.46,450.59 L135.77,451.88 L136.08,453.16 L136.39,454.44 L136.70,455.71 L137.01,456.98 L137.32,458.24 L137.64,459.49 L137.95,460.74 L138.26,461.97 L138.57,463.19 L138.88,464.41 L139.19,465.60 L139.50,466.79 L139.81,467.96 L140.12,469.12 L140.43,470.27 L140.74,471.40 L141.05,472.51 L141.36,473.61 L141.68,474.69 L141.99,475.76 L142.30,476.81 L142.61,477.84 L142.92,478.86 L143.23,479.86 L143.54,480.84 L143.85,481.81 L144.16,482.77 L144.47,483.71 L144.78,484.63 L145.09,485.54 L145.40,486.44 L145.71,487.32 L146.03,488.19 L146.34,489.04 L146.65,489.89 L146.96,490.72 L147.27,491.53 L147.58,492.34 L147.89,493.14 L148.20,493.92 L148.51,494.69 L148.82,495.46 L149.13,496.21 L149.44,496.95 L149.75,497.69 L150.06,498.42 L150.38,499.13 L150.69,499.84 L151.00,500.54 L151.31,501.23 L151.62,501.92 L151.93,502.59 L152.24,503.26 L152.55,503.92 L152.86,504.58 L153.17,505.22 L153.48,505.86 L153.79,506.50 L154.10,507.12 L154.41,507.74 L154.73,508.36 L155.04,508.96 L155.35,509.56 L155.66,510.16 L155.97,510.75 L156.28,511.33 L156.59,511.91 L156.90,512.48 L157.21,513.05 L157.52,513.61 L157.83,514.16 L158.14,514.71 L158.45,515.26 L158.76,515.80 L159.07,516.33 L159.39,516.86 L159.70,517.39 L160.01,517.91 L160.32,518.42 L160.63,518.94 L160.94,519.44 L161.25,519.94 L161.56,520.44 L161.87,520.93 L162.18,521.42 L162.49,521.91 L162.80,522.39 L163.11,522.86 L163.43,523.33 L163.74,523.80 L164.05,524.27 L164.36,524.73 L164.67,525.18 L164.98,525.64 L165.29,526.09 L165.60,526.53 L165.91,526.98 L166.22,527.42 L166.53,527.85 L166.84,528.28 L167.15,528.71 L167.46,529.14 L167.78,529.56 L168.09,529.98 L168.40,530.40 L168.71,530.81 L169.02,531.22 L169.33,531.63 L169.64,532.03 L169.95,532.44 L170.26,532.83 L170.57,533.23 L170.88,533.62 L171.19,534.02 L171.50,534.40 L171.81,534.79 L172.12,535.17 L172.44,535.55 L172.75,535.93 L173.06,536.31 L173.37,536.68 L173.68,537.05 L173.99,537.42 L174.30,537.79 L174.61,538.15 L174.92,538.51 L175.23,538.87 L175.54,539.23 L175.85,539.58 L176.16,539.94 L176.48,540.29 L176.79,540.64 L177.10,540.98 L177.41,541.33 L177.72,541.67 L178.03,542.01 L178.34,542.35 L178.65,542.69 L178.96,543.02 L179.27,543.36 L179.58,543.69 L179.89,544.02 L180.20,544.34 L180.51,544.67 L180.82,544.99 L181.14,545.32 L181.45,545.64 L181.76,545.96 L182.07,546.27 L182.38,546.59 L182.69,546.90 L183.00,547.21 L183.31,547.52 L183.62,547.83 L183.93,548.14 L184.24,548.45 L184.55,548.75 L184.86,549.05 L185.18,549.36 L185.49,549.66 L185.80,549.95 L186.11,550.25 L186.42,550.55 L186.73,550.84 L187.04,551.13 L187.35,551.42 L187.66,551.71 L187.97,552.00 L188.28,552.29 L188.59,552.57 L188.90,552.86 L189.21,553.14 L189.53,553.42 L189.84,553.70 L190.15,553.98 L190.46,554.26 L190.77,554.54 L191.08,554.81 L191.39,555.09 L191.70,555.36 L192.01,555.63 L192.32,555.90 L192.63,556.17 L192.94,556.44 L193.25,556.71 L193.56,556.97 L193.88,557.24 L194.19,557.50 L194.50,557.76 L194.81,558.02 L195.12,558.28 L195.43,558.54 L195.74,558.80 L196.05,559.06 L196.36,559.31 L196.67,559.57 L196.98,559.82 L197.29,560.07 L197.60,560.32 L197.91,560.58 L198.22,560.82 L198.54,561.07 L198.85,561.32 L199.16,561.57 L199.47,561.81 L199.78,562.06 L200.09,562.30 L200.40,562.54 L200.71,562.79 L201.02,563.03 L201.33,563.27 L201.64,563.51 L201.95,563.74 L202.26,563.98 L202.58,564.22 L202.89,564.45 L203.20,564.69 L203.51,564.92 L203.82,565.15 L204.13,565.38 L204.44,565.61 L204.75,565.84 L205.06,566.07 L205.37,566.30 L205.68,566.53 L205.99,566.76 L206.30,566.98 L206.61,567.21 L206.93,567.43 L207.24,567.66 L207.55,567.88 L207.86,568.10 L208.17,568.32 L208.48,568.54" fill="none" stroke="#ff0000" stroke-width="1.7" stroke-linejoin="round"/>
</g>
<g clip-path="url(#c21)">
<path d="M241.36,540.09 L241.41,540.09 L241.41,556.50 L242.66,556.50 L242.66,556.50 L243.90,556.50 L243.90,556.50 L245.14,556.50 L245.14,540.09 L246.39,540.09 L246.39,556.50 L247.63,556.50 L247.63,556.50 L248.87,556.50 L248.87,556.50 L250.11,556.50 L250.11,556.50 L251.36,556.50 L251.36,556.50 L252.60,556.50 L252.60,556.50 L253.84,556.50 L253.84,556.50 L255.09,556.50 L255.09,540.09 L256.33,540.09 L256.33,556.50 L257.57,556.50 L257.57,540.09 L258.81,540.09 L258.81,540.09 L260.06,540.09 L260.06,540.09 L261.30,540.09 L261.30,523.67 L262.54,523.67 L262.54,494.00 L263.79,494.00 L263.79,490.84 L265.03,490.84 L265.03,490.84 L266.27,490.84 L266.27,490.84 L267.51,490.84 L267.51,507.26 L268.76,507.26 L268.76,475.95 L270.00,475.95 L270.00,479.34 L271.24,479.34 L271.24,469.14 L272.49,469.14 L272.49,458.01 L273.73,458.01 L273.73,458.01 L274.97,458.01 L274.97,453.94 L276.21,453.94 L276.21,443.13 L277.46,443.13 L277.46,438.48 L278.70,438.48 L278.70,434.88 L279.94,434.88 L279.94,428.34 L281.19,428.34 L281.19,428.34 L282.43,428.34 L282.43,423.75 L283.67,423.75 L283.67,422.23 L284.91,422.23 L284.91,414.03 L286.16,414.03 L286.16,414.03 L287.40,414.03 L287.40,414.03 L288.64,414.03 L288.64,413.46 L289.89,413.46 L289.89,414.85 L291.13,414.85 L291.13,411.10 L292.37,411.10 L292.37,417.24 L293.61,417.24 L293.61,416.85 L294.86,416.85 L294.86,416.98 L296.10,416.98 L296.10,420.05 L297.34,420.05 L297.34,423.75 L298.59,423.75 L298.59,427.31 L299.83,427.31 L299.83,433.00 L301.07,433.00 L301.07,432.49 L302.31,432.49 L302.31,437.84 L303.56,437.84 L303.56,442.73 L304.80,442.73 L304.80,445.62 L306.04,445.62 L306.04,451.57 L307.29,451.57 L307.29,451.01 L308.53,451.01 L308.53,463.86 L309.77,463.86 L309.77,479.34 L311.01,479.34 L311.01,470.36 L312.26,470.36 L312.26,483.30 L313.50,483.30 L313.50,469.14 L314.74,469.14 L314.74,477.59 L315.99,477.59 L315.99,485.56 L317.23,485.56 L317.23,485.56 L318.47,485.56 L318.47,485.56 L319.71,485.56 L319.71,490.84 L320.96,490.84 L320.96,490.84 L322.20,490.84 L322.20,523.67 L323.44,523.67 L323.44,514.07 L324.69,514.07 L324.69,514.07 L325.93,514.07 L325.93,514.07 L327.17,514.07 L327.17,507.26 L328.41,507.26 L328.41,507.26 L329.66,507.26 L329.66,514.07 L330.90,514.07 L330.90,540.09 L332.14,540.09 L332.14,540.09 L333.39,540.09 L333.39,540.09 L334.63,540.09 L334.63,556.50 L335.87,556.50 L335.87,523.67 L337.11,523.67 L337.11,523.67 L338.36,523.67 L338.36,523.67 L339.60,523.67 L339.60,540.09 L340.84,540.09 L340.84,556.50 L342.09,556.50 L342.09,540.09 L343.33,540.09 L343.33,523.67 L344.57,523.67 L344.57,540.09 L345.81,540.09 L345.81,556.50 L347.06,556.50 L347.06,556.50 L348.30,556.50 L348.30,556.50 L349.54,556.50 L349.54,556.50 L350.79,556.50 L350.79,540.09 L352.03,540.09 L352.03,540.09 L353.27,540.09 L353.27,556.50 L354.51,556.50 L354.51,540.09 L355.76,540.09 L355.76,556.50 L357.00,556.50 L357.00,556.50 L358.24,556.50 L358.24,556.50 L359.49,556.50 L359.49,556.50 L360.73,556.50 L360.73,556.50 L361.97,556.50 L361.97,556.50 L363.21,556.50 L363.21,556.50 L364.46,556.50 L364.46,540.09 L365.70,540.09 L365.70,556.50 L366.94,556.50 L366.94,540.09 L368.19,540.09 L368.19,523.67 L369.43,523.67 L369.43,556.50 L370.67,556.50 L370.67,556.50 L371.91,556.50 L371.91,556.50 L373.16,556.50 L373.16,556.50 L374.40,556.50 L374.40,556.50 L375.64,556.50 L375.64,556.50 L376.89,556.50 L376.89,556.50 L378.13,556.50 L378.13,556.50 L379.37,556.50 L379.37,514.07 L380.61,514.07 L380.61,556.50 L381.86,556.50 L381.86,556.50 L383.10,556.50 L383.10,556.50 L384.34,556.50 L384.34,556.50 L385.59,556.50 L385.59,556.50 L386.83,556.50 L386.83,556.50 L388.07,556.50 L388.07,556.50 L389.31,556.50 L389.31,523.67 L390.56,523.67 L390.56,556.50 L391.80,556.50 L391.80,556.50 L393.04,556.50 L393.04,540.09 L394.29,540.09 L394.29,540.09 L395.53,540.09 L395.53,556.50 L396.77,556.50 L396.77,540.09 L398.01,540.09 L398.01,556.50 L399.26,556.50 L399.26,540.09 L400.50,540.09" fill="none" stroke="#000" stroke-width="1.35" stroke-linejoin="miter"/>
<line x1="291.25" x2="291.25" y1="556.50" y2="376.50" stroke="#666" stroke-width="1.5" stroke-dasharray="4.7,4.75"/>
<path d="M260.06,565.86 L260.37,562.79 L260.68,559.75 L260.99,556.75 L261.30,553.78 L261.61,550.84 L261.92,547.93 L262.23,545.05 L262.54,542.21 L262.85,539.39 L263.16,536.61 L263.48,533.86 L263.79,531.15 L264.10,528.46 L264.41,525.81 L264.72,523.19 L265.03,520.60 L265.34,518.04 L265.65,515.52 L265.96,513.02 L266.27,510.56 L266.58,508.13 L266.89,505.74 L267.20,503.37 L267.51,501.04 L267.82,498.73 L268.14,496.47 L268.45,494.23 L268.76,492.02 L269.07,489.85 L269.38,487.71 L269.69,485.60 L270.00,483.52 L270.31,481.47 L270.62,479.46 L270.93,477.48 L271.24,475.53 L271.55,473.61 L271.86,471.72 L272.18,469.87 L272.49,468.05 L272.80,466.26 L273.11,464.50 L273.42,462.77 L273.73,461.08 L274.04,459.41 L274.35,457.78 L274.66,456.18 L274.97,454.62 L275.28,453.08 L275.59,451.58 L275.90,450.11 L276.21,448.67 L276.52,447.26 L276.84,445.89 L277.15,444.55 L277.46,443.24 L277.77,441.96 L278.08,440.71 L278.39,439.49 L278.70,438.31 L279.01,437.16 L279.32,436.04 L279.63,434.95 L279.94,433.90 L280.25,432.87 L280.56,431.88 L280.88,430.92 L281.19,429.99 L281.50,429.10 L281.81,428.24 L282.12,427.40 L282.43,426.60 L282.74,425.84 L283.05,425.10 L283.36,424.40 L283.67,423.72 L283.98,423.08 L284.29,422.48 L284.60,421.90 L284.91,421.36 L285.23,420.84 L285.54,420.36 L285.85,419.91 L286.16,419.50 L286.47,419.11 L286.78,418.76 L287.09,418.44 L287.40,418.15 L287.71,417.89 L288.02,417.67 L288.33,417.48 L288.64,417.32 L288.95,417.19 L289.26,417.09 L289.57,417.03 L289.89,416.99 L290.20,416.99 L290.51,417.02 L290.82,417.09 L291.13,417.18 L291.44,417.31 L291.75,417.47 L292.06,417.66 L292.37,417.88 L292.68,418.13 L292.99,418.42 L293.30,418.74 L293.61,419.09 L293.93,419.47 L294.24,419.88 L294.55,420.33 L294.86,420.81 L295.17,421.32 L295.48,421.86 L295.79,422.44 L296.10,423.04 L296.41,423.68 L296.72,424.35 L297.03,425.05 L297.34,425.78 L297.65,426.55 L297.96,427.35 L298.27,428.18 L298.59,429.04 L298.90,429.93 L299.21,430.86 L299.52,431.82 L299.83,432.81 L300.14,433.83 L300.45,434.88 L300.76,435.97 L301.07,437.08 L301.38,438.23 L301.69,439.41 L302.00,440.63 L302.31,441.87 L302.62,443.15 L302.94,444.46 L303.25,445.80 L303.56,447.17 L303.87,448.57 L304.18,450.01 L304.49,451.48 L304.80,452.98 L305.11,454.51 L305.42,456.08 L305.73,457.67 L306.04,459.30 L306.35,460.96 L306.66,462.66 L306.98,464.38 L307.29,466.14 L307.60,467.92 L307.91,469.74 L308.22,471.60 L308.53,473.48 L308.84,475.40 L309.15,477.34 L309.46,479.32 L309.77,481.34 L310.08,483.38 L310.39,485.46 L310.70,487.56 L311.01,489.70 L311.32,491.87 L311.64,494.08 L311.95,496.31 L312.26,498.58 L312.57,500.88 L312.88,503.21 L313.19,505.57 L313.50,507.97 L313.81,510.40 L314.12,512.86 L314.43,515.35 L314.74,517.87 L315.05,520.42 L315.36,523.01 L315.68,525.63 L315.99,528.28 L316.30,530.96 L316.61,533.68 L316.92,536.43 L317.23,539.20 L317.54,542.01 L317.85,544.86 L318.16,547.73 L318.47,550.64 L318.78,553.58 L319.09,556.55 L319.40,559.55 L319.71,562.58 L320.02,565.65" fill="none" stroke="#0000ff" stroke-width="1.5" stroke-dasharray="1.5,2.1"/>
<path d="M260.06,565.66 L260.37,562.58 L260.68,559.54 L260.99,556.54 L261.30,553.56 L261.61,550.62 L261.92,547.71 L262.23,544.82 L262.54,541.98 L262.85,539.16 L263.16,536.38 L263.48,533.62 L263.79,530.90 L264.10,528.21 L264.41,525.56 L264.72,522.93 L265.03,520.34 L265.34,517.78 L265.65,515.25 L265.96,512.75 L266.27,510.28 L266.58,507.85 L266.89,505.44 L267.20,503.07 L267.51,500.74 L267.82,498.43 L268.14,496.15 L268.45,493.91 L268.76,491.70 L269.07,489.52 L269.38,487.37 L269.69,485.25 L270.00,483.17 L270.31,481.12 L270.62,479.10 L270.93,477.11 L271.24,475.15 L271.55,473.22 L271.86,471.33 L272.18,469.47 L272.49,467.64 L272.80,465.84 L273.11,464.07 L273.42,462.34 L273.73,460.63 L274.04,458.96 L274.35,457.32 L274.66,455.71 L274.97,454.14 L275.28,452.59 L275.59,451.08 L275.90,449.60 L276.21,448.15 L276.52,446.73 L276.84,445.34 L277.15,443.99 L277.46,442.66 L277.77,441.37 L278.08,440.11 L278.39,438.88 L278.70,437.68 L279.01,436.52 L279.32,435.38 L279.63,434.28 L279.94,433.21 L280.25,432.17 L280.56,431.16 L280.88,430.18 L281.19,429.24 L281.50,428.32 L281.81,427.44 L282.12,426.59 L282.43,425.77 L282.74,424.98 L283.05,424.22 L283.36,423.50 L283.67,422.80 L283.98,422.14 L284.29,421.50 L284.60,420.90 L284.91,420.33 L285.23,419.79 L285.54,419.28 L285.85,418.80 L286.16,418.36 L286.47,417.94 L286.78,417.55 L287.09,417.20 L287.40,416.88 L287.71,416.58 L288.02,416.32 L288.33,416.09 L288.64,415.89 L288.95,415.72 L289.26,415.57 L289.57,415.46 L289.89,415.38 L290.20,415.33 L290.51,415.31 L290.82,415.32 L291.13,415.36 L291.44,415.43 L291.75,415.53 L292.06,415.66 L292.37,415.82 L292.68,416.01 L292.99,416.23 L293.30,416.47 L293.61,416.75 L293.93,417.05 L294.24,417.39 L294.55,417.75 L294.86,418.14 L295.17,418.56 L295.48,419.01 L295.79,419.48 L296.10,419.98 L296.41,420.51 L296.72,421.07 L297.03,421.65 L297.34,422.26 L297.65,422.90 L297.96,423.57 L298.27,424.26 L298.59,424.97 L298.90,425.71 L299.21,426.48 L299.52,427.27 L299.83,428.08 L300.14,428.92 L300.45,429.79 L300.76,430.67 L301.07,431.58 L301.38,432.51 L301.69,433.47 L302.00,434.44 L302.31,435.43 L302.62,436.45 L302.94,437.48 L303.25,438.54 L303.56,439.61 L303.87,440.70 L304.18,441.81 L304.49,442.93 L304.80,444.07 L305.11,445.22 L305.42,446.39 L305.73,447.57 L306.04,448.76 L306.35,449.96 L306.66,451.18 L306.98,452.40 L307.29,453.63 L307.60,454.87 L307.91,456.12 L308.22,457.37 L308.53,458.62 L308.84,459.88 L309.15,461.14 L309.46,462.40 L309.77,463.67 L310.08,464.93 L310.39,466.19 L310.70,467.44 L311.01,468.69 L311.32,469.94 L311.64,471.18 L311.95,472.41 L312.26,473.63 L312.57,474.85 L312.88,476.05 L313.19,477.24 L313.50,478.42 L313.81,479.59 L314.12,480.75 L314.43,481.89 L314.74,483.02 L315.05,484.13 L315.36,485.23 L315.68,486.31 L315.99,487.38 L316.30,488.43 L316.61,489.46 L316.92,490.48 L317.23,491.48 L317.54,492.47 L317.85,493.44 L318.16,494.39 L318.47,495.33 L318.78,496.25 L319.09,497.15 L319.40,498.04 L319.71,498.92 L320.02,499.78 L320.34,500.62 L320.65,501.46 L320.96,502.27 L321.27,503.08 L321.58,503.87 L321.89,504.65 L322.20,505.41 L322.51,506.17 L322.82,506.91 L323.13,507.64 L323.44,508.36 L323.75,509.07 L324.06,509.77 L324.38,510.46 L324.69,511.14 L325.00,511.81 L325.31,512.47 L325.62,513.12 L325.93,513.77 L326.24,514.40 L326.55,515.03 L326.86,515.65 L327.17,516.26 L327.48,516.86 L327.79,517.45 L328.10,518.04 L328.41,518.62 L328.73,519.20 L329.04,519.77 L329.35,520.33 L329.66,520.88 L329.97,521.43 L330.28,521.98 L330.59,522.51 L330.90,523.05 L331.21,523.57 L331.52,524.09 L331.83,524.61 L332.14,525.12 L332.45,525.62 L332.76,526.12 L333.07,526.61 L333.39,527.10 L333.70,527.59 L334.01,528.07 L334.32,528.54 L334.63,529.01 L334.94,529.48 L335.25,529.94 L335.56,530.40 L335.87,530.86 L336.18,531.31 L336.49,531.75 L336.80,532.20 L337.11,532.63 L337.43,533.07 L337.74,533.50 L338.05,533.93 L338.36,534.35 L338.67,534.77 L338.98,535.19 L339.29,535.60 L339.60,536.01 L339.91,536.42 L340.22,536.83 L340.53,537.23 L340.84,537.62 L341.15,538.02 L341.46,538.41 L341.77,538.80 L342.09,539.19 L342.40,539.57 L342.71,539.95 L343.02,540.33 L343.33,540.70 L343.64,541.08 L343.95,541.45 L344.26,541.81 L344.57,542.18 L344.88,542.54 L345.19,542.90 L345.50,543.26 L345.81,543.62 L346.12,543.97 L346.44,544.32 L346.75,544.67 L347.06,545.01 L347.37,545.36 L347.68,545.70 L347.99,546.04 L348.30,546.38 L348.61,546.71 L348.92,547.05 L349.23,547.38 L349.54,547.71 L349.85,548.03 L350.16,548.36 L350.48,548.68 L350.79,549.00 L351.10,549.32 L351.41,549.64 L351.72,549.96 L352.03,550.27 L352.34,550.58 L352.65,550.89 L352.96,551.20 L353.27,551.51 L353.58,551.82 L353.89,552.12 L354.20,552.42 L354.51,552.72 L354.82,553.02 L355.14,553.32 L355.45,553.62 L355.76,553.91 L356.07,554.20 L356.38,554.49 L356.69,554.78 L357.00,555.07 L357.31,555.36 L357.62,555.64 L357.93,555.93 L358.24,556.21 L358.55,556.49 L358.86,556.77 L359.18,557.05 L359.49,557.32 L359.80,557.60 L360.11,557.87 L360.42,558.15 L360.73,558.42 L361.04,558.69 L361.35,558.96 L361.66,559.22 L361.97,559.49 L362.28,559.75 L362.59,560.02 L362.90,560.28 L363.21,560.54 L363.52,560.80 L363.84,561.06 L364.15,561.32 L364.46,561.57 L364.77,561.83 L365.08,562.08 L365.39,562.34 L365.70,562.59 L366.01,562.84 L366.32,563.09 L366.63,563.34 L366.94,563.59 L367.25,563.83 L367.56,564.08 L367.88,564.32 L368.19,564.57 L368.50,564.81 L368.81,565.05 L369.12,565.29 L369.43,565.53 L369.74,565.77 L370.05,566.00 L370.36,566.24 L370.67,566.48 L370.98,566.71 L371.29,566.94 L371.60,567.18 L371.91,567.41 L372.23,567.64 L372.54,567.87 L372.85,568.10 L373.16,568.32 L373.47,568.55" fill="none" stroke="#ff0000" stroke-width="1.7" stroke-linejoin="round"/>
</g>
<g clip-path="url(#c22)">
<path d="M422.82,540.09 L422.87,540.09 L422.87,556.50 L424.11,556.50 L424.11,556.50 L425.36,556.50 L425.36,556.50 L426.60,556.50 L426.60,556.50 L427.84,556.50 L427.84,556.50 L429.09,556.50 L429.09,556.50 L430.33,556.50 L430.33,556.50 L431.57,556.50 L431.57,540.09 L432.81,540.09 L432.81,523.67 L434.06,523.67 L434.06,523.67 L435.30,523.67 L435.30,556.50 L436.54,556.50 L436.54,540.09 L437.79,540.09 L437.79,540.09 L439.03,540.09 L439.03,540.09 L440.27,540.09 L440.27,523.67 L441.51,523.67 L441.51,514.07 L442.76,514.07 L442.76,540.09 L444.00,540.09 L444.00,523.67 L445.24,523.67 L445.24,501.97 L446.49,501.97 L446.49,490.84 L447.73,490.84 L447.73,488.05 L448.97,488.05 L448.97,479.34 L450.21,479.34 L450.21,472.99 L451.46,472.99 L451.46,472.99 L452.70,472.99 L452.70,462.93 L453.94,462.93 L453.94,456.58 L455.19,456.58 L455.19,455.22 L456.43,455.22 L456.43,455.22 L457.67,455.22 L457.67,444.34 L458.91,444.34 L458.91,445.19 L460.16,445.19 L460.16,449.42 L461.40,449.42 L461.40,441.23 L462.64,441.23 L462.64,437.53 L463.89,437.53 L463.89,437.53 L465.13,437.53 L465.13,443.52 L466.37,443.52 L466.37,439.82 L467.61,439.82 L467.61,452.73 L468.86,452.73 L468.86,447.92 L470.10,447.92 L470.10,445.19 L471.34,445.19 L471.34,445.62 L472.59,445.62 L472.59,449.42 L473.83,449.42 L473.83,450.47 L475.07,450.47 L475.07,456.58 L476.31,456.58 L476.31,459.54 L477.56,459.54 L477.56,466.89 L478.80,466.89 L478.80,485.56 L480.04,485.56 L480.04,494.00 L481.29,494.00 L481.29,494.00 L482.53,494.00 L482.53,494.00 L483.77,494.00 L483.77,494.00 L485.01,494.00 L485.01,494.00 L486.26,494.00 L486.26,494.00 L487.50,494.00 L487.50,501.97 L488.74,501.97 L488.74,501.97 L489.99,501.97 L489.99,540.09 L491.23,540.09 L491.23,514.07 L492.47,514.07 L492.47,514.07 L493.71,514.07 L493.71,507.26 L494.96,507.26 L494.96,507.26 L496.20,507.26 L496.20,540.09 L497.44,540.09 L497.44,540.09 L498.69,540.09 L498.69,523.67 L499.93,523.67 L499.93,556.50 L501.17,556.50 L501.17,523.67 L502.41,523.67 L502.41,556.50 L503.66,556.50 L503.66,556.50 L504.90,556.50 L504.90,514.07 L506.14,514.07 L506.14,556.50 L507.39,556.50 L507.39,556.50 L508.63,556.50 L508.63,523.67 L509.87,523.67 L509.87,523.67 L511.11,523.67 L511.11,540.09 L512.36,540.09 L512.36,556.50 L513.60,556.50 L513.60,540.09 L514.84,540.09 L514.84,556.50 L516.09,556.50 L516.09,556.50 L517.33,556.50 L517.33,540.09 L518.57,540.09 L518.57,540.09 L519.81,540.09 L519.81,556.50 L521.06,556.50 L521.06,540.09 L522.30,540.09 L522.30,540.09 L523.54,540.09 L523.54,556.50 L524.79,556.50 L524.79,540.09 L526.03,540.09 L526.03,556.50 L527.27,556.50 L527.27,556.50 L528.51,556.50 L528.51,556.50 L529.76,556.50 L529.76,556.50 L531.00,556.50 L531.00,556.50 L532.24,556.50 L532.24,556.50 L533.49,556.50 L533.49,540.09 L534.73,540.09 L534.73,556.50 L535.97,556.50 L535.97,556.50 L537.21,556.50 L537.21,556.50 L538.46,556.50 L538.46,556.50 L539.70,556.50 L539.70,556.50 L540.94,556.50 L540.94,556.50 L542.19,556.50 L542.19,556.50 L543.43,556.50 L543.43,556.50 L544.67,556.50 L544.67,556.50 L545.91,556.50 L545.91,556.50 L547.16,556.50 L547.16,540.09 L548.40,540.09 L548.40,540.09 L549.64,540.09 L549.64,556.50 L550.89,556.50 L550.89,556.50 L552.13,556.50 L552.13,556.50 L553.37,556.50 L553.37,540.09 L554.61,540.09 L554.61,556.50 L555.86,556.50 L555.86,556.50 L557.10,556.50 L557.10,556.50 L558.34,556.50 L558.34,556.50 L559.59,556.50 L559.59,556.50 L560.83,556.50 L560.83,556.50 L562.07,556.50 L562.07,540.09 L563.31,540.09 L563.31,556.50 L564.56,556.50 L564.56,556.50 L565.80,556.50 L565.80,556.50 L567.04,556.50 L567.04,556.50 L568.29,556.50 L568.29,556.50 L569.53,556.50 L569.53,556.50 L570.77,556.50 L570.77,556.50 L572.01,556.50 L572.01,556.50 L573.26,556.50 L573.26,556.50 L574.50,556.50" fill="none" stroke="#000" stroke-width="1.35" stroke-linejoin="miter"/>
<line x1="465.56" x2="465.56" y1="556.50" y2="376.50" stroke="#666" stroke-width="1.5" stroke-dasharray="4.7,4.75"/>
<path d="M436.54,566.00 L436.85,563.26 L437.16,560.54 L437.48,557.86 L437.79,555.20 L438.10,552.58 L438.41,549.98 L438.72,547.42 L439.03,544.89 L439.34,542.39 L439.65,539.92 L439.96,537.48 L440.27,535.07 L440.58,532.69 L440.89,530.34 L441.20,528.02 L441.51,525.74 L441.82,523.48 L442.14,521.25 L442.45,519.06 L442.76,516.90 L443.07,514.76 L443.38,512.66 L443.69,510.59 L444.00,508.55 L444.31,506.54 L444.62,504.56 L444.93,502.61 L445.24,500.69 L445.55,498.80 L445.86,496.94 L446.18,495.11 L446.49,493.32 L446.80,491.55 L447.11,489.82 L447.42,488.11 L447.73,486.44 L448.04,484.80 L448.35,483.19 L448.66,481.60 L448.97,480.05 L449.28,478.53 L449.59,477.04 L449.90,475.59 L450.21,474.16 L450.52,472.76 L450.84,471.39 L451.15,470.06 L451.46,468.75 L451.77,467.48 L452.08,466.23 L452.39,465.02 L452.70,463.84 L453.01,462.68 L453.32,461.56 L453.63,460.47 L453.94,459.41 L454.25,458.38 L454.56,457.38 L454.88,456.42 L455.19,455.48 L455.50,454.57 L455.81,453.70 L456.12,452.85 L456.43,452.04 L456.74,451.25 L457.05,450.50 L457.36,449.77 L457.67,449.08 L457.98,448.42 L458.29,447.79 L458.60,447.19 L458.91,446.62 L459.23,446.08 L459.54,445.57 L459.85,445.10 L460.16,444.65 L460.47,444.23 L460.78,443.85 L461.09,443.49 L461.40,443.17 L461.71,442.88 L462.02,442.61 L462.33,442.38 L462.64,442.18 L462.95,442.01 L463.26,441.87 L463.57,441.76 L463.89,441.68 L464.20,441.63 L464.51,441.62 L464.82,441.63 L465.13,441.67 L465.44,441.75 L465.75,441.85 L466.06,441.99 L466.37,442.15 L466.68,442.35 L466.99,442.58 L467.30,442.84 L467.61,443.13 L467.93,443.45 L468.24,443.80 L468.55,444.18 L468.86,444.59 L469.17,445.03 L469.48,445.51 L469.79,446.01 L470.10,446.55 L470.41,447.11 L470.72,447.71 L471.03,448.33 L471.34,448.99 L471.65,449.68 L471.96,450.40 L472.27,451.15 L472.59,451.93 L472.90,452.74 L473.21,453.58 L473.52,454.45 L473.83,455.35 L474.14,456.29 L474.45,457.25 L474.76,458.24 L475.07,459.27 L475.38,460.32 L475.69,461.41 L476.00,462.53 L476.31,463.68 L476.62,464.86 L476.94,466.06 L477.25,467.30 L477.56,468.57 L477.87,469.88 L478.18,471.21 L478.49,472.57 L478.80,473.96 L479.11,475.39 L479.42,476.84 L479.73,478.33 L480.04,479.84 L480.35,481.39 L480.66,482.97 L480.98,484.58 L481.29,486.21 L481.60,487.88 L481.91,489.58 L482.22,491.31 L482.53,493.07 L482.84,494.87 L483.15,496.69 L483.46,498.54 L483.77,500.43 L484.08,502.34 L484.39,504.29 L484.70,506.26 L485.01,508.27 L485.32,510.31 L485.64,512.37 L485.95,514.47 L486.26,516.60 L486.57,518.76 L486.88,520.95 L487.19,523.17 L487.50,525.43 L487.81,527.71 L488.12,530.02 L488.43,532.36 L488.74,534.74 L489.05,537.14 L489.36,539.58 L489.68,542.05 L489.99,544.54 L490.30,547.07 L490.61,549.63 L490.92,552.22 L491.23,554.84 L491.54,557.49 L491.85,560.17 L492.16,562.88 L492.47,565.63 L492.78,568.40" fill="none" stroke="#0000ff" stroke-width="1.5" stroke-dasharray="1.5,2.1"/>
<path d="M436.54,565.91 L436.85,563.17 L437.16,560.45 L437.48,557.76 L437.79,555.11 L438.10,552.48 L438.41,549.88 L438.72,547.32 L439.03,544.79 L439.34,542.28 L439.65,539.81 L439.96,537.37 L440.27,534.96 L440.58,532.58 L440.89,530.23 L441.20,527.91 L441.51,525.62 L441.82,523.36 L442.14,521.13 L442.45,518.93 L442.76,516.77 L443.07,514.63 L443.38,512.53 L443.69,510.45 L444.00,508.41 L444.31,506.39 L444.62,504.41 L444.93,502.46 L445.24,500.54 L445.55,498.64 L445.86,496.78 L446.18,494.95 L446.49,493.15 L446.80,491.38 L447.11,489.65 L447.42,487.94 L447.73,486.26 L448.04,484.61 L448.35,483.00 L448.66,481.41 L448.97,479.86 L449.28,478.33 L449.59,476.84 L449.90,475.37 L450.21,473.94 L450.52,472.54 L450.84,471.17 L451.15,469.82 L451.46,468.51 L451.77,467.23 L452.08,465.98 L452.39,464.76 L452.70,463.57 L453.01,462.41 L453.32,461.28 L453.63,460.19 L453.94,459.12 L454.25,458.08 L454.56,457.07 L454.88,456.10 L455.19,455.15 L455.50,454.24 L455.81,453.35 L456.12,452.49 L456.43,451.67 L456.74,450.87 L457.05,450.11 L457.36,449.38 L457.67,448.67 L457.98,448.00 L458.29,447.36 L458.60,446.74 L458.91,446.16 L459.23,445.61 L459.54,445.08 L459.85,444.59 L460.16,444.13 L460.47,443.69 L460.78,443.29 L461.09,442.92 L461.40,442.58 L461.71,442.26 L462.02,441.98 L462.33,441.73 L462.64,441.50 L462.95,441.31 L463.26,441.14 L463.57,441.01 L463.89,440.91 L464.20,440.83 L464.51,440.78 L464.82,440.77 L465.13,440.78 L465.44,440.82 L465.75,440.89 L466.06,440.99 L466.37,441.12 L466.68,441.28 L466.99,441.47 L467.30,441.68 L467.61,441.93 L467.93,442.20 L468.24,442.50 L468.55,442.83 L468.86,443.19 L469.17,443.58 L469.48,443.99 L469.79,444.43 L470.10,444.90 L470.41,445.40 L470.72,445.92 L471.03,446.47 L471.34,447.05 L471.65,447.65 L471.96,448.29 L472.27,448.94 L472.59,449.63 L472.90,450.33 L473.21,451.07 L473.52,451.83 L473.83,452.61 L474.14,453.42 L474.45,454.25 L474.76,455.10 L475.07,455.98 L475.38,456.88 L475.69,457.81 L476.00,458.75 L476.31,459.72 L476.62,460.70 L476.94,461.71 L477.25,462.74 L477.56,463.78 L477.87,464.85 L478.18,465.93 L478.49,467.03 L478.80,468.14 L479.11,469.27 L479.42,470.41 L479.73,471.57 L480.04,472.74 L480.35,473.92 L480.66,475.11 L480.98,476.31 L481.29,477.52 L481.60,478.73 L481.91,479.95 L482.22,481.18 L482.53,482.41 L482.84,483.64 L483.15,484.88 L483.46,486.11 L483.77,487.34 L484.08,488.58 L484.39,489.80 L484.70,491.02 L485.01,492.24 L485.32,493.45 L485.64,494.64 L485.95,495.83 L486.26,497.01 L486.57,498.18 L486.88,499.33 L487.19,500.47 L487.50,501.59 L487.81,502.70 L488.12,503.80 L488.43,504.87 L488.74,505.93 L489.05,506.97 L489.36,508.00 L489.68,509.00 L489.99,509.99 L490.30,510.96 L490.61,511.90 L490.92,512.84 L491.23,513.75 L491.54,514.64 L491.85,515.52 L492.16,516.38 L492.47,517.23 L492.78,518.05 L493.09,518.86 L493.40,519.66 L493.71,520.44 L494.02,521.20 L494.34,521.96 L494.65,522.70 L494.96,523.42 L495.27,524.14 L495.58,524.84 L495.89,525.53 L496.20,526.21 L496.51,526.88 L496.82,527.54 L497.13,528.19 L497.44,528.83 L497.75,529.47 L498.06,530.09 L498.38,530.71 L498.69,531.32 L499.00,531.92 L499.31,532.52 L499.62,533.11 L499.93,533.69 L500.24,534.27 L500.55,534.84 L500.86,535.40 L501.17,535.96 L501.48,536.52 L501.79,537.07 L502.10,537.61 L502.41,538.15 L502.73,538.68 L503.04,539.21 L503.35,539.74 L503.66,540.26 L503.97,540.77 L504.28,541.29 L504.59,541.79 L504.90,542.29 L505.21,542.79 L505.52,543.29 L505.83,543.78 L506.14,544.26 L506.45,544.74 L506.76,545.22 L507.07,545.70 L507.39,546.17 L507.70,546.63 L508.01,547.10 L508.32,547.55 L508.63,548.01 L508.94,548.46 L509.25,548.91 L509.56,549.35 L509.87,549.79 L510.18,550.23 L510.49,550.66 L510.80,551.10 L511.11,551.52 L511.43,551.95 L511.74,552.37 L512.05,552.78 L512.36,553.20 L512.67,553.61 L512.98,554.02 L513.29,554.42 L513.60,554.82 L513.91,555.22 L514.22,555.62 L514.53,556.01 L514.84,556.40 L515.15,556.79 L515.46,557.17 L515.77,557.56 L516.09,557.93 L516.40,558.31 L516.71,558.68 L517.02,559.06 L517.33,559.42 L517.64,559.79 L517.95,560.15 L518.26,560.52 L518.57,560.88 L518.88,561.23 L519.19,561.59 L519.50,561.94 L519.81,562.29 L520.12,562.63 L520.44,562.98 L520.75,563.32 L521.06,563.66 L521.37,564.00 L521.68,564.34 L521.99,564.67 L522.30,565.00 L522.61,565.33 L522.92,565.66 L523.23,565.99 L523.54,566.31 L523.85,566.64 L524.16,566.96 L524.48,567.28 L524.79,567.59 L525.10,567.91 L525.41,568.22 L525.72,568.53" fill="none" stroke="#ff0000" stroke-width="1.7" stroke-linejoin="round"/>
</g>
<g font-family="Liberation Sans, sans-serif" fill="#000" style="filter:grayscale(1)">
<text x="47.9" y="25.10" font-size="14.6" text-anchor="end">1000</text>
<text x="47.9" y="75.70" font-size="14.6" text-anchor="end">100</text>
<text x="47.9" y="130.70" font-size="14.6" text-anchor="end">10</text>
<text x="47.9" y="184.70" font-size="14.6" text-anchor="end">1</text>
<text x="47.9" y="205.10" font-size="14.6" text-anchor="end">1000</text>
<text x="47.9" y="255.70" font-size="14.6" text-anchor="end">100</text>
<text x="47.9" y="310.70" font-size="14.6" text-anchor="end">10</text>
<text x="47.9" y="364.70" font-size="14.6" text-anchor="end">1</text>
<text x="47.9" y="385.10" font-size="14.6" text-anchor="end">1000</text>
<text x="47.9" y="435.70" font-size="14.6" text-anchor="end">100</text>
<text x="47.9" y="490.70" font-size="14.6" text-anchor="end">10</text>
<text x="47.9" y="544.70" font-size="14.6" text-anchor="end">1</text>
<text x="83.66" y="576.0" font-size="14.6" text-anchor="middle">−50</text>
<text x="114.82" y="576.0" font-size="14.6" text-anchor="middle">0</text>
<text x="145.98" y="576.0" font-size="14.6" text-anchor="middle">50</text>
<text x="177.14" y="576.0" font-size="14.6" text-anchor="middle">100</text>
<text x="208.30" y="576.0" font-size="14.6" text-anchor="middle">150</text>
<text x="257.66" y="576.0" font-size="14.6" text-anchor="middle">−50</text>
<text x="288.82" y="576.0" font-size="14.6" text-anchor="middle">0</text>
<text x="319.98" y="576.0" font-size="14.6" text-anchor="middle">50</text>
<text x="351.14" y="576.0" font-size="14.6" text-anchor="middle">100</text>
<text x="382.30" y="576.0" font-size="14.6" text-anchor="middle">150</text>
<text x="431.66" y="576.0" font-size="14.6" text-anchor="middle">−50</text>
<text x="462.82" y="576.0" font-size="14.6" text-anchor="middle">0</text>
<text x="493.98" y="576.0" font-size="14.6" text-anchor="middle">50</text>
<text x="525.14" y="576.0" font-size="14.6" text-anchor="middle">100</text>
<text x="556.30" y="576.0" font-size="14.6" text-anchor="middle">150</text>
<text x="0.8" y="294.0" font-size="14.6">N</text>
<text x="322" y="590.9" font-size="15" text-anchor="middle">1.4 GHz flux density (µJy)</text>
<text x="152.30" y="32.60" font-size="12">0.1&lt;z&lt;0.3</text>
<text x="152.30" y="49.30" font-size="12" xml:space="preserve">&lt;S<tspan font-size="7.4" dy="2.3">1.4</tspan><tspan dy="-2.3">&gt;=12.5</tspan></text>
<text x="326.30" y="32.60" font-size="12">0.3&lt;z&lt;0.6</text>
<text x="326.30" y="49.30" font-size="12" xml:space="preserve">&lt;S<tspan font-size="7.4" dy="2.3">1.4</tspan><tspan dy="-2.3">&gt;= 7.5</tspan></text>
<text x="500.30" y="32.60" font-size="12">0.6&lt;z&lt;0.9</text>
<text x="500.30" y="49.30" font-size="12" xml:space="preserve">&lt;S<tspan font-size="7.4" dy="2.3">1.4</tspan><tspan dy="-2.3">&gt;= 5.8</tspan></text>
<text x="152.30" y="212.60" font-size="12">0.9&lt;z&lt;1.2</text>
<text x="152.30" y="229.30" font-size="12" xml:space="preserve">&lt;S<tspan font-size="7.4" dy="2.3">1.4</tspan><tspan dy="-2.3">&gt;= 5.7</tspan></text>
<text x="326.30" y="212.60" font-size="12">1.2&lt;z&lt;1.5</text>
<text x="326.30" y="229.30" font-size="12" xml:space="preserve">&lt;S<tspan font-size="7.4" dy="2.3">1.4</tspan><tspan dy="-2.3">&gt;= 4.9</tspan></text>
<text x="500.30" y="212.60" font-size="12">1.5&lt;z&lt;2.0</text>
<text x="500.30" y="229.30" font-size="12" xml:space="preserve">&lt;S<tspan font-size="7.4" dy="2.3">1.4</tspan><tspan dy="-2.3">&gt;= 4.7</tspan></text>
<text x="152.30" y="392.60" font-size="12">2.0&lt;z&lt;2.5</text>
<text x="152.30" y="409.30" font-size="12" xml:space="preserve">&lt;S<tspan font-size="7.4" dy="2.3">1.4</tspan><tspan dy="-2.3">&gt;= 4.1</tspan></text>
<text x="326.30" y="392.60" font-size="12">2.5&lt;z&lt;3.0</text>
<text x="326.30" y="409.30" font-size="12" xml:space="preserve">&lt;S<tspan font-size="7.4" dy="2.3">1.4</tspan><tspan dy="-2.3">&gt;= 4.2</tspan></text>
<text x="500.30" y="392.60" font-size="12">3.0&lt;z&lt;4.0</text>
<text x="500.30" y="409.30" font-size="12" xml:space="preserve">&lt;S<tspan font-size="7.4" dy="2.3">1.4</tspan><tspan dy="-2.3">&gt;= 4.7</tspan></text>
</g>
</svg>
</body></html>
